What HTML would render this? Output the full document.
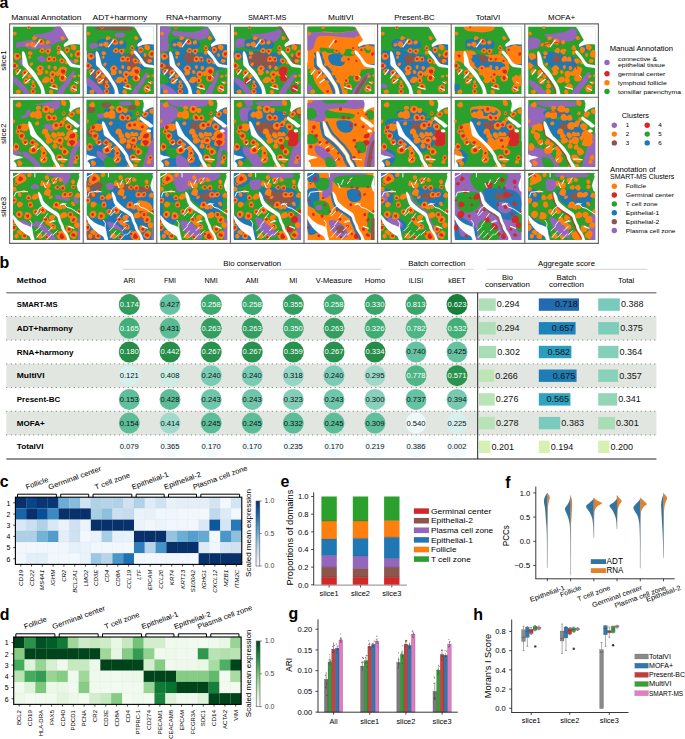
<!DOCTYPE html>
<html><head><meta charset="utf-8"><title>figure</title>
<style>
html,body{margin:0;padding:0;background:#fff;width:685px;height:739px;overflow:hidden;}
svg{display:block;font-family:"Liberation Sans",sans-serif;}
</style></head><body>
<svg width="685" height="739" viewBox="0 0 685 739">
<rect width="685" height="739" fill="#fff"/>
<defs><clipPath id="cl0"><rect x="29" y="25" width="622" height="626"/></clipPath><g id="g0o0"><path id="b0_0o" d="M185,21C188,23 190,30 190,34C190,38 187,42 184,45C181,48 176,51 173,50C169,50 165,46 162,42C160,39 158,32 159,29C160,25 167,23 171,22C175,20 181,19 185,21Z"/><path id="b0_2o" d="M254,128C255,133 247,141 243,144C239,148 236,150 231,151C226,152 216,154 212,151C209,147 207,137 208,131C209,125 215,118 220,116C224,114 231,116 237,118C243,120 253,124 254,128Z"/><path id="b0_4o" d="M161,210C156,211 150,210 147,207C144,205 143,197 144,193C145,189 149,184 152,182C156,179 162,177 166,178C171,179 180,183 182,188C184,193 181,203 178,207C175,211 167,210 161,210Z"/><path id="b0_6o" d="M358,153C364,154 369,162 371,167C372,172 371,180 368,184C365,187 360,189 355,190C350,192 341,194 338,191C334,189 332,180 332,174C332,168 334,160 339,157C343,153 353,151 358,153Z"/><path id="b0_8o" d="M357,287C351,288 343,277 337,271C331,265 322,258 323,253C323,247 334,241 340,237C346,234 352,232 359,233C366,234 380,237 383,243C385,249 376,259 372,267C368,274 363,286 357,287Z"/><path id="b0_10o" d="M470,124C472,120 478,114 483,113C487,112 493,116 497,119C502,122 508,127 509,132C509,137 505,146 501,149C496,152 487,154 482,152C478,150 475,144 473,139C471,134 469,128 470,124Z"/><path id="b0_12o" d="M36,306C34,296 38,281 45,275C51,269 66,270 74,271C82,273 89,279 94,285C99,291 105,302 103,309C101,316 92,324 83,328C75,333 61,338 53,334C45,330 37,316 36,306Z"/><path id="b0_14o" d="M388,343C383,349 373,353 365,353C357,354 344,351 340,345C336,339 339,327 342,320C344,313 349,307 355,304C361,300 371,296 378,298C384,301 391,311 393,319C395,326 392,337 388,343Z"/><path id="b0_16o" d="M440,282C436,279 434,272 434,267C434,263 437,256 441,253C445,250 452,249 457,250C462,251 469,255 471,260C472,264 469,271 467,276C465,280 460,287 456,288C451,289 444,286 440,282Z"/><path id="b0_18o" d="M532,376C529,378 522,376 518,374C515,371 512,367 511,363C510,359 510,353 512,350C515,346 521,343 525,344C530,344 535,347 538,350C541,353 542,360 541,364C540,368 536,374 532,376Z"/><path id="b0_20o" d="M612,205C616,211 618,221 616,228C614,235 606,245 600,247C594,248 585,242 579,238C573,235 566,230 565,224C563,217 565,206 569,200C574,195 585,191 592,192C599,193 608,199 612,205Z"/><path id="b0_22o" d="M583,286C584,290 582,294 580,298C578,302 574,310 571,310C567,311 562,303 559,299C557,295 556,292 557,287C557,283 559,276 562,274C565,273 573,274 576,276C580,278 583,283 583,286Z"/><path id="b0_24o" d="M37,357C45,356 53,365 60,370C68,376 81,383 81,390C81,396 68,404 61,409C54,415 45,422 38,421C32,419 28,408 24,401C20,393 13,383 15,376C18,369 30,358 37,357Z"/><path id="b0_26o" d="M282,384C289,383 298,388 304,394C310,400 317,412 316,419C314,426 302,431 294,435C286,440 274,448 266,446C259,443 247,429 246,421C245,413 256,402 261,396C267,390 274,384 282,384Z"/><path id="b0_28o" d="M433,421C430,425 424,431 419,431C415,431 409,425 406,420C404,416 403,410 404,406C405,401 408,394 412,392C416,390 425,390 429,393C433,395 437,402 437,407C438,411 436,417 433,421Z"/><path id="b0_30o" d="M52,434C54,428 60,424 66,421C72,418 83,412 88,415C93,417 97,429 98,435C98,442 97,450 93,455C89,460 81,465 74,465C68,466 56,462 52,457C49,452 49,440 52,434Z"/><path id="b0_32o" d="M201,495C198,500 194,503 188,505C183,507 173,508 169,505C165,502 164,492 165,486C165,480 168,472 172,469C176,466 184,469 189,471C195,473 202,475 204,479C206,483 203,491 201,495Z"/><path id="b0_34o" d="M365,465C366,456 372,445 379,440C386,436 400,435 409,438C417,442 427,453 428,461C429,469 422,479 417,486C412,493 404,505 396,505C389,506 379,495 374,488C369,482 364,473 365,465Z"/><path id="b0_36o" d="M469,484C459,479 447,463 445,450C443,438 449,420 457,411C465,402 482,397 494,397C506,398 525,406 529,415C534,424 525,439 521,450C518,461 517,475 508,480C500,486 480,489 469,484Z"/><path id="b0_38o" d="M134,510C139,505 152,499 158,500C165,502 169,514 173,521C177,529 183,539 181,545C179,551 167,557 159,559C151,561 139,561 133,556C128,552 127,540 127,533C127,525 129,516 134,510Z"/><path id="b0_40o" d="M295,532C293,525 305,513 311,507C317,500 322,494 331,492C339,491 356,490 362,496C368,502 370,520 367,529C364,537 353,543 345,546C337,550 328,552 320,550C311,548 296,539 295,532Z"/><path id="b0_42o" d="M205,561C209,557 216,553 221,554C226,555 232,560 236,565C239,571 243,580 241,586C239,592 230,598 223,600C216,602 204,602 200,598C195,593 197,582 198,575C198,569 201,564 205,561Z"/><path id="b0_44o" d="M61,643C57,639 53,627 55,621C58,616 69,612 75,611C81,609 89,609 93,612C97,615 100,622 101,628C101,633 100,640 96,644C93,647 86,649 80,649C74,648 66,648 61,643Z"/><path id="b0_46o" d="M397,620C400,624 403,631 403,636C402,642 398,651 393,653C388,655 380,651 375,648C370,646 364,642 362,637C361,632 362,624 365,619C368,614 376,608 381,608C387,608 393,615 397,620Z"/><path id="b0_48o" d="M612,541C613,537 615,530 618,528C622,527 628,530 633,532C637,534 644,538 645,542C645,546 639,551 635,555C632,558 627,564 624,563C620,563 615,557 613,553C612,549 611,545 612,541Z"/><path id="b0_50o" d="M629,482C628,479 629,473 631,472C634,470 639,470 642,471C646,472 649,473 651,476C653,479 655,486 654,488C653,491 646,492 642,492C639,492 635,493 633,491C631,490 629,485 629,482Z"/></g><g id="g0i0"><path id="b0_0i" d="M168,36C167,34 168,31 169,29C170,28 174,28 176,28C177,28 179,30 180,31C181,33 183,36 182,37C182,39 179,41 178,42C176,42 174,41 172,40C170,39 168,38 168,36Z"/><path id="b0_8i" d="M345,246C347,244 352,243 354,244C357,244 361,247 362,250C364,252 362,256 361,259C360,262 358,268 355,268C353,269 348,265 346,262C344,260 342,258 342,255C342,252 343,248 345,246Z"/><path id="b0_12i" d="M67,286C70,285 76,286 79,288C83,289 87,294 87,298C87,301 83,305 81,308C78,311 74,314 71,314C68,313 65,310 62,307C60,304 55,298 56,295C57,292 63,288 67,286Z"/><path id="b0_14i" d="M361,337C358,336 356,332 354,329C353,326 352,320 354,318C355,316 361,315 364,315C367,315 370,316 372,318C375,320 379,324 379,327C379,329 374,332 371,334C368,336 364,338 361,337Z"/><path id="b0_24i" d="M54,403C51,405 45,406 41,405C37,404 32,400 30,396C29,392 31,387 33,383C35,380 38,375 42,374C46,373 54,374 56,377C59,380 57,386 57,391C56,395 57,400 54,403Z"/><path id="b0_26i" d="M278,403C281,402 284,402 287,403C289,404 292,407 293,410C294,413 293,418 291,419C289,421 285,421 282,421C279,421 275,420 273,419C272,417 271,412 272,409C273,407 276,404 278,403Z"/><path id="b0_30i" d="M86,439C87,443 87,448 85,451C82,453 76,455 73,454C70,453 67,448 66,445C65,442 65,439 66,437C67,434 69,432 72,431C75,429 80,427 83,429C85,430 86,436 86,439Z"/><path id="b0_34i" d="M391,480C388,478 384,477 383,474C382,471 384,467 386,464C388,462 391,459 394,459C397,458 402,458 405,461C407,463 410,468 409,472C409,475 405,481 402,482C399,484 395,481 391,480Z"/><path id="b0_36i" d="M492,463C487,462 481,458 478,454C475,449 472,443 473,438C474,433 479,427 483,425C488,423 495,422 500,424C505,426 511,432 513,437C515,442 514,452 510,456C507,460 498,463 492,463Z"/><path id="b0_38i" d="M146,541C144,539 142,536 141,533C141,530 141,525 143,523C145,521 150,520 154,521C157,521 163,522 164,525C166,527 165,534 163,536C162,539 158,541 155,542C152,542 148,542 146,541Z"/><path id="b0_42i" d="M210,579C209,577 208,574 209,571C209,569 212,565 214,565C216,564 220,567 222,568C224,570 226,572 226,575C226,577 226,582 224,584C223,585 217,586 215,586C213,585 211,581 210,579Z"/></g><g id="g0o1"><path id="b0_1o" d="M58,104C54,107 46,109 42,108C38,107 34,101 32,97C30,93 28,87 30,84C31,80 36,76 41,75C45,73 51,73 55,76C59,78 63,84 64,89C64,94 61,101 58,104Z"/><path id="b0_3o" d="M294,196C286,196 277,190 271,184C265,179 260,168 260,160C261,152 269,140 276,137C283,134 294,139 301,142C307,146 311,151 315,158C318,165 324,178 321,185C318,191 303,196 294,196Z"/><path id="b0_5o" d="M188,176C192,171 202,167 210,168C217,168 228,173 231,179C235,185 235,196 232,204C230,211 223,221 217,222C211,223 203,215 197,211C192,207 185,204 183,198C182,192 183,181 188,176Z"/><path id="b0_7o" d="M290,270C283,267 273,262 272,256C271,250 279,242 283,236C288,231 294,223 300,223C306,223 316,229 320,235C323,240 322,248 321,255C319,262 316,272 311,274C306,277 297,273 290,270Z"/><path id="b0_9o" d="M431,230C430,225 434,219 437,213C440,208 447,198 452,198C457,198 462,209 466,214C469,219 475,224 474,230C474,236 469,247 464,249C459,251 450,245 444,242C439,238 432,235 431,230Z"/><path id="b0_11o" d="M170,281C168,276 167,266 170,261C173,257 183,255 189,255C194,255 201,257 205,261C209,265 212,273 211,278C210,283 203,287 199,290C194,293 187,295 183,294C178,293 172,287 170,281Z"/><path id="b0_13o" d="M184,325C181,325 175,322 173,319C170,315 168,309 169,306C171,302 177,300 180,299C184,298 188,298 191,299C194,301 196,305 197,308C197,311 196,315 194,318C192,321 188,325 184,325Z"/><path id="b0_15o" d="M428,326C430,333 434,343 431,347C428,351 417,350 410,350C403,351 390,352 387,348C384,344 390,333 392,326C394,318 393,308 398,304C403,301 416,303 421,307C427,310 427,319 428,326Z"/><path id="b0_17o" d="M455,341C455,335 461,323 467,320C473,317 483,322 490,325C496,327 505,331 508,337C510,343 508,354 504,360C500,365 490,371 484,371C478,371 473,364 468,359C463,354 455,348 455,341Z"/><path id="b0_19o" d="M517,215C522,212 535,214 541,218C548,221 555,229 556,236C557,242 554,251 550,258C546,264 537,275 530,275C524,275 515,263 511,257C508,251 507,244 508,237C509,230 511,218 517,215Z"/><path id="b0_21o" d="M650,311C643,316 628,316 620,313C611,309 603,298 601,290C599,282 604,272 608,264C613,256 620,244 629,243C637,241 653,247 659,254C665,261 666,275 665,285C663,294 658,306 650,311Z"/><path id="b0_23o" d="M634,334C637,338 637,350 634,355C631,359 622,360 616,361C610,362 603,364 599,362C595,359 593,351 592,345C592,340 595,332 599,329C603,326 610,328 615,329C621,329 631,329 634,334Z"/><path id="b0_25o" d="M187,388C184,384 181,377 183,373C184,369 189,366 193,364C197,361 202,357 206,358C210,359 215,366 215,370C216,374 212,378 210,382C208,385 206,392 202,393C198,394 190,391 187,388Z"/><path id="b0_27o" d="M354,388C358,384 366,381 370,383C374,384 377,392 378,396C379,401 378,404 377,408C375,412 372,420 369,421C365,422 358,417 355,414C352,410 350,406 350,401C349,397 351,391 354,388Z"/><path id="b0_29o" d="M258,445C261,437 265,425 271,423C277,421 288,427 294,431C300,435 307,442 308,448C309,454 305,464 300,469C295,474 287,477 280,478C273,478 259,476 255,470C252,465 256,452 258,445Z"/><path id="b0_31o" d="M167,457C166,466 164,476 158,481C151,486 137,492 129,489C122,486 117,473 114,465C112,457 113,448 117,441C120,435 128,429 136,426C144,424 160,423 165,428C170,433 168,448 167,457Z"/><path id="b0_33o" d="M324,440C326,435 332,429 336,429C340,428 345,432 349,435C353,438 357,442 358,447C358,451 356,459 352,462C349,465 340,468 336,466C332,465 329,458 327,453C325,449 323,444 324,440Z"/><path id="b0_35o" d="M420,455C422,450 428,443 434,441C439,439 450,438 454,442C458,445 459,453 460,459C461,466 463,475 460,479C457,483 446,484 440,483C434,482 427,479 423,475C420,470 419,461 420,455Z"/><path id="b0_37o" d="M476,478C484,474 495,468 503,471C511,474 522,485 524,494C527,504 523,520 516,526C510,533 496,536 486,535C477,535 464,530 459,523C454,516 454,502 457,494C460,487 468,482 476,478Z"/><path id="b0_39o" d="M219,555C215,556 210,554 206,551C203,549 200,544 199,540C199,536 201,530 204,527C207,524 214,522 218,523C222,524 226,529 228,533C230,537 231,543 229,546C228,550 223,554 219,555Z"/><path id="b0_41o" d="M370,543C366,538 365,531 365,524C365,516 366,503 371,500C377,496 390,498 397,501C404,504 413,512 415,518C417,525 414,537 410,542C405,548 395,552 389,552C382,552 374,548 370,543Z"/><path id="b0_43o" d="M443,590C441,596 429,601 422,604C415,607 406,610 399,608C392,605 383,596 381,588C379,581 381,567 386,561C392,555 404,553 413,553C421,554 430,558 435,564C440,570 445,583 443,590Z"/><path id="b0_45o" d="M211,656C205,655 198,645 195,639C191,633 188,623 190,617C192,612 202,606 208,605C214,603 222,605 227,608C233,612 240,619 241,625C242,631 237,639 232,644C227,650 217,657 211,656Z"/><path id="b0_47o" d="M571,629C563,623 556,610 556,601C556,592 563,580 570,574C577,568 590,562 599,564C608,565 620,576 623,584C626,592 622,603 619,612C615,620 609,631 601,634C593,637 578,634 571,629Z"/><path id="b0_49o" d="M613,493C611,496 607,498 603,499C599,500 593,503 590,501C587,499 584,491 585,487C585,484 589,480 592,478C595,476 599,475 602,475C606,475 613,476 615,479C617,482 615,490 613,493Z"/></g><g id="g0i1"><path id="b0_3i" d="M291,176C288,177 281,177 279,174C277,172 279,165 280,161C281,158 283,153 286,151C289,150 295,152 298,154C301,156 305,160 306,163C306,166 302,170 300,172C298,174 295,176 291,176Z"/><path id="b0_7i" d="M310,252C309,255 306,257 304,258C301,259 298,259 296,258C294,257 291,255 290,252C289,250 289,244 291,242C292,241 297,241 300,241C303,242 306,243 307,244C309,246 311,250 310,252Z"/><path id="b0_9i" d="M442,221C442,219 447,218 449,217C452,216 455,216 457,217C460,218 463,221 463,224C464,226 461,230 459,232C457,234 453,237 451,237C448,236 446,232 444,230C443,227 441,223 442,221Z"/><path id="b0_15i" d="M419,319C421,320 421,327 420,330C420,333 419,336 417,338C415,341 410,343 407,342C404,342 402,337 401,335C399,332 399,328 401,325C402,323 405,321 408,320C411,319 417,317 419,319Z"/><path id="b0_17i" d="M492,347C491,350 490,354 488,355C485,356 481,355 478,354C476,352 473,350 472,348C471,346 473,342 474,339C476,337 478,333 481,333C484,332 490,334 491,337C493,339 492,344 492,347Z"/><path id="b0_19i" d="M529,252C526,252 523,250 521,248C520,246 519,241 520,239C521,236 524,234 526,233C529,232 533,231 535,233C538,234 540,237 541,240C541,243 541,248 539,250C537,252 532,253 529,252Z"/><path id="b0_21i" d="M618,280C618,276 621,272 624,270C627,267 632,265 636,265C640,266 646,270 648,273C649,277 646,282 644,286C642,290 639,297 636,298C632,299 626,294 623,291C620,288 617,283 618,280Z"/><path id="b0_31i" d="M149,466C145,469 140,470 137,468C133,467 132,463 130,459C129,456 127,452 128,449C130,446 134,443 138,443C141,442 145,443 148,446C151,448 156,452 156,455C156,459 152,464 149,466Z"/><path id="b0_37i" d="M473,499C473,495 474,488 478,485C481,483 490,483 494,485C498,487 501,493 502,498C503,502 503,508 500,512C498,516 492,521 488,521C484,522 477,517 474,513C472,510 472,504 473,499Z"/><path id="b0_41i" d="M386,515C389,514 394,515 396,518C399,520 400,525 399,528C399,532 397,537 394,538C392,540 386,539 383,538C381,536 378,533 378,530C377,528 377,524 379,522C380,519 383,516 386,515Z"/><path id="b0_43i" d="M426,584C425,587 422,591 419,593C416,596 410,598 406,597C403,596 400,591 398,587C397,583 397,577 399,574C401,571 407,568 411,568C414,568 418,571 421,574C423,576 426,580 426,584Z"/><path id="b0_45i" d="M210,640C207,639 206,633 205,630C204,626 202,621 204,619C205,617 211,617 214,616C218,616 223,615 226,617C228,619 230,626 229,629C228,633 224,635 220,637C217,639 212,641 210,640Z"/><path id="b0_47i" d="M605,602C604,606 603,610 599,613C596,615 589,620 585,619C581,617 578,609 576,605C575,600 576,595 578,591C581,587 586,581 591,581C595,580 604,583 606,587C609,590 606,598 605,602Z"/></g><g id="mk0" fill="#fff" stroke="#fff"><path d="M452,15L470,28L492,58L512,92L530,125L545,152L528,168L508,180L498,198L505,216L522,206L552,196L600,189L665,192L700,192L700,0L452,0Z"/><path d="M466,252C468,248 477,248 482,250C487,252 488,252 497,263C506,274 524,299 535,313C546,327 551,339 560,349C569,359 575,368 590,374C605,380 634,384 652,386C670,388 692,383 700,387C708,391 708,405 700,409C692,413 672,410 652,409C632,408 595,406 577,401C559,396 556,389 545,377C534,365 524,341 514,327C504,313 491,301 484,292C477,283 473,281 470,274C467,267 464,256 466,252Z"/><path d="M122,256C126,256 133,262 139,274C145,286 151,310 156,327C161,344 164,365 169,378C174,391 177,390 189,404C201,418 226,442 239,460C252,478 258,495 268,513C278,531 293,548 302,566C311,584 317,600 321,619C325,638 332,670 327,680C322,690 297,690 291,680C285,670 293,638 289,619C285,600 276,584 266,566C256,548 242,530 229,513C216,496 203,479 189,462C175,445 158,423 146,410C134,397 124,396 119,382C114,368 117,345 116,327C115,309 112,286 113,274C114,262 118,256 122,256Z"/><polyline points="66,470 84,447 100,428" fill="none" stroke-width="11" stroke-linecap="round" stroke-linejoin="round"/><polyline points="118,502 140,475 160,452" fill="none" stroke-width="11" stroke-linecap="round" stroke-linejoin="round"/><polyline points="146,546 166,530 186,516" fill="none" stroke-width="11" stroke-linecap="round" stroke-linejoin="round"/><polyline points="232,214 256,182 280,152" fill="none" stroke-width="10" stroke-linecap="round" stroke-linejoin="round"/><polyline points="372,586 405,597 440,606" fill="none" stroke-width="11" stroke-linecap="round" stroke-linejoin="round"/><polyline points="577,596 597,606 617,616" fill="none" stroke-width="11" stroke-linecap="round" stroke-linejoin="round"/><polyline points="506,482 520,494" fill="none" stroke-width="9" stroke-linecap="round" stroke-linejoin="round"/><polyline points="602,540 622,550" fill="none" stroke-width="9" stroke-linecap="round" stroke-linejoin="round"/></g><clipPath id="cl1"><rect x="29" y="25" width="622" height="621"/></clipPath><g id="g1o0"><path id="b1_0o" d="M90,42C96,43 101,53 104,60C107,66 110,74 108,80C106,86 99,93 92,95C86,97 76,96 69,92C63,88 52,78 53,72C53,65 64,58 70,53C77,48 84,41 90,42Z"/><path id="b1_2o" d="M300,105C302,96 311,87 318,83C326,79 337,79 346,81C354,84 366,90 370,99C373,107 373,123 368,131C362,140 349,148 339,149C328,150 312,145 306,138C300,131 298,115 300,105Z"/><path id="b1_4o" d="M226,181C221,172 225,155 229,145C234,135 245,124 254,121C264,119 280,124 287,130C294,136 295,148 296,159C297,169 299,185 293,192C286,199 269,204 257,202C246,200 230,191 226,181Z"/><path id="b1_6o" d="M485,76C480,71 479,64 477,56C476,49 472,34 476,29C481,25 497,26 504,29C511,31 516,38 520,44C523,50 525,58 523,64C522,71 515,81 508,83C502,85 491,80 485,76Z"/><path id="b1_8o" d="M543,156C545,149 555,143 562,139C569,135 578,131 585,133C592,134 604,143 605,150C606,156 597,165 593,171C588,178 584,187 578,188C571,190 559,187 553,181C547,176 541,163 543,156Z"/><path id="b1_10o" d="M347,156C355,153 369,159 376,163C384,168 388,175 391,183C393,190 395,203 391,209C387,215 375,217 366,218C358,218 347,217 341,211C335,205 328,193 329,184C330,174 339,160 347,156Z"/><path id="b1_12o" d="M241,259C237,257 233,251 233,247C232,243 235,237 239,234C242,231 247,227 252,227C257,227 267,228 270,232C273,236 272,247 269,252C267,257 261,260 256,261C251,263 245,262 241,259Z"/><path id="b1_14o" d="M64,277C66,271 72,265 78,261C83,257 91,252 99,253C107,254 120,261 123,268C126,275 121,289 116,296C111,303 101,308 94,308C86,309 74,306 70,301C65,296 63,284 64,277Z"/><path id="b1_16o" d="M25,237C22,234 20,229 20,224C20,220 22,214 25,211C28,209 35,207 40,208C44,209 50,214 51,218C53,222 51,228 48,232C46,236 42,240 38,241C34,242 28,240 25,237Z"/><path id="b1_18o" d="M454,272C449,267 448,256 449,249C451,242 458,235 464,231C470,228 482,227 487,231C492,234 495,243 497,250C498,257 499,268 496,272C492,276 482,276 475,276C468,276 458,276 454,272Z"/><path id="b1_20o" d="M570,296C564,302 552,307 544,306C536,306 528,299 522,292C517,285 508,274 509,265C510,257 523,246 531,243C540,240 552,243 559,248C567,252 576,261 578,269C579,277 575,290 570,296Z"/><path id="b1_22o" d="M346,344C341,348 329,346 321,345C313,343 302,341 298,335C295,329 297,317 300,310C303,303 310,295 317,293C324,290 335,292 342,296C348,300 355,310 356,318C357,326 352,339 346,344Z"/><path id="b1_24o" d="M418,330C425,333 430,339 433,346C437,352 440,364 437,370C433,377 422,386 415,386C408,386 401,376 395,371C390,366 384,360 383,353C383,346 386,332 392,328C397,325 411,327 418,330Z"/><path id="b1_26o" d="M510,348C509,353 504,360 499,362C495,364 488,364 483,362C478,360 471,356 470,351C468,346 471,339 474,334C477,329 484,323 489,323C494,322 500,328 504,333C507,337 511,343 510,348Z"/><path id="b1_28o" d="M401,414C400,409 400,401 403,397C406,393 414,392 420,392C426,392 435,391 439,395C442,399 441,409 440,414C438,420 434,426 429,429C424,431 415,434 410,431C405,429 402,420 401,414Z"/><path id="b1_30o" d="M626,348C630,360 629,380 622,391C614,401 594,413 582,413C570,412 558,398 548,388C538,377 521,362 521,349C522,336 539,313 552,307C565,302 587,308 600,314C612,321 622,335 626,348Z"/><path id="b1_32o" d="M509,394C505,390 501,381 502,376C504,371 511,366 516,363C521,361 528,360 533,362C538,364 546,370 547,374C547,379 541,385 538,390C535,394 531,398 526,399C521,400 513,397 509,394Z"/><path id="b1_34o" d="M159,392C164,395 167,407 168,415C169,423 170,432 166,437C163,443 152,446 145,446C138,445 129,443 123,437C118,431 108,418 110,412C112,405 126,401 134,397C143,394 153,389 159,392Z"/><path id="b1_36o" d="M231,451C227,447 226,437 228,431C230,426 238,419 243,419C248,418 255,423 259,427C263,430 269,434 269,438C269,443 265,449 262,452C258,456 252,459 247,459C242,459 234,456 231,451Z"/><path id="b1_38o" d="M438,470C434,475 426,477 419,477C413,477 403,476 399,471C395,466 393,455 395,448C397,442 404,433 409,431C415,429 425,432 430,435C436,439 439,445 441,451C442,457 441,466 438,470Z"/><path id="b1_40o" d="M499,537C491,534 485,522 483,514C480,506 480,496 484,488C488,480 498,468 506,467C514,466 524,477 531,484C538,491 548,501 547,509C547,518 536,530 528,534C520,539 506,540 499,537Z"/><path id="b1_42o" d="M220,524C210,525 193,525 186,518C179,510 175,491 178,480C181,470 194,462 204,457C214,452 230,445 239,449C249,453 259,470 260,481C262,491 255,505 249,513C242,520 231,523 220,524Z"/><path id="b1_44o" d="M324,546C333,548 346,554 349,562C352,569 348,583 343,591C338,599 329,609 320,611C312,613 297,609 289,602C282,596 276,582 277,572C277,563 287,550 295,545C303,541 315,543 324,546Z"/><path id="b1_46o" d="M468,587C468,580 475,573 480,568C484,563 489,558 495,557C500,557 506,562 511,567C516,572 523,579 523,586C522,592 514,601 508,605C501,608 490,609 483,606C477,603 469,593 468,587Z"/><path id="b1_48o" d="M608,617C602,617 592,617 589,613C586,609 587,598 589,593C592,588 599,584 604,583C609,581 617,581 620,584C624,586 626,593 626,598C627,603 627,611 624,614C621,617 614,617 608,617Z"/><path id="b1_50o" d="M411,659C406,656 402,649 401,644C400,639 402,633 405,628C409,624 415,617 420,617C426,616 436,621 439,625C441,630 438,638 437,644C435,650 434,658 430,661C425,663 416,662 411,659Z"/></g><g id="g1i0"><path id="b1_2i" d="M324,115C323,111 322,107 323,104C325,100 328,94 332,93C335,92 341,96 345,99C348,102 351,107 351,111C351,115 348,121 345,123C341,126 334,128 331,126C327,125 325,119 324,115Z"/><path id="b1_8i" d="M584,150C586,152 586,158 586,161C585,164 584,169 581,170C579,171 575,170 572,169C568,169 562,168 561,165C560,162 563,156 565,154C567,151 570,149 574,149C577,148 582,148 584,150Z"/><path id="b1_10i" d="M370,207C366,208 360,205 356,203C353,200 350,195 350,191C349,187 349,179 352,176C355,173 364,173 368,174C371,176 374,180 376,184C378,187 380,192 379,196C378,200 374,206 370,207Z"/><path id="b1_14i" d="M90,299C86,299 78,295 76,291C73,288 75,282 76,277C77,272 77,264 81,262C85,259 94,260 99,262C103,265 108,271 109,276C109,280 105,286 102,290C99,294 94,299 90,299Z"/><path id="b1_18i" d="M461,253C462,249 466,247 470,245C473,243 478,241 480,242C483,243 484,248 485,252C486,256 488,260 487,263C485,266 480,269 476,270C472,270 467,268 464,265C462,262 460,256 461,253Z"/><path id="b1_20i" d="M543,289C539,288 534,285 532,282C530,279 530,273 531,269C533,266 538,265 542,263C546,262 552,259 555,261C557,263 558,270 558,274C558,278 558,284 556,287C553,289 547,289 543,289Z"/><path id="b1_30i" d="M600,337C605,341 607,354 606,361C605,368 599,375 593,378C588,382 581,383 574,382C567,381 553,378 551,373C549,367 556,355 560,349C564,344 570,342 576,340C583,337 595,334 600,337Z"/><path id="b1_34i" d="M139,431C136,430 132,426 132,423C131,419 131,413 134,410C136,408 141,407 145,407C149,407 155,408 157,411C159,414 158,420 157,423C156,427 153,430 150,431C147,433 142,433 139,431Z"/><path id="b1_40i" d="M504,522C500,521 495,515 494,510C493,506 494,500 497,496C499,493 504,489 508,489C512,488 518,492 520,495C523,498 523,503 523,507C522,510 521,515 517,517C514,520 508,523 504,522Z"/><path id="b1_42i" d="M229,506C224,509 217,510 212,508C208,506 201,500 200,495C199,491 204,485 207,481C210,476 215,470 219,469C223,469 229,475 232,479C236,483 240,489 239,494C239,498 233,504 229,506Z"/><path id="b1_44i" d="M331,574C331,578 328,585 325,587C322,589 317,587 313,587C308,586 301,586 299,583C297,580 300,573 302,569C304,566 309,564 312,563C315,563 320,563 323,565C326,566 330,571 331,574Z"/></g><g id="g1o1"><path id="b1_1o" d="M270,83C275,84 283,85 286,90C289,94 289,106 286,110C282,114 274,113 268,114C261,115 253,119 249,116C245,113 241,102 242,96C243,91 249,84 254,82C259,80 264,81 270,83Z"/><path id="b1_3o" d="M367,125C367,119 369,108 373,105C378,101 389,100 395,102C401,104 409,109 411,114C413,120 410,128 407,133C404,138 401,145 395,147C390,148 380,147 375,144C371,140 368,132 367,125Z"/><path id="b1_5o" d="M184,168C183,161 190,151 196,146C202,140 212,133 219,134C226,135 234,144 238,151C243,158 248,170 246,176C243,182 231,186 223,189C215,191 206,192 200,189C193,186 184,176 184,168Z"/><path id="b1_7o" d="M511,136C514,139 516,145 516,150C516,154 515,161 511,164C508,167 501,168 496,167C492,165 486,161 484,158C483,154 486,149 488,144C490,140 492,133 496,132C500,131 507,133 511,136Z"/><path id="b1_9o" d="M645,157C639,159 632,155 626,152C621,150 614,146 611,140C609,134 609,122 613,117C617,111 628,106 635,107C642,107 650,114 654,120C658,126 663,135 662,141C660,148 651,155 645,157Z"/><path id="b1_11o" d="M395,212C390,208 385,200 385,193C385,187 388,177 394,172C399,167 412,161 419,163C426,165 434,177 436,184C439,192 439,203 436,209C432,215 421,219 414,219C407,220 399,216 395,212Z"/><path id="b1_13o" d="M174,252C180,259 181,277 178,287C175,297 165,309 155,313C145,317 128,317 119,312C110,306 101,291 100,281C99,270 105,255 112,249C119,243 132,246 142,246C153,247 168,245 174,252Z"/><path id="b1_15o" d="M90,331C87,336 81,344 76,344C70,345 63,338 60,333C56,328 52,321 53,315C54,310 60,302 65,300C70,298 78,300 83,302C88,305 93,310 94,315C95,320 93,326 90,331Z"/><path id="b1_17o" d="M391,265C391,255 401,244 408,238C415,232 425,230 433,230C442,231 454,235 458,242C463,249 464,261 461,271C459,280 453,294 444,299C435,303 415,304 406,298C398,292 391,275 391,265Z"/><path id="b1_19o" d="M507,239C506,245 504,253 500,256C496,258 487,255 482,253C476,250 468,246 466,241C464,235 466,224 470,220C474,216 484,217 490,217C496,217 505,217 508,220C511,224 508,233 507,239Z"/><path id="b1_21o" d="M493,202C494,197 498,191 502,189C506,187 513,187 517,189C522,190 527,195 529,200C530,205 529,213 526,217C523,221 515,225 511,224C506,224 500,220 497,216C494,212 492,206 493,202Z"/><path id="b1_23o" d="M324,357C323,349 323,335 328,331C333,326 347,327 354,330C361,332 363,339 368,345C372,351 382,361 380,367C378,373 365,377 357,380C350,382 339,384 333,380C327,376 325,365 324,357Z"/><path id="b1_25o" d="M460,363C453,364 446,366 442,363C437,360 434,352 434,346C433,339 434,329 438,325C442,321 453,321 459,323C466,324 471,329 475,335C478,341 484,352 481,357C479,361 466,362 460,363Z"/><path id="b1_27o" d="M399,404C398,412 388,421 380,425C373,430 361,435 353,432C345,430 335,419 333,411C331,403 336,390 341,384C346,379 355,379 363,378C371,377 381,374 387,379C393,383 400,397 399,404Z"/><path id="b1_29o" d="M436,378C443,371 455,367 464,367C474,366 488,370 493,377C499,383 500,397 498,407C496,417 490,430 482,434C474,439 458,438 449,434C440,430 429,419 427,409C425,400 430,385 436,378Z"/><path id="b1_31o" d="M561,376C573,370 595,367 606,374C617,381 628,403 628,416C627,428 613,444 604,450C594,457 582,456 570,456C558,455 536,455 530,446C524,438 530,417 535,405C540,393 549,381 561,376Z"/><path id="b1_33o" d="M141,352C143,360 141,371 136,380C132,388 120,404 112,404C103,403 93,387 88,379C83,371 80,364 81,354C82,345 84,328 91,324C98,320 115,326 123,331C131,335 139,344 141,352Z"/><path id="b1_35o" d="M212,386C219,386 230,397 233,404C237,411 237,421 235,427C232,434 225,439 219,442C212,444 203,447 196,444C190,441 182,431 181,425C180,418 186,409 191,403C196,396 205,386 212,386Z"/><path id="b1_37o" d="M325,490C322,496 311,503 304,503C298,503 290,495 286,490C281,485 275,479 275,473C275,467 281,459 287,455C292,452 301,451 307,453C313,455 318,461 321,467C324,473 328,483 325,490Z"/><path id="b1_39o" d="M466,442C471,438 481,434 486,436C491,439 492,449 494,455C496,462 501,472 498,477C495,483 483,487 475,487C468,488 456,484 453,478C449,473 453,462 455,456C457,450 461,445 466,442Z"/><path id="b1_41o" d="M30,471C28,463 34,455 38,447C42,439 48,424 55,423C62,422 75,433 80,439C85,446 87,455 86,462C86,470 84,480 77,486C71,492 56,500 48,497C40,495 31,480 30,471Z"/><path id="b1_43o" d="M341,512C343,520 343,530 338,537C334,543 325,551 317,552C309,553 294,549 289,543C285,537 287,524 289,515C290,507 292,494 298,489C305,485 320,486 327,490C335,494 339,505 341,512Z"/><path id="b1_45o" d="M488,545C492,552 496,566 493,574C490,582 478,591 469,593C461,595 448,591 442,586C435,581 429,570 429,562C428,553 431,540 437,535C444,530 456,531 465,532C473,534 483,538 488,545Z"/><path id="b1_47o" d="M640,571C638,576 630,582 624,583C618,584 609,582 604,578C600,574 597,565 597,559C598,553 603,547 608,543C613,538 622,532 627,533C633,535 636,546 638,552C640,559 642,566 640,571Z"/><path id="b1_49o" d="M116,610C117,616 113,628 108,632C103,637 90,639 84,637C78,634 75,625 73,619C70,612 67,606 68,600C70,594 78,583 83,582C89,581 98,589 103,593C109,598 115,603 116,610Z"/><path id="b1_51o" d="M496,640C494,645 492,651 487,654C483,656 474,656 469,654C465,651 463,643 462,638C462,632 462,625 465,622C469,618 476,619 481,619C487,619 496,619 499,622C501,626 498,635 496,640Z"/></g><g id="g1i1"><path id="b1_7i" d="M494,144C496,142 499,142 501,142C503,143 505,145 506,146C508,148 510,152 509,154C508,155 504,156 502,156C500,157 497,157 495,156C494,156 493,153 493,150C493,148 493,145 494,144Z"/><path id="b1_11i" d="M399,198C398,194 397,188 399,186C401,183 406,183 410,183C414,183 419,184 421,187C422,189 421,194 420,197C419,200 417,204 415,205C412,207 407,207 405,206C402,205 400,201 399,198Z"/><path id="b1_15i" d="M70,312C72,310 76,308 79,309C82,310 85,314 86,316C86,319 83,322 82,324C80,327 78,332 76,332C74,333 71,328 69,326C67,324 65,321 65,319C65,316 68,313 70,312Z"/><path id="b1_17i" d="M444,261C444,265 442,270 439,272C436,275 429,278 425,277C421,276 417,270 415,266C414,262 414,256 416,252C418,249 424,245 427,244C431,244 436,247 439,250C442,253 444,257 444,261Z"/><path id="b1_29i" d="M464,414C460,414 454,414 451,410C448,407 446,399 447,395C449,391 456,389 460,387C464,386 468,386 471,388C475,390 480,393 481,397C482,401 479,407 476,410C474,413 469,414 464,414Z"/><path id="b1_31i" d="M586,399C593,401 603,408 605,414C606,421 600,431 595,437C590,443 580,453 574,453C568,452 563,440 558,433C553,426 543,418 544,412C545,406 559,401 566,399C573,397 580,396 586,399Z"/><path id="b1_33i" d="M98,371C94,368 90,361 90,357C91,353 98,350 102,347C107,345 113,340 117,341C121,342 127,350 128,354C129,359 124,364 122,368C119,372 115,377 112,377C108,378 102,375 98,371Z"/><path id="b1_35i" d="M211,434C207,434 203,432 200,429C197,427 194,421 194,418C195,414 200,410 203,408C207,407 211,407 215,408C219,409 226,411 228,415C229,418 225,425 222,428C219,431 215,434 211,434Z"/><path id="b1_39i" d="M480,469C478,471 474,471 471,470C468,469 464,466 463,463C463,461 465,457 467,454C469,451 471,448 474,447C477,446 484,448 486,450C488,453 487,459 486,462C485,465 483,468 480,469Z"/><path id="b1_41i" d="M67,446C71,448 77,452 78,456C79,461 76,468 73,471C70,474 64,475 60,475C56,474 52,471 49,468C47,465 45,460 46,456C46,452 50,447 53,445C57,443 63,444 67,446Z"/><path id="b1_43i" d="M316,509C319,509 325,510 327,512C329,514 327,521 326,523C325,526 322,528 319,530C316,531 311,532 309,531C306,529 304,525 303,522C303,519 305,514 307,512C309,510 313,509 316,509Z"/><path id="b1_45i" d="M443,563C443,559 446,553 449,550C452,547 457,546 461,546C465,546 471,547 474,551C476,554 478,561 477,565C476,569 470,574 466,575C462,577 456,575 452,573C449,571 444,566 443,563Z"/><path id="b1_47i" d="M610,557C611,554 612,549 615,548C617,546 623,547 626,549C629,551 633,555 634,558C634,561 630,564 628,567C625,570 622,574 619,574C617,574 613,569 611,566C610,564 609,560 610,557Z"/></g><g id="mk1" fill="#fff" stroke="#fff"><path d="M545,0L700,0L700,92L655,92L620,98L585,118L560,140L548,125L557,95L560,60L550,30L545,25Z"/><path d="M522,190C523,185 528,179 534,180C540,181 549,191 558,197C567,203 578,209 589,216C600,223 612,233 622,241C632,249 645,257 647,264C649,271 638,279 632,281C626,283 615,282 608,278C601,274 597,266 589,259C581,252 568,242 558,234C548,226 533,216 527,209C521,202 521,195 522,190Z"/><ellipse cx="604" cy="312" rx="20" ry="15"/><path d="M175,225C178,224 186,225 192,233C198,241 206,260 212,273C218,286 224,300 231,313C238,326 247,342 255,353C263,364 270,368 281,379C292,390 305,405 318,418C331,431 346,445 358,458C370,471 379,485 388,498C397,511 408,525 414,538C420,551 418,565 424,578C430,591 444,605 451,617C458,629 468,646 466,652C464,658 444,658 436,652C428,646 424,629 417,617C410,605 400,591 394,578C388,565 388,551 381,538C374,525 362,511 351,498C340,485 330,471 318,458C306,445 292,431 278,418C264,405 245,392 231,381C217,370 203,366 195,355C187,344 188,327 185,313C182,299 177,285 175,273C173,261 172,248 172,240C172,232 172,226 175,225Z"/><path d="M27,533C32,524 48,540 60,543C72,546 90,546 100,549C110,552 125,556 122,560C119,564 94,568 82,571C70,574 59,576 50,581C41,586 31,606 27,598C23,590 22,542 27,533Z"/><path d="M27,598C31,590 44,599 50,606C56,613 66,632 62,640C58,648 33,659 27,652C21,645 23,606 27,598Z"/><polyline points="200,470 228,452" fill="none" stroke-width="10" stroke-linecap="round" stroke-linejoin="round"/><polyline points="258,486 272,472" fill="none" stroke-width="9" stroke-linecap="round" stroke-linejoin="round"/><polyline points="290,585 310,570" fill="none" stroke-width="9" stroke-linecap="round" stroke-linejoin="round"/><polyline points="450,575 490,575 530,580" fill="none" stroke-width="11" stroke-linecap="round" stroke-linejoin="round"/><polyline points="145,440 160,430" fill="none" stroke-width="9" stroke-linecap="round" stroke-linejoin="round"/><polyline points="600,312 620,318" fill="none" stroke-width="12" stroke-linecap="round" stroke-linejoin="round"/></g><clipPath id="cl2"><rect x="29" y="25" width="622" height="621"/></clipPath><g id="g2o0"><path id="b2_0o" d="M48,98C44,85 54,67 62,56C70,44 82,31 95,29C107,27 127,34 137,44C147,54 157,75 154,87C152,99 133,108 121,115C109,122 94,132 82,129C70,126 51,110 48,98Z"/><path id="b2_2o" d="M177,20C182,18 192,20 196,23C200,27 201,36 201,42C200,48 198,56 193,60C189,63 178,65 173,63C167,61 161,53 160,48C159,42 164,37 167,32C169,27 172,21 177,20Z"/><path id="b2_4o" d="M112,192C113,188 119,185 123,183C127,181 132,179 136,181C140,182 146,186 147,190C148,194 147,201 144,205C142,209 136,212 131,212C126,213 119,212 116,208C112,205 110,196 112,192Z"/><path id="b2_6o" d="M285,118C287,111 289,97 295,95C300,93 312,100 318,104C324,109 332,116 332,122C333,128 325,136 320,140C315,145 308,149 302,148C296,148 286,144 283,139C280,134 283,125 285,118Z"/><path id="b2_8o" d="M361,57C364,61 365,69 364,74C362,79 357,82 352,84C348,87 340,92 336,91C331,89 328,80 326,75C325,69 323,60 326,55C329,51 339,47 345,47C350,47 358,52 361,57Z"/><path id="b2_10o" d="M483,105C478,108 472,108 466,107C461,106 454,104 452,99C449,95 450,87 452,82C454,76 459,67 464,66C469,65 476,72 481,76C486,80 493,84 494,89C494,94 487,102 483,105Z"/><path id="b2_12o" d="M511,179C507,184 498,190 492,189C486,189 480,184 475,179C469,174 459,167 460,160C460,154 469,145 476,141C483,136 496,133 502,136C508,139 512,151 513,158C515,165 514,174 511,179Z"/><path id="b2_14o" d="M582,173C577,171 569,167 567,161C565,156 567,145 570,141C574,136 583,135 589,135C595,135 604,137 607,141C609,144 607,153 606,158C604,163 603,170 599,172C595,175 588,175 582,173Z"/><path id="b2_16o" d="M233,217C240,215 254,216 260,222C266,227 271,242 269,250C267,258 256,263 248,267C240,271 231,276 223,274C216,272 203,262 202,255C200,248 210,238 216,232C221,225 225,218 233,217Z"/><path id="b2_18o" d="M168,315C168,308 170,296 176,292C182,289 196,290 202,293C208,297 211,307 213,314C215,322 217,333 213,338C210,343 197,346 190,346C184,345 176,340 172,335C169,330 167,322 168,315Z"/><path id="b2_20o" d="M25,266C30,261 36,253 42,253C49,253 61,258 64,264C67,269 65,280 63,287C60,294 56,305 50,307C45,309 34,305 28,301C22,297 15,290 15,284C14,278 21,271 25,266Z"/><path id="b2_22o" d="M482,219C484,212 492,204 498,201C504,199 512,201 520,204C527,206 539,210 542,217C545,224 544,240 538,246C533,253 519,253 511,253C502,253 491,251 486,245C482,239 480,227 482,219Z"/><path id="b2_24o" d="M604,240C603,234 609,226 613,221C618,215 625,207 631,207C637,207 644,215 649,221C653,227 657,236 656,242C654,247 645,253 639,255C633,257 626,256 620,254C614,251 605,245 604,240Z"/><path id="b2_26o" d="M454,342C448,349 437,353 428,353C418,353 402,348 398,342C394,335 401,320 404,312C408,304 412,297 420,293C427,290 440,287 447,290C455,294 462,306 463,315C465,324 460,336 454,342Z"/><path id="b2_28o" d="M489,354C486,350 484,345 484,340C484,335 484,329 488,325C491,321 500,315 505,316C510,317 518,325 519,330C521,336 518,342 516,347C513,352 509,360 505,361C501,362 493,357 489,354Z"/><path id="b2_30o" d="M234,409C227,408 219,403 216,397C213,391 213,380 216,374C219,367 228,361 234,360C241,358 250,361 256,365C262,369 270,378 271,385C271,392 264,404 258,408C252,412 241,411 234,409Z"/><path id="b2_32o" d="M181,395C190,400 200,409 202,418C203,427 198,442 192,448C185,455 173,458 164,457C154,457 139,454 135,447C130,440 135,427 137,417C140,408 142,392 149,388C156,384 172,390 181,395Z"/><path id="b2_34o" d="M354,468C352,475 343,487 336,488C330,488 320,478 315,473C310,467 306,461 306,454C306,448 309,437 314,434C319,430 330,429 336,431C343,433 348,440 351,446C354,452 357,461 354,468Z"/><path id="b2_36o" d="M375,475C380,481 387,487 387,494C387,500 382,514 376,517C370,519 360,512 353,509C346,506 337,504 334,499C332,493 335,483 339,476C343,469 351,458 357,458C363,458 370,469 375,475Z"/><path id="b2_38o" d="M528,432C523,439 512,440 503,442C494,444 478,448 472,443C466,438 464,419 466,411C469,403 479,397 486,393C494,389 502,386 510,388C517,390 526,398 529,405C532,412 532,426 528,432Z"/><path id="b2_40o" d="M565,483C559,477 555,463 556,455C558,446 566,437 574,431C582,426 596,420 605,423C614,426 624,440 626,449C628,458 623,472 617,479C612,485 601,487 592,488C583,488 571,488 565,483Z"/><path id="b2_42o" d="M556,511C565,514 572,524 576,532C579,539 578,550 575,556C572,563 565,568 557,571C549,574 533,581 526,577C520,573 519,556 518,546C518,536 518,521 525,515C531,510 548,508 556,511Z"/><path id="b2_44o" d="M626,582C629,591 622,603 617,613C613,622 608,637 600,639C592,642 578,632 570,626C562,619 553,609 553,601C553,592 563,584 571,577C578,569 590,556 599,556C608,557 623,572 626,582Z"/><path id="b2_46o" d="M11,519C14,512 24,505 31,504C38,502 48,505 54,509C59,513 63,521 64,528C65,534 62,542 57,548C52,554 43,564 36,564C29,563 20,552 15,545C11,537 8,526 11,519Z"/><path id="b2_48o" d="M129,636C121,634 111,629 108,622C105,616 106,604 109,597C113,590 121,581 129,580C136,578 149,582 154,587C159,592 159,602 160,610C160,618 159,631 154,635C149,639 136,638 129,636Z"/><path id="b2_50o" d="M252,595C256,589 265,582 272,581C279,580 291,585 295,590C300,596 302,606 301,613C300,621 296,631 290,634C284,638 274,634 267,632C260,629 251,625 248,619C246,613 248,601 252,595Z"/><path id="b2_52o" d="M454,585C456,589 455,595 453,598C451,602 446,607 442,607C438,607 433,602 431,599C428,596 427,592 427,588C427,585 428,577 431,576C434,574 441,576 444,577C448,579 453,582 454,585Z"/></g><g id="g2i0"><path id="b2_0i" d="M84,72C87,67 91,58 95,57C100,56 107,62 112,66C116,70 124,76 124,80C124,85 116,90 111,94C106,98 100,103 95,102C89,101 81,95 79,90C77,85 82,78 84,72Z"/><path id="b2_12i" d="M502,175C500,178 494,180 490,180C486,180 480,178 478,175C476,172 477,166 479,162C480,159 482,157 485,155C488,154 493,151 496,153C499,154 502,158 503,162C504,166 504,172 502,175Z"/><path id="b2_14i" d="M598,163C596,165 591,168 589,168C586,167 583,163 581,160C580,158 579,154 580,152C581,149 585,147 587,146C589,146 593,146 595,148C597,149 599,151 599,154C600,157 600,161 598,163Z"/><path id="b2_18i" d="M198,311C201,312 203,317 203,320C203,324 200,328 198,330C195,332 190,334 186,333C183,333 178,329 177,326C176,323 179,318 181,315C183,312 185,310 188,309C191,309 196,309 198,311Z"/><path id="b2_20i" d="M30,283C30,280 30,277 32,274C33,271 37,268 39,267C42,267 47,270 49,272C51,274 52,279 51,282C51,285 47,287 44,288C42,290 37,293 35,292C33,291 31,286 30,283Z"/><path id="b2_22i" d="M516,211C519,212 523,217 524,221C524,224 522,229 520,232C517,235 514,238 511,239C508,239 503,236 500,234C498,231 496,226 497,223C498,220 502,218 505,216C508,214 512,210 516,211Z"/><path id="b2_26i" d="M433,307C436,308 441,310 443,314C444,317 445,323 443,326C442,329 437,333 433,334C430,335 424,333 422,331C419,328 419,324 419,320C419,317 419,312 421,310C424,307 429,306 433,307Z"/><path id="b2_30i" d="M237,395C233,394 227,393 226,391C225,388 229,383 231,380C233,377 235,373 238,372C241,371 246,373 249,376C251,378 255,383 255,386C255,389 250,393 247,395C244,396 240,396 237,395Z"/><path id="b2_32i" d="M174,438C171,441 163,442 160,440C156,439 155,433 154,429C152,425 149,419 151,416C152,413 159,413 163,412C168,411 175,410 178,412C180,414 179,422 178,426C177,431 177,436 174,438Z"/><path id="b2_34i" d="M323,464C320,462 315,458 315,456C315,453 321,450 323,447C326,445 329,442 332,442C336,443 341,445 343,448C345,451 345,457 344,461C342,465 337,469 334,469C330,470 327,466 323,464Z"/><path id="b2_40i" d="M596,470C592,473 587,478 583,477C579,476 574,469 574,465C573,461 577,457 580,453C582,449 585,443 589,442C593,441 601,444 604,447C606,451 605,458 604,462C603,466 599,468 596,470Z"/><path id="b2_42i" d="M545,532C549,531 554,530 558,532C561,534 564,539 565,543C565,547 564,552 561,556C559,559 553,562 549,561C545,561 541,556 538,553C536,549 534,544 535,540C537,537 541,534 545,532Z"/><path id="b2_44i" d="M609,608C608,612 599,615 595,616C590,617 585,615 581,612C577,610 569,605 569,601C568,597 574,589 578,586C582,584 588,584 593,585C597,586 601,589 604,592C607,596 611,604 609,608Z"/><path id="b2_46i" d="M38,516C43,516 50,515 52,517C55,520 53,527 52,531C51,535 51,539 48,542C45,545 38,548 34,547C31,546 28,539 27,535C25,530 23,524 25,521C27,518 34,517 38,516Z"/><path id="b2_48i" d="M150,610C150,614 146,619 143,621C140,622 136,621 133,620C130,619 127,617 126,614C124,612 121,607 122,604C124,600 128,596 132,595C136,594 141,596 145,598C148,601 150,607 150,610Z"/><path id="b2_52i" d="M440,579C443,579 447,580 449,582C451,585 453,590 453,593C452,596 448,599 445,600C442,602 437,602 435,601C433,599 432,595 432,592C432,589 431,586 433,584C434,582 437,580 440,579Z"/></g><g id="g2o1"><path id="b2_1o" d="M47,117C49,114 54,113 58,112C63,111 69,110 72,112C76,115 80,122 80,127C79,131 74,137 69,139C65,142 59,142 55,141C50,140 44,135 43,131C41,127 44,120 47,117Z"/><path id="b2_3o" d="M59,191C55,195 45,198 39,197C34,196 29,190 25,186C22,181 18,175 19,169C20,164 25,156 31,154C36,151 45,152 51,155C56,157 62,164 63,171C64,177 63,187 59,191Z"/><path id="b2_5o" d="M74,230C73,225 73,220 75,215C78,211 84,204 88,203C93,203 98,210 102,214C106,218 110,222 110,228C110,233 106,242 102,245C98,248 88,246 83,243C79,241 76,235 74,230Z"/><path id="b2_7o" d="M359,170C352,173 338,173 331,168C323,164 316,151 316,143C315,134 320,121 327,115C333,110 346,108 355,110C363,111 374,117 378,124C381,131 378,142 375,150C372,158 367,167 359,170Z"/><path id="b2_9o" d="M411,126C403,125 395,117 390,110C386,102 382,90 384,83C387,77 399,73 407,71C415,69 426,67 431,71C437,74 439,85 440,93C440,101 441,112 436,117C431,123 418,127 411,126Z"/><path id="b2_11o" d="M412,157C412,151 423,145 429,142C435,139 442,137 447,139C453,141 459,148 461,153C462,158 459,165 456,170C453,175 448,182 442,182C437,183 430,180 425,175C419,171 411,162 412,157Z"/><path id="b2_13o" d="M571,117C568,113 566,107 567,102C569,97 574,88 579,87C584,85 595,88 599,92C603,96 604,104 604,110C604,115 602,122 598,126C594,129 586,130 581,129C577,128 573,122 571,117Z"/><path id="b2_15o" d="M345,175C354,173 372,174 377,181C383,187 379,202 377,212C376,222 376,235 370,239C364,243 351,238 342,235C333,233 320,230 317,223C314,216 318,202 323,194C327,186 336,178 345,175Z"/><path id="b2_17o" d="M182,276C176,278 168,277 163,274C158,270 152,264 151,257C150,251 152,241 156,236C161,231 172,226 179,227C185,228 191,237 195,243C199,249 203,259 201,265C199,270 188,275 182,276Z"/><path id="b2_19o" d="M108,296C115,300 123,309 124,315C124,322 115,329 110,334C105,339 100,345 93,346C87,346 77,341 72,336C68,330 65,319 67,311C69,304 77,296 84,293C91,291 102,293 108,296Z"/><path id="b2_21o" d="M390,234C393,235 397,243 397,248C397,252 394,257 390,260C387,263 383,267 378,267C374,268 366,265 363,261C361,257 363,249 365,245C367,241 371,240 375,238C380,236 386,232 390,234Z"/><path id="b2_23o" d="M536,247C531,242 528,227 530,220C532,213 541,207 548,204C555,200 564,197 570,200C576,202 582,212 584,218C585,224 581,233 578,237C574,242 568,245 561,247C554,249 541,251 536,247Z"/><path id="b2_25o" d="M565,302C566,298 574,292 579,291C584,290 591,293 595,296C598,299 599,303 601,309C602,314 605,324 602,328C599,332 587,332 582,331C577,329 574,323 571,318C568,314 563,307 565,302Z"/><path id="b2_27o" d="M483,360C480,364 471,364 465,364C459,363 451,363 448,359C444,355 442,346 443,340C443,333 448,321 453,319C458,317 469,323 474,327C479,330 483,335 485,341C487,346 487,356 483,360Z"/><path id="b2_29o" d="M300,342C308,339 321,339 328,344C334,348 338,362 337,371C337,380 333,394 326,399C319,404 304,406 296,403C288,400 281,390 278,382C275,374 275,363 279,356C282,350 291,344 300,342Z"/><path id="b2_31o" d="M69,384C76,379 89,373 98,375C107,378 118,390 120,398C123,407 117,420 112,428C106,435 96,444 88,444C80,444 70,436 64,430C59,424 55,414 56,406C56,398 62,389 69,384Z"/><path id="b2_33o" d="M13,487C9,481 13,469 16,462C19,455 25,446 31,444C37,442 46,447 52,451C58,455 64,461 65,467C66,473 62,482 58,488C53,493 44,500 37,500C29,500 16,494 13,487Z"/><path id="b2_35o" d="M402,412C409,414 420,425 421,431C422,438 412,446 407,452C402,459 398,468 391,469C385,470 373,465 368,459C363,454 361,442 362,435C364,428 371,422 378,418C385,414 395,410 402,412Z"/><path id="b2_37o" d="M399,550C390,550 377,547 373,540C369,534 372,522 374,513C376,505 380,490 386,488C392,486 404,495 411,500C417,504 424,507 427,515C430,522 431,536 426,542C422,548 408,550 399,550Z"/><path id="b2_39o" d="M588,402C590,408 586,419 582,425C578,432 569,441 562,442C555,443 544,436 539,430C533,423 530,413 531,405C532,398 540,389 547,386C553,383 562,385 569,388C576,391 585,395 588,402Z"/><path id="b2_41o" d="M663,386C662,391 654,397 648,399C643,402 634,403 629,400C624,398 621,389 620,384C620,378 624,373 628,369C631,365 636,359 641,359C645,359 651,365 654,369C658,374 664,381 663,386Z"/><path id="b2_43o" d="M595,513C594,506 597,497 602,492C606,486 616,481 623,481C631,481 642,488 645,494C649,501 648,512 645,519C642,526 635,535 629,536C623,538 613,534 608,530C602,526 596,519 595,513Z"/><path id="b2_45o" d="M515,584C524,595 534,612 532,624C529,636 511,652 499,655C488,658 473,649 462,643C452,637 441,629 437,618C434,607 435,587 443,577C450,568 470,560 482,561C494,562 507,574 515,584Z"/><path id="b2_47o" d="M74,557C79,553 88,551 94,552C100,553 107,558 110,564C114,569 118,579 116,586C113,592 104,600 98,601C91,602 85,595 79,591C73,587 62,582 62,577C61,571 69,561 74,557Z"/><path id="b2_49o" d="M174,578C174,572 175,564 179,562C183,559 192,560 197,562C202,564 207,569 209,574C211,579 210,588 208,592C205,596 197,596 191,597C186,597 179,596 176,593C173,590 173,583 174,578Z"/><path id="b2_51o" d="M346,640C340,641 333,638 329,635C325,632 324,626 323,621C323,616 323,607 326,604C329,602 337,603 343,603C349,604 357,605 360,609C364,613 365,624 362,629C360,635 351,639 346,640Z"/><path id="b2_53o" d="M54,632C49,630 45,622 44,617C42,612 43,607 45,602C47,597 51,590 56,588C61,586 71,588 75,592C80,596 84,605 83,611C83,617 79,625 74,629C69,633 59,634 54,632Z"/></g><g id="g2i1"><path id="b2_1i" d="M54,119C55,117 59,117 61,118C63,118 65,120 66,121C67,123 69,126 68,128C68,130 64,130 62,131C60,132 56,134 55,133C53,132 52,128 52,126C52,123 53,120 54,119Z"/><path id="b2_9i" d="M407,88C410,85 413,84 416,84C419,84 422,86 424,89C426,91 429,96 428,99C427,102 422,103 419,105C415,106 412,108 409,106C405,105 401,100 400,97C400,94 404,90 407,88Z"/><path id="b2_11i" d="M442,170C439,170 436,169 434,167C432,165 431,162 431,160C431,157 431,154 433,152C436,149 440,146 443,146C447,147 451,151 453,154C454,157 453,163 451,165C449,168 445,170 442,170Z"/><path id="b2_17i" d="M185,264C184,266 178,266 174,266C171,266 165,266 163,263C161,261 161,254 163,252C164,249 169,247 171,247C174,246 177,246 180,247C182,248 184,250 185,253C186,256 187,262 185,264Z"/><path id="b2_23i" d="M555,238C552,238 548,233 547,230C546,226 548,221 550,219C552,216 555,215 559,214C562,213 569,212 571,214C573,216 572,223 571,226C570,229 568,231 565,233C563,235 558,239 555,238Z"/><path id="b2_29i" d="M301,385C298,384 295,379 293,375C291,372 290,366 291,363C293,360 298,356 302,356C306,355 310,358 313,361C315,363 318,367 318,370C318,373 315,376 312,379C309,381 304,386 301,385Z"/><path id="b2_31i" d="M97,415C95,419 92,425 89,426C86,427 80,422 78,420C75,417 72,414 72,410C72,407 73,401 76,399C79,397 84,395 88,396C91,396 95,401 97,404C98,407 98,412 97,415Z"/><path id="b2_33i" d="M43,459C46,460 51,462 52,464C53,467 51,472 50,475C48,477 45,479 42,480C39,482 33,484 30,482C27,480 25,474 25,470C25,466 28,460 31,458C34,456 39,458 43,459Z"/><path id="b2_37i" d="M403,508C407,509 412,511 413,514C414,517 412,523 410,525C408,528 405,530 402,531C399,531 395,531 392,529C390,527 388,523 388,520C388,516 389,511 392,509C395,507 400,507 403,508Z"/><path id="b2_39i" d="M549,402C551,399 556,397 559,397C563,396 568,398 571,400C573,403 576,409 575,413C575,416 571,422 568,424C564,425 557,426 554,424C551,422 550,417 549,413C548,410 547,405 549,402Z"/><path id="b2_41i" d="M636,388C634,386 632,384 631,382C630,380 630,376 632,373C633,371 638,368 640,368C643,368 646,372 647,374C649,377 652,380 652,383C651,386 648,390 645,391C643,392 639,389 636,388Z"/><path id="b2_45i" d="M461,611C461,605 462,599 466,595C470,590 479,583 484,585C489,586 492,595 496,601C499,607 507,615 505,620C504,626 494,635 488,636C481,638 470,634 466,630C461,626 461,617 461,611Z"/><path id="b2_51i" d="M348,628C345,630 342,633 339,632C336,632 332,629 330,626C328,623 327,619 328,616C329,613 333,609 336,608C339,607 344,608 347,609C349,611 351,616 351,619C352,622 350,625 348,628Z"/></g><g id="mk2" fill="#fff" stroke="#fff"><path d="M265,200C268,200 276,205 281,213C286,221 293,234 298,246C303,258 302,273 311,286C320,299 336,313 351,326C366,339 387,354 404,366C421,378 441,388 451,399C461,410 460,420 464,432C468,444 472,459 477,472C482,485 492,499 497,512C502,525 503,539 510,552C517,565 530,580 537,592C544,604 546,615 550,625C554,635 562,648 558,652C554,656 533,656 528,652C523,648 530,635 527,625C524,615 517,604 510,592C503,580 490,565 483,552C476,539 475,525 470,512C465,499 456,485 451,472C446,459 446,444 437,432C428,420 412,412 397,401C382,390 360,380 344,368C328,356 309,342 298,328C287,314 283,300 278,286C273,272 271,258 268,246C265,234 262,221 262,213C262,205 262,200 265,200Z"/><path d="M33,418C39,419 57,446 70,458C83,470 97,480 110,488C123,496 139,503 150,508C161,513 169,514 178,518C187,522 196,523 202,530C208,537 209,550 212,562C215,574 215,586 218,600C221,614 231,637 228,645C225,653 208,654 200,648C192,642 188,621 180,612C172,603 162,600 150,592C138,584 122,572 110,562C98,552 90,544 80,532C70,520 58,505 50,492C42,479 36,464 33,452C30,440 27,417 33,418Z"/><path d="M655,25L639,36L645,63L627,113L620,144L633,188L655,206L700,206L700,25Z"/><polyline points="30,66 60,48 86,32" fill="none" stroke-width="10" stroke-linecap="round" stroke-linejoin="round"/><polyline points="232,22 232,62" fill="none" stroke-width="9" stroke-linecap="round" stroke-linejoin="round"/><polyline points="312,122 330,162" fill="none" stroke-width="9" stroke-linecap="round" stroke-linejoin="round"/><polyline points="342,132 362,90" fill="none" stroke-width="9" stroke-linecap="round" stroke-linejoin="round"/><polyline points="420,92 440,70" fill="none" stroke-width="9" stroke-linecap="round" stroke-linejoin="round"/><polyline points="400,125 420,100" fill="none" stroke-width="9" stroke-linecap="round" stroke-linejoin="round"/><polyline points="42,241 56,204 93,200 130,195 165,200" fill="none" stroke-width="9" stroke-linecap="round" stroke-linejoin="round"/><polyline points="305,330 270,355 241,408" fill="none" stroke-width="9" stroke-linecap="round" stroke-linejoin="round"/><polyline points="252,422 292,380" fill="none" stroke-width="8" stroke-linecap="round" stroke-linejoin="round"/><polyline points="320,442 350,402" fill="none" stroke-width="8" stroke-linecap="round" stroke-linejoin="round"/><polyline points="186,464 204,492 200,530" fill="none" stroke-width="8" stroke-linecap="round" stroke-linejoin="round"/><polyline points="240,562 282,520" fill="none" stroke-width="8" stroke-linecap="round" stroke-linejoin="round"/><polyline points="250,622 300,562" fill="none" stroke-width="8" stroke-linecap="round" stroke-linejoin="round"/><polyline points="300,622 340,582" fill="none" stroke-width="8" stroke-linecap="round" stroke-linejoin="round"/><polyline points="345,640 390,590" fill="none" stroke-width="8" stroke-linecap="round" stroke-linejoin="round"/><polyline points="280,510 310,470" fill="none" stroke-width="8" stroke-linecap="round" stroke-linejoin="round"/><polyline points="370,483 408,464" fill="none" stroke-width="8" stroke-linecap="round" stroke-linejoin="round"/><polyline points="360,560 400,520" fill="none" stroke-width="8" stroke-linecap="round" stroke-linejoin="round"/><polyline points="400,600 440,560" fill="none" stroke-width="8" stroke-linecap="round" stroke-linejoin="round"/><polyline points="472,315 500,306 528,343 565,353 593,371 621,390 649,408" fill="none" stroke-width="9" stroke-linecap="round" stroke-linejoin="round"/><polyline points="470,322 520,310" fill="none" stroke-width="8" stroke-linecap="round" stroke-linejoin="round"/><polyline points="547,520 593,538" fill="none" stroke-width="10" stroke-linecap="round" stroke-linejoin="round"/><polyline points="380,482 420,470" fill="none" stroke-width="8" stroke-linecap="round" stroke-linejoin="round"/></g></defs>
<text x="-0.40" y="8.30" font-size="15.96" font-weight="bold">a</text>
<text x="46.40" y="19.72" font-size="7.81" text-anchor="middle" textLength="70.20" lengthAdjust="spacingAndGlyphs">Manual Annotation</text>
<text x="120.00" y="19.72" font-size="7.81" text-anchor="middle" textLength="54.72" lengthAdjust="spacingAndGlyphs">ADT+harmony</text>
<text x="193.60" y="19.72" font-size="7.81" text-anchor="middle" textLength="55.18" lengthAdjust="spacingAndGlyphs">RNA+harmony</text>
<text x="267.20" y="19.72" font-size="7.81" text-anchor="middle" textLength="38.55" lengthAdjust="spacingAndGlyphs">SMART-MS</text>
<text x="340.80" y="19.72" font-size="7.81" text-anchor="middle" textLength="25.47" lengthAdjust="spacingAndGlyphs">MultiVI</text>
<text x="414.40" y="19.72" font-size="7.81" text-anchor="middle" textLength="40.50" lengthAdjust="spacingAndGlyphs">Present-BC</text>
<text x="488.00" y="19.72" font-size="7.81" text-anchor="middle" textLength="24.66" lengthAdjust="spacingAndGlyphs">TotalVI</text>
<text x="561.60" y="19.72" font-size="7.81" text-anchor="middle" textLength="27.20" lengthAdjust="spacingAndGlyphs">MOFA+</text>
<text x="6.10" y="60.60" font-size="7.41" text-anchor="middle" textLength="20.32" lengthAdjust="spacingAndGlyphs" transform="rotate(-90.00 6.10 60.60)">slice1</text>
<text x="6.10" y="133.85" font-size="7.41" text-anchor="middle" textLength="20.32" lengthAdjust="spacingAndGlyphs" transform="rotate(-90.00 6.10 133.85)">slice2</text>
<text x="6.10" y="206.90" font-size="7.41" text-anchor="middle" textLength="20.32" lengthAdjust="spacingAndGlyphs" transform="rotate(-90.00 6.10 206.90)">slice3</text>
<g transform="translate(9.8,23.7) scale(0.10803)" clip-path="url(#cl0)"><rect x="29" y="25" width="622" height="626" fill="#2ca02c"/><path d="M425,25C437,20 458,19 470,25C482,31 487,48 495,60C503,72 512,88 518,100C524,112 532,126 530,135C528,144 516,150 505,155C494,160 478,164 465,168C452,172 437,173 425,178C413,183 404,196 395,198C386,200 379,197 372,190C365,183 361,166 352,158C343,150 331,145 318,140C305,135 285,131 272,128C259,125 248,123 238,120C228,117 212,116 212,112C212,108 225,101 240,98C255,95 281,95 300,92C319,89 335,86 352,80C369,74 388,64 400,55C412,46 413,30 425,25Z" fill="#9467bd"/><path d="M62,178C69,169 90,171 105,168C120,165 133,161 150,158C167,155 186,150 205,152C224,154 241,164 262,170C283,176 310,182 330,188C350,194 374,197 382,206C390,215 384,236 375,240C366,244 346,234 330,232C314,230 297,225 280,226C263,227 247,237 230,238C213,239 193,235 180,232C167,229 163,221 150,218C137,215 115,215 100,216C85,217 68,230 62,224C56,218 55,187 62,178Z" fill="#9467bd"/><path d="M260,305C267,300 288,296 300,300C312,304 329,321 332,330C335,339 329,353 320,356C311,359 290,354 280,350C270,346 261,338 258,330C255,322 253,310 260,305Z" fill="#9467bd"/><path d="M28,495C34,490 50,494 62,502C74,510 89,529 102,542C115,555 130,569 142,582C154,595 164,610 172,622C180,634 193,650 188,655C183,660 153,661 140,655C127,649 122,632 110,618C98,604 84,586 70,572C56,558 35,545 28,532C21,519 22,500 28,495Z" fill="#9467bd"/><path d="M438,655C431,647 445,622 452,608C459,594 472,581 482,568C492,555 502,544 512,532C522,520 532,509 540,498C548,487 553,478 560,468C567,458 573,444 580,440C587,436 600,435 602,442C604,449 597,469 592,482C587,495 578,507 570,522C562,537 552,557 542,572C532,587 520,598 512,612C504,626 504,648 492,655C480,662 445,663 438,655Z" fill="#9467bd"/><path d="M88,340C92,334 104,325 110,330C116,335 124,361 122,370C120,379 106,387 100,386C94,385 86,372 84,364C82,356 84,346 88,340Z" fill="#9467bd"/><path d="M558,330C564,329 583,340 590,348C597,356 605,371 602,376C599,381 578,382 570,378C562,374 554,360 552,352C550,344 552,331 558,330Z" fill="#9467bd"/><use href="#g0o0" fill="#ff7f0e"/><use href="#g0o1" fill="#ff7f0e"/><use href="#g0i0" fill="#d62728"/><use href="#g0i1" fill="#d62728"/><use href="#mk0"/></g>
<g transform="translate(83.4,23.7) scale(0.10803)" clip-path="url(#cl0)"><rect x="29" y="25" width="622" height="626" fill="#1f77b4"/><path d="M27,25C98,-12 376,17 455,25C534,33 487,58 498,75C509,92 519,109 520,125C521,141 511,155 505,170C499,185 492,200 485,215C478,230 471,250 460,262C449,274 434,284 420,285C406,286 390,275 375,270C360,265 348,260 330,255C312,250 292,243 270,240C248,237 222,237 200,238C178,239 158,242 140,245C122,248 109,254 90,255C71,256 38,288 27,250C16,212 -44,62 27,25Z" fill="#2ca02c"/><path d="M120,30C148,25 247,28 300,28C353,28 415,26 440,30C465,34 460,49 450,55C440,61 405,63 380,64C355,65 330,63 300,62C270,61 228,59 200,58C172,57 143,61 130,56C117,51 92,35 120,30Z" fill="#8c564b"/><path d="M140,152C157,137 210,139 250,140C290,141 356,147 380,160C404,173 405,207 392,220C379,233 340,234 300,236C260,238 177,246 150,232C123,218 123,167 140,152Z" fill="#1f77b4"/><path d="M300,90C313,85 356,80 370,85C384,90 392,110 385,118C378,126 346,130 330,130C314,130 297,122 292,115C287,108 287,95 300,90Z" fill="#9467bd"/><path d="M62,188C72,181 107,177 120,180C133,183 147,200 142,208C137,216 105,228 92,230C79,232 67,229 62,222C57,215 52,195 62,188Z" fill="#9467bd"/><path d="M400,280C412,265 453,277 470,290C487,303 498,338 500,360C502,382 492,408 480,420C468,432 443,437 430,430C417,423 405,405 400,380C395,355 388,295 400,280Z" fill="#8c564b"/><path d="M505,205C531,194 630,166 655,195C680,224 670,351 655,382C640,413 587,390 565,382C543,374 536,355 525,335C514,315 503,284 500,262C497,240 479,216 505,205Z" fill="#1f77b4"/><path d="M550,225C561,220 603,219 615,228C627,237 627,270 620,280C613,290 587,293 575,290C563,287 552,271 548,260C544,249 539,230 550,225Z" fill="#2ca02c"/><path d="M560,300C568,292 599,288 610,295C621,302 628,328 625,340C622,352 601,365 590,365C579,365 565,351 560,340C555,329 552,308 560,300Z" fill="#8c564b"/><path d="M390,570C400,546 420,530 440,510C460,490 490,464 510,450C530,436 536,430 560,425C584,420 641,380 657,418C673,456 703,616 657,655C611,694 424,669 380,655C336,641 380,594 390,570Z" fill="#2ca02c"/><path d="M445,655C441,646 460,617 470,600C480,583 493,570 505,555C517,540 530,524 540,510C550,496 558,479 565,470C572,461 579,455 585,455C591,455 602,459 600,470C598,481 584,503 575,520C566,537 556,553 545,570C534,587 518,606 510,620C502,634 506,649 495,655C484,661 449,664 445,655Z" fill="#9467bd"/><path d="M27,420C32,407 53,417 60,430C67,443 76,487 70,500C64,513 34,523 27,510C20,497 22,433 27,420Z" fill="#2ca02c"/><path d="M28,505C35,498 55,506 70,515C85,524 105,546 120,560C135,574 148,587 160,600C172,613 185,631 190,640C195,649 198,652 190,655C182,658 155,661 140,655C125,649 113,632 100,620C87,608 72,595 60,585C48,575 33,573 28,560C23,547 21,512 28,505Z" fill="#9467bd"/><path d="M90,470C97,458 122,440 140,440C158,440 184,455 200,470C216,485 233,512 235,530C237,548 224,575 210,580C196,585 168,571 150,560C132,549 110,530 100,515C90,500 83,482 90,470Z" fill="#8c564b"/><use href="#g0o0" fill="#ff7f0e"/><use href="#g0o1" fill="#ff7f0e"/><use href="#g0i0" fill="#d62728"/><use href="#g0i1" fill="#d62728"/><use href="#mk0"/></g>
<g transform="translate(157.0,23.7) scale(0.10803)" clip-path="url(#cl0)"><rect x="29" y="25" width="622" height="626" fill="#1f77b4"/><path d="M27,25C98,-14 376,16 455,25C534,34 490,62 500,80C510,98 515,113 515,130C515,147 506,163 500,180C494,197 487,216 480,230C473,244 473,258 460,265C447,272 422,272 400,270C378,268 355,255 330,250C305,245 277,240 250,240C223,240 195,247 170,250C145,253 124,258 100,260C76,262 39,299 27,260C15,221 -44,64 27,25Z" fill="#2ca02c"/><path d="M27,28C41,-10 93,23 110,28C127,33 130,48 130,60C130,72 115,85 110,100C105,115 100,133 100,150C100,167 110,183 110,200C110,217 108,241 100,250C92,259 72,254 60,255C48,256 32,293 27,255C22,217 13,66 27,28Z" fill="#9467bd"/><path d="M150,65C175,61 258,81 300,80C342,79 374,68 400,60C426,52 441,35 455,35C469,35 481,48 485,60C489,72 488,97 480,110C472,123 457,134 440,140C423,146 403,150 380,148C357,146 330,133 300,128C270,123 225,122 200,118C175,114 158,114 150,105C142,96 125,69 150,65Z" fill="#9467bd"/><path d="M140,152C157,137 210,141 250,142C290,143 356,147 380,160C404,173 405,207 392,220C379,233 340,234 300,236C260,238 177,246 150,232C123,218 123,167 140,152Z" fill="#1f77b4"/><path d="M250,280C257,269 283,272 300,275C317,278 342,288 350,300C358,312 353,338 345,350C337,362 314,372 300,370C286,368 268,355 260,340C252,325 243,291 250,280Z" fill="#8c564b"/><path d="M60,380C67,370 97,363 110,370C123,377 140,405 140,420C140,435 122,458 110,460C98,462 78,443 70,430C62,417 53,390 60,380Z" fill="#8c564b"/><path d="M27,470C36,457 66,468 80,480C94,492 113,527 110,540C107,553 74,557 60,560C46,563 32,575 27,560C22,545 18,483 27,470Z" fill="#2ca02c"/><path d="M40,560C48,557 73,563 90,570C107,577 125,588 140,600C155,612 173,631 180,640C187,649 192,652 180,655C168,658 130,661 110,655C90,649 72,631 60,620C48,609 43,600 40,590C37,580 32,563 40,560Z" fill="#9467bd"/><path d="M380,480C390,449 437,477 460,470C483,463 497,448 520,440C543,432 577,423 600,420C623,417 648,381 657,420C666,459 700,616 657,655C614,694 446,684 400,655C354,626 370,511 380,480Z" fill="#2ca02c"/><path d="M445,655C439,646 460,618 470,600C480,582 495,567 505,550C515,533 523,517 530,500C537,483 539,460 545,450C551,440 561,435 565,440C569,445 572,463 570,480C568,497 558,520 550,540C542,560 532,581 525,600C518,619 518,646 505,655C492,664 451,664 445,655Z" fill="#9467bd"/><path d="M505,215C512,208 548,201 560,205C572,209 583,231 580,240C577,249 551,258 540,260C529,262 521,258 515,250C509,242 498,222 505,215Z" fill="#8c564b"/><use href="#g0o0" fill="#ff7f0e"/><use href="#g0o1" fill="#ff7f0e"/><use href="#g0i0" fill="#d62728"/><use href="#g0i1" fill="#d62728"/><use href="#mk0"/></g>
<g transform="translate(230.6,23.7) scale(0.10803)" clip-path="url(#cl0)"><rect x="29" y="25" width="622" height="626" fill="#2ca02c"/><path d="M200,100C215,94 267,95 300,90C333,85 375,77 400,70C425,63 438,48 450,50C462,52 472,67 472,80C472,93 461,117 452,130C443,143 432,153 420,160C408,167 395,172 380,170C365,168 350,157 330,150C310,143 280,134 260,130C240,126 220,130 210,125C200,120 185,106 200,100Z" fill="#9467bd"/><path d="M50,150C58,136 85,135 100,135C115,135 133,139 140,150C147,161 147,189 140,200C133,211 115,212 100,215C85,218 58,231 50,220C42,209 42,164 50,150Z" fill="#9467bd"/><path d="M140,152C157,137 210,141 250,142C290,143 356,147 380,160C404,173 405,207 392,220C379,233 340,234 300,236C260,238 177,246 150,232C123,218 123,167 140,152Z" fill="#1f77b4"/><path d="M27,255C39,243 76,248 100,248C124,248 145,257 170,258C195,259 223,251 250,252C277,253 302,262 330,265C358,268 396,266 420,272C444,278 462,287 472,302C482,317 489,345 482,362C475,379 449,392 432,402C415,412 397,414 380,422C363,430 348,450 330,452C312,454 288,437 270,432C252,427 238,430 220,422C202,414 177,395 160,382C143,369 133,350 120,342C107,334 96,335 80,332C64,329 36,335 27,322C18,309 15,267 27,255Z" fill="#1f77b4"/><path d="M170,300C178,283 208,272 230,268C252,264 278,273 300,278C322,283 342,288 362,300C382,312 415,333 422,350C429,367 417,393 402,402C387,411 350,405 330,402C310,399 298,382 280,382C262,382 238,404 222,402C206,400 191,389 182,372C173,355 162,317 170,300Z" fill="#8c564b"/><path d="M180,480C188,467 233,487 250,500C267,513 273,534 282,560C291,586 311,639 302,655C293,671 247,668 230,655C213,642 208,609 200,580C192,551 172,493 180,480Z" fill="#1f77b4"/><path d="M27,520C32,500 48,513 60,520C72,527 93,543 100,560C107,577 107,607 100,620C93,633 72,637 60,640C48,643 32,660 27,640C22,620 22,540 27,520Z" fill="#1f77b4"/><path d="M40,500C47,495 65,502 80,510C95,518 115,535 130,550C145,565 158,582 170,600C182,618 203,646 200,655C197,664 165,662 150,655C135,648 123,626 110,612C97,598 82,584 70,572C58,560 45,552 40,540C35,528 33,505 40,500Z" fill="#9467bd"/><path d="M445,655C440,646 460,618 470,600C480,582 492,567 505,550C518,533 534,513 545,500C556,487 561,477 570,470C579,463 597,453 600,460C603,467 597,493 590,510C583,527 571,543 560,560C549,577 535,594 525,610C515,626 513,648 500,655C487,662 450,664 445,655Z" fill="#9467bd"/><path d="M565,298C571,286 601,283 612,288C623,293 632,316 632,330C632,344 622,367 612,372C602,377 583,374 575,362C567,350 559,310 565,298Z" fill="#8c564b"/><polyline points="452,28 490,60 520,110 545,150" fill="none" stroke="#8c564b" stroke-width="20" stroke-linecap="round" stroke-linejoin="round"/><polyline points="510,210 560,196 650,196" fill="none" stroke="#8c564b" stroke-width="18" stroke-linecap="round" stroke-linejoin="round"/><use href="#g0o0" fill="#ff7f0e"/><use href="#g0o1" fill="#ff7f0e"/><use href="#g0i0" fill="#d62728"/><use href="#g0i1" fill="#d62728"/><use href="#b0_36o" fill="#d62728"/><use href="#b0_36i" fill="#d62728"/><use href="#b0_37o" fill="#d62728"/><use href="#b0_37i" fill="#d62728"/><use href="#b0_38o" fill="#d62728"/><use href="#b0_38i" fill="#d62728"/><use href="#b0_47o" fill="#d62728"/><use href="#b0_47i" fill="#d62728"/><use href="#mk0"/></g>
<g transform="translate(304.2,23.7) scale(0.10803)" clip-path="url(#cl0)"><rect x="29" y="25" width="622" height="626" fill="#ff7f0e"/><path d="M27,25C98,14 376,19 450,25C524,31 480,52 472,60C464,68 429,68 400,72C371,76 333,82 300,82C267,82 233,72 200,72C167,72 129,79 100,82C71,85 39,102 27,92C15,82 -44,36 27,25Z" fill="#2ca02c"/><path d="M27,90C39,63 71,81 100,80C129,79 167,81 200,82C233,83 263,90 300,88C337,86 390,76 420,72C450,68 466,57 480,62C494,67 503,89 505,100C507,111 501,125 490,130C479,135 458,129 440,128C422,127 403,127 380,125C357,123 330,120 300,118C270,116 228,112 200,112C172,112 147,108 130,118C113,128 108,151 100,170C92,189 92,218 80,230C68,242 36,263 27,240C18,217 15,117 27,90Z" fill="#9467bd"/><path d="M150,222C165,217 217,229 250,232C283,235 322,242 350,242C378,242 400,230 420,232C440,234 465,242 472,252C479,262 474,284 462,292C450,300 422,304 400,302C378,300 355,287 330,282C305,277 278,275 250,272C222,269 177,270 160,262C143,254 135,227 150,222Z" fill="#2ca02c"/><path d="M230,290C241,281 270,275 290,275C310,275 335,281 350,290C365,299 380,315 382,330C384,345 376,372 362,382C348,392 319,394 300,392C281,390 262,382 250,372C238,362 228,344 225,330C222,316 219,299 230,290Z" fill="#1f77b4"/><polyline points="100,280 102,330 105,390 135,425 178,475 217,525 253,578 275,630 278,660" fill="none" stroke="#1f77b4" stroke-width="26" stroke-linecap="round" stroke-linejoin="round"/><polyline points="152,274 170,327 183,372 203,395 253,450 283,505 317,560 336,615 342,660" fill="none" stroke="#1f77b4" stroke-width="22" stroke-linecap="round" stroke-linejoin="round"/><path d="M27,400C32,359 51,397 60,410C69,423 73,458 80,480C87,502 90,520 100,540C110,560 127,581 140,600C153,619 199,646 180,655C161,664 52,698 27,655C2,612 22,441 27,400Z" fill="#2ca02c"/><path d="M27,560C32,548 51,560 60,570C69,580 86,608 80,620C74,632 36,650 27,640C18,630 22,572 27,560Z" fill="#9467bd"/><path d="M380,500C388,469 427,482 450,470C473,458 495,438 520,430C545,422 577,420 600,420C623,420 648,391 657,430C666,469 700,618 657,655C614,692 446,681 400,655C354,629 372,531 380,500Z" fill="#2ca02c"/><path d="M440,655C434,644 458,609 470,590C482,571 497,557 510,540C523,523 538,503 550,490C562,477 570,465 580,460C590,455 612,450 612,460C612,470 594,500 582,520C570,540 555,558 542,580C529,602 522,642 505,655C488,668 446,666 440,655Z" fill="#9467bd"/><path d="M462,655C461,644 480,611 492,590C504,569 519,548 532,530C545,512 560,488 570,480C580,472 591,472 590,482C589,492 573,520 562,540C551,560 533,581 522,600C511,619 507,646 497,655C487,664 463,666 462,655Z" fill="#8c564b"/><polyline points="505,215 560,200 655,198 655,380 570,380 530,340 505,280" fill="none" stroke="#1f77b4" stroke-width="16" stroke-linecap="round" stroke-linejoin="round"/><path d="M550,230C553,222 588,220 600,225C612,230 623,252 620,260C617,268 592,277 580,272C568,267 547,238 550,230Z" fill="#2ca02c"/><use href="#g0o0" fill="#ff7f0e"/><use href="#g0o1" fill="#ff7f0e"/><use href="#g0i1" fill="#d62728"/><use href="#mk0"/></g>
<g transform="translate(377.8,23.7) scale(0.10803)" clip-path="url(#cl0)"><rect x="29" y="25" width="622" height="626" fill="#2ca02c"/><path d="M40,260C52,235 82,252 100,250C118,248 128,251 150,250C172,249 205,242 230,245C255,248 275,259 300,265C325,271 357,274 380,280C403,286 425,288 440,300C455,312 465,330 472,350C479,370 487,400 482,420C477,440 454,457 440,470C426,483 418,485 400,500C382,515 350,550 330,560C310,570 298,570 280,560C262,550 240,517 220,500C200,483 180,465 160,460C140,455 117,473 100,470C83,467 72,452 60,440C48,428 33,430 30,400C27,370 28,285 40,260Z" fill="#1f77b4"/><path d="M140,152C157,137 210,141 250,142C290,143 356,147 380,160C404,173 405,207 392,220C379,233 340,234 300,236C260,238 177,246 150,232C123,218 123,167 140,152Z" fill="#1f77b4"/><polyline points="160,170 250,160 360,175" fill="none" stroke="#9467bd" stroke-width="10" stroke-linecap="round" stroke-linejoin="round"/><path d="M250,300C258,292 285,288 300,290C315,292 337,298 342,310C347,322 342,350 332,360C322,370 294,375 280,372C266,369 255,352 250,340C245,328 242,308 250,300Z" fill="#8c564b"/><path d="M27,480C39,451 76,472 100,480C124,488 153,510 170,530C187,550 191,579 200,600C209,621 251,646 222,655C193,664 60,684 27,655C-6,626 15,509 27,480Z" fill="#2ca02c"/><path d="M35,555C42,551 72,558 80,565C88,572 92,591 85,595C78,599 48,597 40,590C32,583 28,559 35,555Z" fill="#9467bd"/><path d="M505,210C527,187 630,167 655,196C680,225 669,351 655,382C641,413 592,390 570,382C548,374 533,361 522,332C511,303 483,233 505,210Z" fill="#1f77b4"/><path d="M540,220C552,209 603,207 620,215C637,223 643,256 640,270C637,284 615,298 600,300C585,302 560,293 550,280C540,267 528,231 540,220Z" fill="#2ca02c"/><path d="M575,310C583,303 611,297 620,305C629,313 635,349 630,360C625,371 600,374 590,372C580,370 572,355 570,345C568,335 567,317 575,310Z" fill="#8c564b"/><use href="#g0o0" fill="#ff7f0e"/><use href="#g0o1" fill="#ff7f0e"/><use href="#g0i0" fill="#d62728"/><use href="#g0i1" fill="#d62728"/><use href="#mk0"/></g>
<g transform="translate(451.4,23.7) scale(0.10803)" clip-path="url(#cl0)"><rect x="29" y="25" width="622" height="626" fill="#2ca02c"/><path d="M130,28C170,22 338,23 380,28C422,33 395,51 382,60C369,69 330,78 300,80C270,82 227,75 200,72C173,69 152,69 140,62C128,55 90,34 130,28Z" fill="#ff7f0e"/><path d="M140,152C157,137 210,141 250,142C290,143 356,147 380,160C404,173 405,207 392,220C379,233 340,234 300,236C260,238 177,246 150,232C123,218 123,167 140,152Z" fill="#1f77b4"/><path d="M30,262C42,247 72,254 100,252C128,250 175,246 200,252C225,258 225,284 250,290C275,296 322,291 350,290C378,289 398,280 420,282C442,284 461,285 480,302C499,319 525,359 532,382C539,405 531,427 522,442C513,457 495,469 480,472C465,475 447,462 430,462C413,462 397,462 380,472C363,482 347,522 330,522C313,522 297,489 280,472C263,455 247,434 230,422C213,410 197,409 180,402C163,395 147,390 130,382C113,374 97,359 80,352C63,345 38,357 30,342C22,327 18,277 30,262Z" fill="#ff7f0e"/><path d="M180,300C188,287 227,282 250,282C273,282 298,294 320,300C342,306 363,312 380,320C397,328 403,343 420,350C437,357 467,354 480,362C493,370 503,390 500,400C497,410 477,417 460,422C443,427 422,435 400,432C378,429 350,400 330,402C310,404 297,442 280,442C263,442 243,415 230,402C217,389 208,379 200,362C192,345 172,313 180,300Z" fill="#1f77b4"/><path d="M250,300C255,290 286,287 300,290C314,293 330,308 332,320C334,332 322,357 312,362C302,367 282,362 272,352C262,342 245,310 250,300Z" fill="#8c564b"/><path d="M515,205C536,184 632,166 655,196C678,226 669,351 655,382C641,413 591,392 570,382C549,372 539,352 530,322C521,292 494,226 515,205Z" fill="#ff7f0e"/><polyline points="505,215 560,200 655,198 655,380 570,380 530,340 505,280" fill="none" stroke="#1f77b4" stroke-width="14" stroke-linecap="round" stroke-linejoin="round"/><path d="M30,560C38,551 75,560 80,570C85,580 70,613 62,622C54,631 35,632 30,622C25,612 22,569 30,560Z" fill="#1f77b4"/><path d="M560,500C567,485 625,480 640,490C655,500 657,545 650,560C643,575 615,590 600,580C585,570 553,515 560,500Z" fill="#ff7f0e"/><use href="#g0o0" fill="#ff7f0e"/><use href="#g0o1" fill="#ff7f0e"/><use href="#g0i0" fill="#d62728"/><use href="#g0i1" fill="#d62728"/><use href="#mk0"/></g>
<g transform="translate(525.0,23.7) scale(0.10803)" clip-path="url(#cl0)"><rect x="29" y="25" width="622" height="626" fill="#2ca02c"/><path d="M180,100C192,93 247,95 280,90C313,85 353,78 380,70C407,62 425,42 440,40C455,38 465,47 472,60C479,73 485,105 482,120C479,135 466,142 452,150C438,158 420,163 400,165C380,167 352,164 330,160C308,156 290,145 270,140C250,135 225,137 210,130C195,123 168,107 180,100Z" fill="#9467bd"/><path d="M30,140C40,123 72,128 90,130C108,132 133,137 140,150C147,163 140,196 130,210C120,224 97,228 80,232C63,236 38,247 30,232C22,217 20,157 30,140Z" fill="#9467bd"/><path d="M160,280C167,263 207,262 230,260C253,258 278,265 300,270C322,275 340,285 360,290C380,295 400,293 420,300C440,307 473,313 482,330C491,347 482,385 472,402C462,419 441,429 422,432C403,435 380,425 360,422C340,419 320,415 300,412C280,409 258,410 240,402C222,394 203,382 190,362C177,342 153,297 160,280Z" fill="#1f77b4"/><path d="M260,300C268,293 298,293 310,300C322,307 335,330 332,340C329,350 302,362 290,362C278,362 265,350 260,340C255,330 252,307 260,300Z" fill="#8c564b"/><path d="M30,300C35,285 48,295 60,300C72,305 92,317 100,330C108,343 117,368 110,380C103,392 73,398 60,400C47,402 35,407 30,390C25,373 25,315 30,300Z" fill="#1f77b4"/><path d="M40,520C47,515 73,530 90,540C107,550 125,567 140,580C155,593 170,608 180,620C190,632 207,649 200,655C193,661 158,662 140,655C122,648 105,626 90,612C75,598 58,587 50,572C42,557 33,525 40,520Z" fill="#9467bd"/><path d="M430,655C425,646 448,618 460,600C472,582 487,567 500,550C513,533 528,515 540,500C552,485 560,468 570,460C580,452 597,441 600,450C603,459 598,492 590,512C582,532 563,554 550,572C537,590 520,608 510,622C500,636 503,650 490,655C477,660 435,664 430,655Z" fill="#9467bd"/><path d="M505,210C512,202 546,200 560,205C574,210 593,230 590,240C587,250 552,260 540,262C528,264 521,259 515,250C509,241 498,218 505,210Z" fill="#1f77b4"/><use href="#g0o0" fill="#ff7f0e"/><use href="#g0o1" fill="#ff7f0e"/><use href="#g0i0" fill="#ff7f0e"/><use href="#g0i1" fill="#ff7f0e"/><polyline points="108,280 110,330 113,385 140,415 183,467 223,518 260,570 282,622 285,660" fill="none" stroke="#d62728" stroke-width="9" stroke-linecap="round" stroke-linejoin="round"/><polyline points="170,200 220,180 300,175 340,190" fill="none" stroke="#d62728" stroke-width="8" stroke-linecap="round" stroke-linejoin="round"/><polyline points="440,360 470,390 480,420" fill="none" stroke="#d62728" stroke-width="8" stroke-linecap="round" stroke-linejoin="round"/><use href="#mk0"/></g>
<g transform="translate(9.8,97.1) scale(0.10803)" clip-path="url(#cl1)"><rect x="29" y="25" width="622" height="621" fill="#2ca02c"/><path d="M230,70C233,67 275,60 300,55C325,50 357,44 380,40C403,36 426,30 440,30C454,30 461,32 465,40C469,48 469,68 465,80C461,92 448,103 440,110C432,117 428,122 420,120C412,118 408,107 395,100C382,93 359,84 340,80C321,76 298,77 280,75C262,73 227,73 230,70Z" fill="#9467bd"/><path d="M108,178C113,172 132,168 140,160C148,152 149,138 155,130C161,122 169,113 175,115C181,117 192,131 192,140C192,149 181,161 172,170C163,179 151,188 140,192C129,196 113,199 108,197C103,195 103,184 108,178Z" fill="#9467bd"/><path d="M318,260C323,254 342,249 355,250C368,251 386,258 397,265C408,272 422,284 422,292C422,300 411,310 400,312C389,314 371,306 358,302C345,298 331,293 324,286C317,279 313,266 318,260Z" fill="#9467bd"/><path d="M27,480C32,474 48,491 60,495C72,499 92,499 100,505C108,511 117,525 110,530C103,535 74,535 60,535C46,535 32,539 27,530C22,521 22,486 27,480Z" fill="#9467bd"/><path d="M125,505C132,501 154,511 170,520C186,529 205,547 220,560C235,573 250,585 262,600C274,615 294,640 292,648C290,656 264,654 250,648C236,642 223,624 210,612C197,600 184,589 170,578C156,567 132,557 125,545C118,533 118,509 125,505Z" fill="#9467bd"/><path d="M540,648C535,633 548,585 553,560C558,535 564,517 570,500C576,483 582,473 590,460C598,447 609,432 620,420C631,408 648,385 655,388C662,391 664,426 660,440C656,454 640,458 632,472C624,486 619,504 612,522C605,540 597,561 592,582C587,603 591,637 582,648C573,659 545,663 540,648Z" fill="#9467bd"/><path d="M638,212C641,202 656,195 660,205C664,215 663,262 660,272C657,282 644,272 640,262C636,252 635,222 638,212Z" fill="#9467bd"/><use href="#g1o0" fill="#ff7f0e"/><use href="#g1o1" fill="#ff7f0e"/><use href="#g1i0" fill="#d62728"/><use href="#g1i1" fill="#d62728"/><use href="#mk1"/></g>
<g transform="translate(83.4,97.1) scale(0.10803)" clip-path="url(#cl1)"><rect x="29" y="25" width="622" height="621" fill="#1f77b4"/><path d="M27,25C113,-46 456,16 545,25C634,34 560,62 560,80C560,98 553,113 548,130C543,147 541,168 530,180C519,192 502,195 480,200C458,205 430,209 400,210C370,211 333,207 300,205C267,203 228,198 200,200C172,202 147,203 130,220C113,237 102,270 100,300C98,330 120,375 120,400C120,425 116,442 100,450C84,458 39,521 27,450C15,379 -59,96 27,25Z" fill="#2ca02c"/><path d="M40,100C48,92 78,91 90,95C102,99 113,116 110,125C107,134 82,148 70,150C58,152 45,148 40,140C35,132 32,108 40,100Z" fill="#8c564b"/><path d="M170,60C178,52 215,48 230,50C245,52 262,67 260,75C258,83 233,97 220,100C207,103 188,102 180,95C172,88 162,68 170,60Z" fill="#8c564b"/><path d="M420,80C428,74 458,72 470,75C482,78 493,92 490,100C487,108 462,118 450,120C438,122 425,117 420,110C415,103 412,86 420,80Z" fill="#8c564b"/><path d="M340,42C355,38 413,35 430,40C447,45 448,64 440,70C432,76 397,79 380,78C363,77 347,72 340,66C333,60 325,46 340,42Z" fill="#9467bd"/><path d="M130,158C140,153 179,146 190,150C201,154 202,178 195,185C188,192 161,196 150,195C139,194 131,186 128,180C125,174 120,163 130,158Z" fill="#9467bd"/><path d="M200,110C217,100 280,125 320,130C360,135 418,132 440,140C462,148 465,171 450,180C435,189 388,193 350,195C312,197 245,204 220,190C195,176 183,120 200,110Z" fill="#1f77b4"/><path d="M30,210C43,172 93,202 110,220C127,238 130,283 130,320C130,357 127,418 110,440C93,462 43,488 30,450C17,412 17,248 30,210Z" fill="#2ca02c"/><path d="M40,300C48,290 71,283 80,290C89,297 98,327 95,340C92,353 70,368 60,370C50,372 38,362 35,350C32,338 32,310 40,300Z" fill="#8c564b"/><path d="M27,460C42,443 94,450 120,460C146,470 170,497 180,520C190,543 193,583 180,600C167,617 126,627 100,620C74,613 39,587 27,560C15,533 12,477 27,460Z" fill="#1f77b4"/><path d="M130,500C142,497 178,517 200,530C222,543 245,560 260,580C275,600 297,637 292,648C287,659 249,658 230,648C211,638 197,606 180,590C163,574 138,565 130,550C122,535 118,503 130,500Z" fill="#9467bd"/><path d="M200,560C210,545 243,550 260,560C277,570 293,605 300,620C307,635 317,643 300,648C283,653 217,663 200,648C183,633 190,575 200,560Z" fill="#2ca02c"/><path d="M420,230C443,222 530,228 560,235C590,242 598,258 600,270C602,282 590,305 570,310C550,315 505,305 480,300C455,295 430,292 420,280C410,268 397,238 420,230Z" fill="#ff7f0e"/><path d="M548,648C532,633 554,588 560,560C566,532 575,503 585,480C595,457 608,434 620,420C632,406 651,357 657,395C663,433 675,606 657,648C639,690 564,663 548,648Z" fill="#9467bd"/><path d="M470,450C487,415 538,435 560,440C582,445 598,460 600,480C602,500 580,532 570,560C560,588 558,633 540,648C522,663 472,681 460,648C448,615 453,485 470,450Z" fill="#2ca02c"/><path d="M400,400C413,393 457,407 470,420C483,433 488,467 480,480C472,493 435,503 420,500C405,497 393,477 390,460C387,443 387,407 400,400Z" fill="#8c564b"/><use href="#g1o0" fill="#ff7f0e"/><use href="#g1o1" fill="#ff7f0e"/><use href="#g1i0" fill="#d62728"/><use href="#g1i1" fill="#d62728"/><use href="#mk1"/></g>
<g transform="translate(157.0,97.1) scale(0.10803)" clip-path="url(#cl1)"><rect x="29" y="25" width="622" height="621" fill="#1f77b4"/><path d="M27,25C113,-16 456,16 545,25C634,34 560,62 560,80C560,98 553,113 548,130C543,147 541,164 530,180C519,196 502,218 480,225C458,232 430,222 400,220C370,218 333,211 300,210C267,209 228,212 200,215C172,218 159,221 130,230C101,239 44,304 27,270C10,236 -59,66 27,25Z" fill="#2ca02c"/><path d="M110,28C167,21 408,23 470,28C532,33 488,50 480,60C472,70 450,84 420,90C390,96 337,95 300,95C263,95 228,94 200,90C172,86 145,80 130,70C115,60 53,35 110,28Z" fill="#9467bd"/><path d="M27,60C39,25 73,62 100,70C127,78 173,93 190,110C207,127 207,152 200,170C193,188 167,205 150,220C133,235 115,250 100,260C85,270 72,277 60,280C48,283 32,317 27,280C22,243 15,95 27,60Z" fill="#9467bd"/><path d="M310,245C318,238 343,233 360,235C377,237 403,244 410,255C417,266 410,292 400,300C390,308 364,303 350,300C336,297 322,289 315,280C308,271 302,252 310,245Z" fill="#8c564b"/><path d="M27,300C38,267 73,290 90,300C107,310 125,335 130,360C135,385 132,427 120,450C108,473 76,492 60,500C44,508 32,533 27,500C22,467 16,333 27,300Z" fill="#2ca02c"/><path d="M100,470C115,463 158,472 180,480C202,488 227,507 230,520C233,533 217,553 200,560C183,567 148,567 130,560C112,553 95,535 90,520C85,505 85,477 100,470Z" fill="#2ca02c"/><path d="M180,540C188,524 222,540 240,550C258,560 280,584 290,600C300,616 317,640 300,648C283,656 210,666 190,648C170,630 172,556 180,540Z" fill="#9467bd"/><path d="M600,300C611,278 648,253 657,290C666,327 665,485 657,520C649,555 621,517 610,500C599,483 592,453 590,420C588,387 589,322 600,300Z" fill="#9467bd"/><path d="M540,648C533,633 543,590 550,560C557,530 570,485 580,470C590,455 607,455 610,470C613,485 603,530 600,560C597,590 600,633 590,648C580,663 547,663 540,648Z" fill="#9467bd"/><path d="M440,470C455,439 510,452 530,460C550,468 558,489 560,520C562,551 560,627 540,648C520,669 457,678 440,648C423,618 425,501 440,470Z" fill="#2ca02c"/><path d="M600,500C610,479 648,495 657,520C666,545 666,627 657,648C648,669 610,673 600,648C590,623 590,521 600,500Z" fill="#2ca02c"/><use href="#g1o0" fill="#ff7f0e"/><use href="#g1o1" fill="#ff7f0e"/><use href="#g1i0" fill="#d62728"/><use href="#g1i1" fill="#d62728"/><use href="#mk1"/></g>
<g transform="translate(230.6,97.1) scale(0.10803)" clip-path="url(#cl1)"><rect x="29" y="25" width="622" height="621" fill="#2ca02c"/><path d="M130,30C138,21 188,22 200,30C212,38 208,71 200,80C192,89 162,93 150,85C138,77 122,39 130,30Z" fill="#9467bd"/><path d="M250,45C285,38 440,33 480,38C520,43 503,68 490,75C477,82 437,81 400,82C363,83 295,86 270,80C245,74 215,52 250,45Z" fill="#9467bd"/><path d="M90,110C106,96 161,88 180,95C199,102 205,131 205,150C205,169 196,198 180,210C164,222 126,230 110,225C94,220 88,199 85,180C82,161 74,124 90,110Z" fill="#9467bd"/><path d="M180,120C203,107 257,118 300,120C343,122 403,123 440,130C477,137 507,143 520,160C533,177 537,217 520,230C503,243 457,239 420,240C383,241 337,235 300,235C263,235 223,246 200,240C177,234 163,220 160,200C157,180 157,133 180,120Z" fill="#1f77b4"/><path d="M150,240C163,222 205,233 260,235C315,237 437,239 480,250C523,261 517,278 520,300C523,322 513,363 500,380C487,397 460,393 440,400C420,407 403,423 380,420C357,417 323,387 300,380C277,373 260,387 240,380C220,373 195,363 180,340C165,317 137,258 150,240Z" fill="#1f77b4"/><path d="M240,240C252,225 293,228 320,230C347,232 377,240 400,250C423,260 452,273 460,290C468,307 463,338 450,350C437,362 405,362 380,360C355,358 322,347 300,340C278,333 260,337 250,320C240,303 228,255 240,240Z" fill="#8c564b"/><path d="M27,460C42,438 100,457 120,470C140,483 153,515 150,540C147,565 120,610 100,620C80,630 39,627 27,600C15,573 12,482 27,460Z" fill="#1f77b4"/><path d="M120,460C132,452 170,460 190,470C210,480 225,502 240,520C255,538 271,559 280,580C289,601 302,637 292,648C282,659 240,659 220,648C200,637 187,601 170,580C153,559 128,540 120,520C112,500 108,468 120,460Z" fill="#9467bd"/><path d="M540,648C522,633 544,588 550,560C556,532 565,502 575,480C585,458 596,442 610,430C624,418 649,374 657,410C665,446 676,608 657,648C638,688 558,663 540,648Z" fill="#9467bd"/><path d="M560,100C563,92 605,97 620,105C635,113 647,134 650,150C653,166 648,200 640,200C632,200 613,167 600,150C587,133 557,108 560,100Z" fill="#8c564b"/><use href="#g1o0" fill="#ff7f0e"/><use href="#g1o1" fill="#ff7f0e"/><use href="#g1i0" fill="#d62728"/><use href="#g1i1" fill="#d62728"/><use href="#b1_30o" fill="#d62728"/><use href="#b1_30i" fill="#d62728"/><use href="#b1_31o" fill="#d62728"/><use href="#b1_31i" fill="#d62728"/><use href="#b1_39o" fill="#d62728"/><use href="#b1_39i" fill="#d62728"/><use href="#mk1"/></g>
<g transform="translate(304.2,97.1) scale(0.10803)" clip-path="url(#cl1)"><rect x="29" y="25" width="622" height="621" fill="#ff7f0e"/><path d="M100,30C172,17 483,20 560,30C637,40 573,77 560,90C547,103 515,108 480,110C445,112 388,100 350,100C312,100 275,107 250,110C225,113 220,120 200,120C180,120 147,125 130,110C113,95 28,43 100,30Z" fill="#9467bd"/><path d="M180,30C212,26 347,24 380,28C413,32 402,50 380,55C358,60 282,60 250,60C218,60 202,60 190,55C178,50 148,34 180,30Z" fill="#2ca02c"/><path d="M27,60C41,38 81,60 110,70C139,80 185,98 200,120C215,142 210,182 200,200C190,218 160,227 140,230C120,233 99,225 80,220C61,215 36,227 27,200C18,173 13,82 27,60Z" fill="#9467bd"/><path d="M27,110C38,95 74,100 90,110C106,120 122,155 120,170C118,185 96,195 80,200C64,205 36,215 27,200C18,185 16,125 27,110Z" fill="#2ca02c"/><path d="M200,120C215,112 263,135 300,140C337,145 392,145 420,150C448,155 468,162 470,170C472,178 458,196 430,200C402,204 337,197 300,195C263,193 227,202 210,190C193,178 185,128 200,120Z" fill="#2ca02c"/><path d="M300,225C310,211 355,212 380,215C405,218 440,224 450,240C460,256 452,295 440,310C428,325 400,332 380,330C360,328 333,318 320,300C307,282 290,239 300,225Z" fill="#1f77b4"/><polyline points="158,240 160,280 170,320 180,360 220,395 265,432 305,472 338,512 367,552 380,592 402,630 420,660" fill="none" stroke="#1f77b4" stroke-width="24" stroke-linecap="round" stroke-linejoin="round"/><polyline points="207,233 227,273 246,313 270,345 296,371 333,410 373,450 403,490 429,530 439,570 466,610 480,650" fill="none" stroke="#1f77b4" stroke-width="18" stroke-linecap="round" stroke-linejoin="round"/><path d="M27,350C39,337 83,342 100,350C117,358 130,387 130,400C130,413 117,425 100,430C83,435 39,443 27,430C15,417 15,363 27,350Z" fill="#2ca02c"/><path d="M100,450C108,440 140,450 160,460C180,470 202,493 220,510C238,527 257,538 270,560C283,582 307,625 300,640C293,655 250,658 230,648C210,638 200,601 180,580C160,559 123,542 110,520C97,498 92,460 100,450Z" fill="#9467bd"/><path d="M200,560C208,547 245,557 260,570C275,583 298,627 290,640C282,653 225,661 210,648C195,635 192,573 200,560Z" fill="#2ca02c"/><path d="M560,648C546,630 565,575 570,540C575,505 582,470 590,440C598,410 609,378 620,360C631,342 651,282 657,330C663,378 673,595 657,648C641,701 574,666 560,648Z" fill="#9467bd"/><path d="M580,648C576,633 585,591 590,560C595,529 602,487 610,460C618,433 633,407 640,400C647,393 652,400 650,420C648,440 636,482 630,520C624,558 623,627 615,648C607,669 584,663 580,648Z" fill="#8c564b"/><path d="M480,420C493,410 545,407 560,420C575,433 577,483 570,500C563,517 535,523 520,520C505,517 487,497 480,480C473,463 467,430 480,420Z" fill="#2ca02c"/><path d="M580,130C588,118 630,118 640,130C650,142 648,188 640,200C632,212 600,212 590,200C580,188 572,142 580,130Z" fill="#2ca02c"/><use href="#g1i0" fill="#d62728"/><use href="#g1i1" fill="#d62728"/><use href="#mk1"/></g>
<g transform="translate(377.8,97.1) scale(0.10803)" clip-path="url(#cl1)"><rect x="29" y="25" width="622" height="621" fill="#2ca02c"/><path d="M90,210C120,192 198,198 250,195C302,192 355,192 400,195C445,198 492,192 520,210C548,228 561,268 565,300C569,332 558,372 545,400C532,428 512,452 490,470C468,488 437,507 410,510C383,513 357,497 330,490C303,483 277,478 250,470C223,462 193,455 170,440C147,425 127,403 110,380C93,357 73,328 70,300C67,272 60,228 90,210Z" fill="#1f77b4"/><polyline points="140,230 250,215 400,210 500,225" fill="none" stroke="#9467bd" stroke-width="10" stroke-linecap="round" stroke-linejoin="round"/><polyline points="190,140 300,145 400,140" fill="none" stroke="#9467bd" stroke-width="10" stroke-linecap="round" stroke-linejoin="round"/><path d="M180,130C197,121 260,124 300,125C340,126 395,128 420,135C445,142 470,161 450,170C430,179 342,188 300,190C258,192 220,190 200,180C180,170 163,139 180,130Z" fill="#1f77b4"/><path d="M310,250C318,242 342,238 360,240C378,242 412,250 420,260C428,270 422,293 410,300C398,307 366,302 350,300C334,298 322,293 315,285C308,277 302,258 310,250Z" fill="#8c564b"/><path d="M27,470C39,443 78,470 100,480C122,490 152,510 160,530C168,550 160,582 150,600C140,618 120,633 100,640C80,647 39,668 27,640C15,612 15,497 27,470Z" fill="#1f77b4"/><path d="M27,490C36,483 60,492 80,500C100,508 140,530 150,540C160,550 152,558 140,560C128,562 99,553 80,550C61,547 36,550 27,540C18,530 18,497 27,490Z" fill="#9467bd"/><use href="#g1o0" fill="#ff7f0e"/><use href="#g1o1" fill="#ff7f0e"/><use href="#g1i0" fill="#d62728"/><use href="#g1i1" fill="#d62728"/><use href="#b1_30o" fill="#d62728"/><use href="#b1_30i" fill="#d62728"/><use href="#b1_31o" fill="#d62728"/><use href="#b1_31i" fill="#d62728"/><use href="#mk1"/></g>
<g transform="translate(451.4,97.1) scale(0.10803)" clip-path="url(#cl1)"><rect x="29" y="25" width="622" height="621" fill="#2ca02c"/><path d="M180,100C197,83 260,80 300,80C340,80 393,88 420,100C447,112 460,133 460,150C460,167 447,192 420,200C393,208 337,203 300,200C263,197 220,197 200,180C180,163 163,117 180,100Z" fill="#ff7f0e"/><path d="M190,120C207,112 263,110 300,110C337,110 390,112 410,120C430,128 438,151 420,160C402,169 337,175 300,175C263,175 218,169 200,160C182,151 173,128 190,120Z" fill="#1f77b4"/><path d="M120,250C142,235 203,243 250,240C297,237 355,230 400,230C445,230 487,228 520,240C553,252 588,272 600,300C612,328 602,385 590,410C578,435 550,440 530,450C510,460 490,463 470,470C450,477 430,485 410,490C390,495 370,503 350,500C330,497 312,480 290,470C268,460 242,452 220,440C198,428 177,418 160,400C143,382 127,355 120,330C113,305 98,265 120,250Z" fill="#ff7f0e"/><path d="M190,200C208,189 262,202 300,205C338,208 380,210 420,215C460,220 513,221 540,235C567,249 580,279 580,300C580,321 558,348 540,360C522,372 493,363 470,370C447,377 423,392 400,400C377,408 352,423 330,420C308,417 288,395 270,380C252,365 233,348 220,330C207,312 195,292 190,270C185,248 172,211 190,200Z" fill="#1f77b4"/><path d="M300,235C308,227 333,226 350,228C367,230 393,238 400,250C407,262 400,292 390,300C380,308 354,304 340,300C326,296 312,286 305,275C298,264 292,243 300,235Z" fill="#8c564b"/><path d="M27,480C39,458 80,480 100,490C120,500 147,518 150,540C153,562 140,607 120,620C100,633 42,643 27,620C12,597 15,502 27,480Z" fill="#1f77b4"/><path d="M30,500C38,485 78,497 90,510C102,523 108,565 100,580C92,595 52,613 40,600C28,587 22,515 30,500Z" fill="#ff7f0e"/><path d="M520,440C533,404 577,433 600,430C623,427 648,384 657,420C666,456 680,610 657,648C634,686 543,683 520,648C497,613 507,476 520,440Z" fill="#2ca02c"/><path d="M500,290C507,277 548,272 560,280C572,288 577,327 570,340C563,353 532,368 520,360C508,352 493,303 500,290Z" fill="#1f77b4"/><use href="#g1o0" fill="#ff7f0e"/><use href="#g1o1" fill="#ff7f0e"/><use href="#g1i0" fill="#d62728"/><use href="#g1i1" fill="#d62728"/><use href="#b1_30o" fill="#d62728"/><use href="#b1_30i" fill="#d62728"/><use href="#b1_31o" fill="#d62728"/><use href="#b1_31i" fill="#d62728"/><use href="#mk1"/></g>
<g transform="translate(525.0,97.1) scale(0.10803)" clip-path="url(#cl1)"><rect x="29" y="25" width="622" height="621" fill="#2ca02c"/><path d="M110,40C163,33 408,34 470,40C532,46 495,67 480,75C465,83 418,87 380,90C342,93 288,97 250,95C212,93 173,89 150,80C127,71 57,47 110,40Z" fill="#9467bd"/><path d="M27,80C39,50 73,85 100,90C127,95 173,95 190,110C207,125 205,160 200,180C195,200 177,217 160,230C143,243 122,253 100,260C78,267 39,300 27,270C15,240 15,110 27,80Z" fill="#9467bd"/><path d="M200,200C217,182 263,208 300,210C337,212 383,207 420,210C457,213 500,212 520,230C540,248 543,292 540,320C537,348 520,383 500,400C480,417 447,422 420,420C393,418 367,397 340,390C313,383 283,392 260,380C237,368 210,350 200,320C190,290 183,218 200,200Z" fill="#1f77b4"/><path d="M320,250C328,244 355,242 370,245C385,248 407,256 412,265C417,274 410,294 400,300C390,306 363,303 350,300C337,297 327,290 322,282C317,274 312,256 320,250Z" fill="#8c564b"/><path d="M180,130C198,121 263,120 300,120C337,120 380,122 400,130C420,138 437,161 420,170C403,179 338,184 300,185C262,186 210,184 190,175C170,166 162,139 180,130Z" fill="#1f77b4"/><path d="M27,460C42,430 91,463 120,470C149,477 177,485 200,500C223,515 243,535 260,560C277,585 339,633 300,648C261,663 72,679 27,648C-18,617 12,490 27,460Z" fill="#9467bd"/><path d="M160,560C168,547 212,557 230,570C248,583 278,627 270,640C262,653 198,661 180,648C162,635 152,573 160,560Z" fill="#2ca02c"/><path d="M540,648C522,633 544,590 550,560C556,530 565,497 575,470C585,443 596,422 610,400C624,378 649,299 657,340C665,381 676,597 657,648C638,699 558,663 540,648Z" fill="#9467bd"/><use href="#g1o0" fill="#ff7f0e"/><use href="#g1o1" fill="#ff7f0e"/><use href="#g1i0" fill="#ff7f0e"/><use href="#g1i1" fill="#ff7f0e"/><polyline points="166,245 169,280 179,318 190,360 226,388 272,424 312,464 344,504 374,544 387,584 410,622 428,652" fill="none" stroke="#d62728" stroke-width="9" stroke-linecap="round" stroke-linejoin="round"/><polyline points="230,140 300,135 360,150" fill="none" stroke="#d62728" stroke-width="8" stroke-linecap="round" stroke-linejoin="round"/><use href="#mk1"/></g>
<g transform="translate(9.8,170.2) scale(0.10803)" clip-path="url(#cl2)"><rect x="29" y="25" width="622" height="621" fill="#2ca02c"/><path d="M80,28C89,25 140,25 150,28C160,31 149,43 140,46C131,49 105,49 95,46C85,43 71,31 80,28Z" fill="#9467bd"/><path d="M340,28C367,24 483,28 520,28C557,28 555,24 562,30C569,36 565,50 562,62C559,74 549,89 542,100C535,111 529,123 522,130C515,137 507,143 502,140C497,137 495,118 490,110C485,102 482,98 470,90C458,82 438,67 420,60C402,53 373,55 360,50C347,45 313,32 340,28Z" fill="#9467bd"/><path d="M195,150C198,142 219,132 230,130C241,128 252,134 260,140C268,146 278,160 275,165C272,170 251,168 240,170C229,172 218,179 210,176C202,173 192,158 195,150Z" fill="#9467bd"/><path d="M420,230C427,226 453,232 470,235C487,238 505,245 520,250C535,255 559,260 562,265C565,270 554,281 540,282C526,283 498,275 480,272C462,269 440,269 430,262C420,255 413,234 420,230Z" fill="#9467bd"/><path d="M590,240C594,235 611,242 620,250C629,258 642,280 642,290C642,300 628,313 620,312C612,311 600,294 595,282C590,270 586,245 590,240Z" fill="#9467bd"/><path d="M100,460C107,458 127,465 140,470C153,475 168,485 180,490C192,495 198,503 210,500C222,497 235,472 250,470C265,468 285,480 300,490C315,500 327,517 340,530C353,543 368,557 380,570C392,583 402,597 410,610C418,623 430,643 425,650C420,657 392,656 380,650C368,644 362,625 350,612C338,599 323,585 310,572C297,559 285,540 270,532C255,524 237,524 220,522C203,520 185,525 170,522C155,519 142,509 130,502C118,495 105,489 100,482C95,475 93,462 100,460Z" fill="#9467bd"/><path d="M640,450C645,415 657,407 660,440C663,473 665,615 660,650C655,685 633,683 630,650C627,617 635,485 640,450Z" fill="#9467bd"/><use href="#g2o0" fill="#ff7f0e"/><use href="#g2o1" fill="#ff7f0e"/><use href="#g2i0" fill="#d62728"/><use href="#g2i1" fill="#d62728"/><use href="#mk2"/></g>
<g transform="translate(83.4,170.2) scale(0.10803)" clip-path="url(#cl2)"><rect x="29" y="25" width="622" height="621" fill="#1f77b4"/><path d="M150,30C175,10 275,15 300,30C325,45 307,95 300,120C293,145 272,162 260,180C248,198 243,223 230,230C217,237 193,233 180,220C167,207 155,182 150,150C145,118 125,50 150,30Z" fill="#2ca02c"/><path d="M300,30C350,12 567,10 620,30C673,50 630,127 620,150C610,173 583,170 560,170C537,170 507,150 480,150C453,150 427,172 400,170C373,168 337,163 320,140C303,117 250,48 300,30Z" fill="#2ca02c"/><path d="M27,100C42,92 94,105 120,110C146,115 175,118 180,130C185,142 167,173 150,180C133,187 100,173 80,170C60,167 36,172 27,160C18,148 12,108 27,100Z" fill="#8c564b"/><path d="M300,120C320,115 380,135 420,140C460,145 507,145 540,150C573,155 610,162 620,170C630,178 623,197 600,200C577,203 517,193 480,190C443,187 410,183 380,180C350,177 313,180 300,170C287,160 280,125 300,120Z" fill="#8c564b"/><path d="M210,130C217,120 258,113 270,120C282,127 287,160 280,170C273,180 242,187 230,180C218,173 203,140 210,130Z" fill="#9467bd"/><path d="M40,300C53,280 93,293 120,300C147,307 182,320 200,340C218,360 230,400 230,420C230,440 218,457 200,460C182,463 147,447 120,440C93,433 53,443 40,420C27,397 27,320 40,300Z" fill="#2ca02c"/><path d="M500,290C510,276 540,282 560,285C580,288 607,296 620,310C633,324 643,352 640,370C637,388 617,413 600,420C583,427 557,418 540,410C523,402 507,390 500,370C493,350 490,304 500,290Z" fill="#ff7f0e"/><path d="M520,380C532,372 563,380 580,390C597,400 623,427 620,440C617,453 578,470 560,470C542,470 517,455 510,440C503,425 508,388 520,380Z" fill="#8c564b"/><path d="M40,180C50,172 87,180 100,190C113,200 123,228 120,240C117,252 93,260 80,260C67,260 47,253 40,240C33,227 30,188 40,180Z" fill="#8c564b"/><path d="M600,400C608,365 648,357 657,390C666,423 665,565 657,600C649,635 620,633 610,600C600,567 592,435 600,400Z" fill="#2ca02c"/><path d="M640,470C644,439 654,430 657,460C660,490 662,617 657,648C652,679 633,678 630,648C627,618 636,501 640,470Z" fill="#9467bd"/><path d="M220,480C227,472 267,478 290,490C313,502 347,530 360,550C373,570 377,602 370,610C363,618 340,612 320,600C300,588 267,560 250,540C233,520 213,488 220,480Z" fill="#9467bd"/><path d="M250,540C262,528 322,547 340,560C358,573 372,608 360,620C348,632 288,643 270,630C252,617 238,552 250,540Z" fill="#2ca02c"/><path d="M30,560C40,550 83,567 100,580C117,593 140,630 130,640C120,650 57,653 40,640C23,627 20,570 30,560Z" fill="#8c564b"/><use href="#g2o0" fill="#ff7f0e"/><use href="#g2o1" fill="#ff7f0e"/><use href="#g2i0" fill="#d62728"/><use href="#g2i1" fill="#d62728"/><use href="#mk2"/></g>
<g transform="translate(157.0,170.2) scale(0.10803)" clip-path="url(#cl2)"><rect x="29" y="25" width="622" height="621" fill="#2ca02c"/><path d="M170,30C235,10 495,22 560,30C625,38 573,67 560,80C547,93 510,103 480,110C450,117 407,112 380,120C353,128 340,148 320,160C300,172 280,183 260,190C240,197 215,207 200,200C185,193 175,178 170,150C165,122 105,50 170,30Z" fill="#9467bd"/><path d="M300,190C315,173 377,180 420,180C463,180 528,178 560,190C592,202 603,223 610,250C617,277 612,322 600,350C588,378 563,412 540,420C517,428 483,415 460,400C437,385 422,350 400,330C378,310 347,303 330,280C313,257 285,207 300,190Z" fill="#1f77b4"/><path d="M400,220C408,210 452,207 470,210C488,213 508,228 510,240C512,252 495,275 480,280C465,285 433,280 420,270C407,260 392,230 400,220Z" fill="#8c564b"/><path d="M30,220C45,188 92,217 120,230C148,243 187,268 200,300C213,332 208,387 200,420C192,453 173,487 150,500C127,513 80,513 60,500C40,487 35,467 30,420C25,373 15,252 30,220Z" fill="#1f77b4"/><path d="M70,290C90,278 158,292 180,310C202,328 210,382 200,400C190,418 143,423 120,420C97,417 68,402 60,380C52,358 50,302 70,290Z" fill="#2ca02c"/><path d="M220,470C230,458 273,468 300,480C327,492 360,520 380,540C400,560 417,583 420,600C423,617 417,637 400,640C383,643 347,635 320,620C293,605 257,575 240,550C223,525 210,482 220,470Z" fill="#9467bd"/><path d="M620,480C626,450 651,442 657,470C663,498 663,618 657,648C651,678 626,676 620,648C614,620 614,510 620,480Z" fill="#9467bd"/><polyline points="40,440 80,490 130,540 180,590 215,630" fill="none" stroke="#8c564b" stroke-width="18" stroke-linecap="round" stroke-linejoin="round"/><path d="M30,520C42,513 80,543 100,560C120,577 157,607 150,620C143,633 80,643 60,640C40,637 35,620 30,600C25,580 18,527 30,520Z" fill="#1f77b4"/><use href="#g2o0" fill="#ff7f0e"/><use href="#g2o1" fill="#ff7f0e"/><use href="#g2i0" fill="#d62728"/><use href="#g2i1" fill="#d62728"/><use href="#mk2"/></g>
<g transform="translate(230.6,170.2) scale(0.10803)" clip-path="url(#cl2)"><rect x="29" y="25" width="622" height="621" fill="#2ca02c"/><path d="M30,30C55,10 155,18 180,30C205,42 190,80 180,100C170,120 145,142 120,150C95,158 45,170 30,150C15,130 5,50 30,30Z" fill="#1f77b4"/><path d="M350,30C377,23 525,23 560,30C595,37 587,63 560,70C533,77 435,79 400,72C365,65 323,37 350,30Z" fill="#9467bd"/><path d="M180,100C193,86 252,83 270,90C288,97 293,125 290,140C287,155 267,174 250,180C233,186 202,188 190,175C178,162 167,114 180,100Z" fill="#9467bd"/><path d="M280,170C297,153 353,160 400,160C447,160 523,160 560,170C597,180 607,198 620,220C633,242 643,277 640,300C637,323 623,347 600,360C577,373 530,380 500,380C470,380 443,373 420,360C397,347 380,317 360,300C340,283 313,282 300,260C287,238 263,187 280,170Z" fill="#1f77b4"/><path d="M320,210C335,196 387,195 420,195C453,195 493,201 520,210C547,219 573,232 580,250C587,268 578,307 560,320C542,333 500,330 470,330C440,330 403,328 380,320C357,312 340,298 330,280C320,262 305,224 320,210Z" fill="#8c564b"/><path d="M30,180C43,163 98,187 120,200C142,213 160,243 160,260C160,277 140,293 120,300C100,307 55,320 40,300C25,280 17,197 30,180Z" fill="#1f77b4"/><path d="M30,420C45,385 92,420 120,430C148,440 182,458 200,480C218,502 225,533 230,560C235,587 263,627 230,640C197,653 63,677 30,640C-3,603 15,455 30,420Z" fill="#1f77b4"/><path d="M230,440C237,427 275,447 300,460C325,473 360,500 380,520C400,540 415,563 420,580C425,597 425,617 410,620C395,623 355,613 330,600C305,587 277,567 260,540C243,513 223,453 230,440Z" fill="#9467bd"/><path d="M610,440C618,404 649,395 657,430C665,465 665,612 657,648C649,684 618,683 610,648C602,613 602,476 610,440Z" fill="#9467bd"/><use href="#g2o0" fill="#ff7f0e"/><use href="#g2o1" fill="#ff7f0e"/><use href="#g2i0" fill="#d62728"/><use href="#g2i1" fill="#d62728"/><use href="#b2_40o" fill="#d62728"/><use href="#b2_40i" fill="#d62728"/><use href="#b2_41o" fill="#d62728"/><use href="#b2_41i" fill="#d62728"/><use href="#b2_42o" fill="#d62728"/><use href="#b2_42i" fill="#d62728"/><use href="#mk2"/></g>
<g transform="translate(304.2,170.2) scale(0.10803)" clip-path="url(#cl2)"><rect x="29" y="25" width="622" height="621" fill="#ff7f0e"/><path d="M240,30C290,17 507,22 560,30C613,38 578,70 560,80C542,90 488,88 450,90C412,92 362,92 330,95C298,98 275,121 260,110C245,99 190,43 240,30Z" fill="#9467bd"/><path d="M170,90C183,65 235,75 250,90C265,105 265,153 260,180C255,207 235,240 220,250C205,260 178,267 170,240C162,213 157,115 170,90Z" fill="#9467bd"/><path d="M100,80C120,70 200,65 220,80C240,95 233,153 220,170C207,187 160,185 140,180C120,175 107,157 100,140C93,123 80,90 100,80Z" fill="#2ca02c"/><path d="M300,60C357,45 583,35 640,50C697,65 663,132 640,150C617,168 543,158 500,160C457,162 413,163 380,160C347,157 313,157 300,140C287,123 243,75 300,60Z" fill="#2ca02c"/><path d="M30,30C47,20 113,17 130,30C147,43 142,97 130,110C118,123 77,113 60,110C43,107 35,103 30,90C25,77 13,40 30,30Z" fill="#1f77b4"/><path d="M30,180C47,160 113,152 130,180C147,208 142,323 130,350C118,377 77,348 60,340C43,332 35,327 30,300C25,273 13,200 30,180Z" fill="#1f77b4"/><path d="M400,190C413,173 478,172 500,180C522,188 530,222 530,240C530,258 518,283 500,290C482,297 437,297 420,280C403,263 387,207 400,190Z" fill="#1f77b4"/><polyline points="252,220 262,260 270,295 290,338 336,378 388,410 428,440 441,478 460,518 473,558 500,598 516,635" fill="none" stroke="#1f77b4" stroke-width="22" stroke-linecap="round" stroke-linejoin="round"/><path d="M90,290C107,277 175,280 200,290C225,300 235,330 240,350C245,370 243,400 230,410C217,420 182,417 160,410C138,403 112,390 100,370C88,350 73,303 90,290Z" fill="#2ca02c"/><path d="M110,330C118,324 152,324 160,330C168,336 168,359 160,365C152,371 118,371 110,365C102,359 102,336 110,330Z" fill="#9467bd"/><path d="M230,470C237,455 275,460 300,470C325,480 363,507 380,530C397,553 408,595 400,610C392,625 353,628 330,620C307,612 277,585 260,560C243,535 223,485 230,470Z" fill="#9467bd"/><path d="M300,520C308,510 348,510 360,520C372,530 378,570 370,580C362,590 322,590 310,580C298,570 292,530 300,520Z" fill="#8c564b"/><path d="M590,400C598,373 632,373 640,400C648,427 648,533 640,560C632,587 598,587 590,560C582,533 582,427 590,400Z" fill="#2ca02c"/><path d="M625,470C631,439 652,430 657,460C662,490 663,617 657,648C651,679 625,678 620,648C615,618 619,501 625,470Z" fill="#8c564b"/><path d="M30,480C42,470 82,487 100,500C118,513 147,543 140,560C133,577 78,600 60,600C42,600 35,580 30,560C25,540 18,490 30,480Z" fill="#1f77b4"/><use href="#g2i0" fill="#d62728"/><use href="#g2i1" fill="#d62728"/><use href="#mk2"/></g>
<g transform="translate(377.8,170.2) scale(0.10803)" clip-path="url(#cl2)"><rect x="29" y="25" width="622" height="621" fill="#2ca02c"/><path d="M30,30C55,23 155,23 180,30C205,37 205,63 180,70C155,77 55,77 30,70C5,63 5,37 30,30Z" fill="#1f77b4"/><path d="M30,40C43,37 97,37 110,40C123,43 123,57 110,60C97,63 43,63 30,60C17,57 17,43 30,40Z" fill="#9467bd"/><path d="M320,170C333,150 397,158 440,160C483,162 550,165 580,180C610,195 617,227 620,250C623,273 617,307 600,320C583,333 550,330 520,330C490,330 447,328 420,320C393,312 377,305 360,280C343,255 307,190 320,170Z" fill="#1f77b4"/><path d="M410,220C418,211 452,207 470,210C488,213 517,230 520,240C523,250 507,266 490,270C473,274 433,273 420,265C407,257 402,229 410,220Z" fill="#8c564b"/><path d="M30,180C47,165 113,167 130,190C147,213 142,298 130,320C118,342 77,327 60,320C43,313 35,303 30,280C25,257 13,195 30,180Z" fill="#1f77b4"/><path d="M30,200C38,188 70,197 80,210C90,223 98,268 90,280C82,292 40,293 30,280C20,267 22,212 30,200Z" fill="#9467bd"/><path d="M60,420C72,408 118,420 150,430C182,440 233,458 250,480C267,502 267,547 250,560C233,573 178,570 150,560C122,550 95,523 80,500C65,477 48,432 60,420Z" fill="#1f77b4"/><path d="M90,440C98,430 147,440 170,450C193,460 225,485 230,500C235,515 218,538 200,540C182,542 138,527 120,510C102,493 82,450 90,440Z" fill="#9467bd"/><polyline points="292,213 309,246 322,286 360,320 412,358 462,392 476,430 489,470 509,510 522,550 549,590 562,625" fill="none" stroke="#9467bd" stroke-width="14" stroke-linecap="round" stroke-linejoin="round"/><use href="#g2o0" fill="#ff7f0e"/><use href="#g2o1" fill="#ff7f0e"/><use href="#g2i0" fill="#d62728"/><use href="#g2i1" fill="#d62728"/><use href="#mk2"/></g>
<g transform="translate(451.4,170.2) scale(0.10803)" clip-path="url(#cl2)"><rect x="29" y="25" width="622" height="621" fill="#9467bd"/><path d="M200,30C250,10 450,15 500,30C550,45 510,92 500,120C490,148 473,185 440,200C407,215 340,218 300,210C260,202 217,180 200,150C183,120 150,50 200,30Z" fill="#2ca02c"/><path d="M60,210C85,193 165,197 200,200C235,203 260,208 270,230C280,252 275,303 260,330C245,357 210,383 180,390C150,397 102,385 80,370C58,355 53,327 50,300C47,273 35,227 60,210Z" fill="#2ca02c"/><path d="M300,180C318,153 400,167 450,170C500,173 567,178 600,200C633,222 647,263 650,300C653,337 642,393 620,420C598,447 553,460 520,460C487,460 450,442 420,420C390,398 360,370 340,330C320,290 282,207 300,180Z" fill="#1f77b4"/><path d="M440,300C453,288 500,290 520,300C540,310 563,343 560,360C557,377 520,398 500,400C480,402 450,387 440,370C430,353 427,312 440,300Z" fill="#9467bd"/><path d="M400,220C410,211 462,211 480,215C498,219 505,235 505,245C505,255 494,271 480,275C466,279 433,279 420,270C407,261 390,229 400,220Z" fill="#8c564b"/><path d="M260,480C278,465 332,460 360,470C388,480 418,512 430,540C442,568 455,623 430,640C405,657 310,653 280,640C250,627 253,587 250,560C247,533 242,495 260,480Z" fill="#2ca02c"/><path d="M40,430C53,398 93,437 120,450C147,463 180,488 200,510C220,532 240,558 240,580C240,602 233,630 200,640C167,650 67,675 40,640C13,605 27,462 40,430Z" fill="#1f77b4"/><path d="M70,520C78,508 123,527 140,540C157,553 178,588 170,600C162,612 107,623 90,610C73,597 62,532 70,520Z" fill="#9467bd"/><path d="M600,420C608,395 648,387 657,410C666,433 665,535 657,560C649,585 620,583 610,560C600,537 592,445 600,420Z" fill="#2ca02c"/><polyline points="255,240 268,290 290,335 338,375 392,408 430,440 444,478 462,518 476,558 503,598" fill="none" stroke="#8c564b" stroke-width="14" stroke-linecap="round" stroke-linejoin="round"/><polyline points="40,440 90,490 140,530 190,570" fill="none" stroke="#8c564b" stroke-width="12" stroke-linecap="round" stroke-linejoin="round"/><use href="#g2i0" fill="#d62728"/><use href="#g2i1" fill="#d62728"/><use href="#b2_1o" fill="#d62728"/><use href="#b2_1i" fill="#d62728"/><use href="#b2_4o" fill="#d62728"/><use href="#b2_7o" fill="#d62728"/><use href="#b2_10o" fill="#d62728"/><use href="#b2_13o" fill="#d62728"/><use href="#b2_16o" fill="#d62728"/><use href="#b2_19o" fill="#d62728"/><use href="#b2_22o" fill="#d62728"/><use href="#b2_22i" fill="#d62728"/><use href="#b2_25o" fill="#d62728"/><use href="#b2_28o" fill="#d62728"/><use href="#b2_31o" fill="#d62728"/><use href="#b2_31i" fill="#d62728"/><use href="#b2_34o" fill="#d62728"/><use href="#b2_34i" fill="#d62728"/><use href="#b2_37o" fill="#d62728"/><use href="#b2_37i" fill="#d62728"/><use href="#b2_40o" fill="#d62728"/><use href="#b2_40i" fill="#d62728"/><use href="#b2_43o" fill="#d62728"/><use href="#b2_46o" fill="#d62728"/><use href="#b2_46i" fill="#d62728"/><use href="#b2_49o" fill="#d62728"/><use href="#b2_52o" fill="#d62728"/><use href="#b2_52i" fill="#d62728"/><use href="#mk2"/></g>
<g transform="translate(525.0,170.2) scale(0.10803)" clip-path="url(#cl2)"><rect x="29" y="25" width="622" height="621" fill="#2ca02c"/><path d="M300,30C343,25 517,25 560,30C603,35 603,57 560,62C517,67 343,67 300,62C257,57 257,35 300,30Z" fill="#9467bd"/><path d="M200,90C213,75 265,80 280,90C295,100 295,133 290,150C285,167 265,185 250,190C235,195 208,197 200,180C192,163 187,105 200,90Z" fill="#9467bd"/><path d="M300,190C320,175 393,180 440,180C487,180 550,177 580,190C610,203 620,237 620,260C620,283 603,318 580,330C557,342 513,332 480,330C447,328 407,330 380,320C353,310 333,292 320,270C307,248 280,205 300,190Z" fill="#1f77b4"/><path d="M420,220C428,211 466,209 480,212C494,215 505,230 505,240C505,250 492,267 480,272C468,277 440,277 430,268C420,259 412,229 420,220Z" fill="#8c564b"/><path d="M30,180C45,165 100,177 120,190C140,203 157,242 150,260C143,278 100,297 80,300C60,303 38,300 30,280C22,260 15,195 30,180Z" fill="#1f77b4"/><path d="M230,440C237,428 275,447 300,460C325,473 360,498 380,520C400,542 417,572 420,590C423,608 415,628 400,630C385,632 353,617 330,600C307,583 277,557 260,530C243,503 223,452 230,440Z" fill="#9467bd"/><path d="M600,440C610,404 648,395 657,430C666,465 666,612 657,648C648,684 610,683 600,648C590,613 590,476 600,440Z" fill="#9467bd"/><path d="M30,440C42,410 72,447 100,460C128,473 178,497 200,520C222,543 238,580 230,600C222,620 183,633 150,640C117,647 50,673 30,640C10,607 18,470 30,440Z" fill="#1f77b4"/><use href="#g2o0" fill="#ff7f0e"/><use href="#g2o1" fill="#ff7f0e"/><use href="#g2i0" fill="#ff7f0e"/><use href="#g2i1" fill="#ff7f0e"/><polyline points="256,220 262,255 272,292 293,335 340,376 392,410 430,440 444,478 463,518 476,558 503,598 520,632" fill="none" stroke="#d62728" stroke-width="10" stroke-linecap="round" stroke-linejoin="round"/><polyline points="40,440 75,475 105,505 145,545 185,585 212,615" fill="none" stroke="#d62728" stroke-width="10" stroke-linecap="round" stroke-linejoin="round"/><polyline points="30,40 80,40 100,60" fill="none" stroke="#d62728" stroke-width="10" stroke-linecap="round" stroke-linejoin="round"/><use href="#mk2"/></g>
<line x1="9.60" y1="23.90" x2="9.60" y2="243.40" stroke="#666" stroke-width="1.1"/>
<line x1="83.20" y1="23.90" x2="83.20" y2="243.40" stroke="#666" stroke-width="1.1"/>
<line x1="156.80" y1="23.90" x2="156.80" y2="243.40" stroke="#666" stroke-width="1.1"/>
<line x1="230.40" y1="23.90" x2="230.40" y2="243.40" stroke="#666" stroke-width="1.1"/>
<line x1="304.00" y1="23.90" x2="304.00" y2="243.40" stroke="#666" stroke-width="1.1"/>
<line x1="377.60" y1="23.90" x2="377.60" y2="243.40" stroke="#666" stroke-width="1.1"/>
<line x1="451.20" y1="23.90" x2="451.20" y2="243.40" stroke="#666" stroke-width="1.1"/>
<line x1="524.80" y1="23.90" x2="524.80" y2="243.40" stroke="#666" stroke-width="1.1"/>
<line x1="598.40" y1="23.90" x2="598.40" y2="243.40" stroke="#666" stroke-width="1.1"/>
<line x1="9.10" y1="23.90" x2="598.90" y2="23.90" stroke="#666" stroke-width="1.1"/>
<line x1="9.10" y1="97.30" x2="598.90" y2="97.30" stroke="#666" stroke-width="1.1"/>
<line x1="9.10" y1="170.40" x2="598.90" y2="170.40" stroke="#666" stroke-width="1.1"/>
<line x1="9.10" y1="243.40" x2="598.90" y2="243.40" stroke="#666" stroke-width="1.1"/>
<text x="641.40" y="51.45" font-size="7.06" text-anchor="middle" textLength="63.41" lengthAdjust="spacingAndGlyphs">Manual Annotation</text>
<circle cx="607.00" cy="62.50" r="2.70" fill="#9467bd"/>
<text x="618.00" y="60.77" font-size="6.25" textLength="39.09" lengthAdjust="spacingAndGlyphs">connective &amp;</text>
<text x="618.00" y="67.37" font-size="6.25" textLength="46.97" lengthAdjust="spacingAndGlyphs">epithelial tissue</text>
<circle cx="607.00" cy="73.70" r="2.70" fill="#d62728"/>
<text x="618.00" y="75.87" font-size="6.25" textLength="47.33" lengthAdjust="spacingAndGlyphs">germinal center</text>
<circle cx="607.00" cy="82.70" r="2.70" fill="#ff7f0e"/>
<text x="618.00" y="84.87" font-size="6.25" textLength="48.76" lengthAdjust="spacingAndGlyphs">lymphoid follicle</text>
<circle cx="607.00" cy="91.50" r="2.70" fill="#2ca02c"/>
<text x="618.00" y="93.67" font-size="6.25" textLength="62.96" lengthAdjust="spacingAndGlyphs">tonsillar parenchyma</text>
<text x="635.40" y="118.25" font-size="7.06" text-anchor="middle" textLength="27.35" lengthAdjust="spacingAndGlyphs">Clusters</text>
<circle cx="614.30" cy="125.30" r="2.70" fill="#9467bd"/>
<text x="625.80" y="127.47" font-size="6.25">1</text>
<circle cx="614.30" cy="134.10" r="2.70" fill="#ff7f0e"/>
<text x="625.80" y="136.27" font-size="6.25">2</text>
<circle cx="614.30" cy="142.90" r="2.70" fill="#8c564b"/>
<text x="625.80" y="145.07" font-size="6.25">3</text>
<circle cx="647.20" cy="125.30" r="2.70" fill="#d62728"/>
<text x="658.30" y="127.47" font-size="6.25">4</text>
<circle cx="647.20" cy="134.10" r="2.70" fill="#2ca02c"/>
<text x="658.30" y="136.27" font-size="6.25">5</text>
<circle cx="647.20" cy="142.90" r="2.70" fill="#1f77b4"/>
<text x="658.30" y="145.07" font-size="6.25">6</text>
<text x="610.00" y="171.95" font-size="7.06" textLength="45.47" lengthAdjust="spacingAndGlyphs">Annotation of</text>
<text x="610.00" y="179.35" font-size="7.06" textLength="64.31" lengthAdjust="spacingAndGlyphs">SMART-MS Clusters</text>
<circle cx="614.30" cy="186.20" r="2.70" fill="#ff7f0e"/>
<text x="625.80" y="188.37" font-size="6.25" textLength="20.40" lengthAdjust="spacingAndGlyphs">Follicle</text>
<circle cx="614.30" cy="195.06" r="2.70" fill="#d62728"/>
<text x="625.80" y="197.23" font-size="6.25" textLength="48.17" lengthAdjust="spacingAndGlyphs">Germinal center</text>
<circle cx="614.30" cy="203.92" r="2.70" fill="#2ca02c"/>
<text x="625.80" y="206.09" font-size="6.25" textLength="31.85" lengthAdjust="spacingAndGlyphs">T cell zone</text>
<circle cx="614.30" cy="212.78" r="2.70" fill="#1f77b4"/>
<text x="625.80" y="214.95" font-size="6.25" textLength="33.49" lengthAdjust="spacingAndGlyphs">Epithelial-1</text>
<circle cx="614.30" cy="221.64" r="2.70" fill="#8c564b"/>
<text x="625.80" y="223.81" font-size="6.25" textLength="33.49" lengthAdjust="spacingAndGlyphs">Epithelial-2</text>
<circle cx="614.30" cy="230.50" r="2.70" fill="#9467bd"/>
<text x="625.80" y="232.67" font-size="6.25" textLength="49.65" lengthAdjust="spacingAndGlyphs">Plasma cell zone</text>
<text x="-0.60" y="268.40" font-size="15.96" font-weight="bold">b</text>
<rect x="6.30" y="316.45" width="650.10" height="23.70" fill="#e1e7e0"/>
<rect x="6.30" y="363.85" width="650.10" height="23.70" fill="#e1e7e0"/>
<rect x="6.30" y="411.25" width="650.10" height="23.70" fill="#e1e7e0"/>
<line x1="6.30" y1="316.45" x2="656.40" y2="316.45" stroke="#555" stroke-width="0.9" stroke-dasharray="0.9 3.6"/>
<line x1="6.30" y1="340.15" x2="656.40" y2="340.15" stroke="#555" stroke-width="0.9" stroke-dasharray="0.9 3.6"/>
<line x1="6.30" y1="363.85" x2="656.40" y2="363.85" stroke="#555" stroke-width="0.9" stroke-dasharray="0.9 3.6"/>
<line x1="6.30" y1="387.55" x2="656.40" y2="387.55" stroke="#555" stroke-width="0.9" stroke-dasharray="0.9 3.6"/>
<line x1="6.30" y1="411.25" x2="656.40" y2="411.25" stroke="#555" stroke-width="0.9" stroke-dasharray="0.9 3.6"/>
<line x1="6.30" y1="434.95" x2="656.40" y2="434.95" stroke="#555" stroke-width="0.9" stroke-dasharray="0.9 3.6"/>
<line x1="6.30" y1="292.80" x2="656.40" y2="292.80" stroke="#8a8a8a" stroke-width="1.4"/>
<line x1="6.30" y1="459.00" x2="656.40" y2="459.00" stroke="#222" stroke-width="1.0"/>
<line x1="477.70" y1="292.80" x2="477.70" y2="459.00" stroke="#222" stroke-width="1.0"/>
<text x="252.20" y="265.54" font-size="7.30" text-anchor="middle" textLength="58.08" lengthAdjust="spacingAndGlyphs">Bio conservation</text>
<text x="436.80" y="265.54" font-size="7.30" text-anchor="middle" textLength="57.11" lengthAdjust="spacingAndGlyphs">Batch correction</text>
<text x="566.50" y="265.54" font-size="7.30" text-anchor="middle" textLength="57.11" lengthAdjust="spacingAndGlyphs">Aggregate score</text>
<line x1="122.60" y1="269.30" x2="381.30" y2="269.30" stroke="#c8c8c8" stroke-width="0.8"/>
<line x1="400.00" y1="269.30" x2="473.70" y2="269.30" stroke="#c8c8c8" stroke-width="0.8"/>
<line x1="486.70" y1="269.30" x2="647.50" y2="269.30" stroke="#c8c8c8" stroke-width="0.8"/>
<text x="16.80" y="283.14" font-size="7.30" font-weight="bold" textLength="29.65" lengthAdjust="spacingAndGlyphs">Method</text>
<text x="129.30" y="283.03" font-size="7.28" text-anchor="middle" textLength="11.60" lengthAdjust="spacingAndGlyphs">ARI</text>
<text x="170.00" y="283.03" font-size="7.28" text-anchor="middle" textLength="12.01" lengthAdjust="spacingAndGlyphs">FMI</text>
<text x="211.20" y="283.03" font-size="7.28" text-anchor="middle" textLength="13.21" lengthAdjust="spacingAndGlyphs">NMI</text>
<text x="252.20" y="283.03" font-size="7.28" text-anchor="middle" textLength="12.76" lengthAdjust="spacingAndGlyphs">AMI</text>
<text x="293.30" y="283.03" font-size="7.28" text-anchor="middle" textLength="8.02" lengthAdjust="spacingAndGlyphs">MI</text>
<text x="334.00" y="283.03" font-size="7.28" text-anchor="middle" textLength="36.29" lengthAdjust="spacingAndGlyphs">V-Measure</text>
<text x="375.00" y="283.03" font-size="7.28" text-anchor="middle" textLength="20.44" lengthAdjust="spacingAndGlyphs">Homo</text>
<text x="416.00" y="283.03" font-size="7.28" text-anchor="middle" textLength="14.27" lengthAdjust="spacingAndGlyphs">iLISI</text>
<text x="457.00" y="283.03" font-size="7.28" text-anchor="middle" textLength="17.38" lengthAdjust="spacingAndGlyphs">kBET</text>
<text x="507.40" y="279.53" font-size="7.28" text-anchor="middle" textLength="10.92" lengthAdjust="spacingAndGlyphs">Bio</text>
<text x="507.40" y="287.33" font-size="7.28" text-anchor="middle" textLength="44.79" lengthAdjust="spacingAndGlyphs">conservation</text>
<text x="566.50" y="279.53" font-size="7.28" text-anchor="middle" textLength="19.92" lengthAdjust="spacingAndGlyphs">Batch</text>
<text x="566.50" y="287.33" font-size="7.28" text-anchor="middle" textLength="34.82" lengthAdjust="spacingAndGlyphs">correction</text>
<text x="626.20" y="283.03" font-size="7.28" text-anchor="middle" textLength="16.18" lengthAdjust="spacingAndGlyphs">Total</text>
<text x="16.80" y="307.13" font-size="7.28" font-weight="bold" textLength="40.75" lengthAdjust="spacingAndGlyphs">SMART-MS</text>
<circle cx="129.30" cy="304.60" r="10.50" fill="#319c5c"/>
<text x="129.30" y="307.04" font-size="7.01" text-anchor="middle" fill="#fff" textLength="19.12" lengthAdjust="spacingAndGlyphs">0.174</text>
<circle cx="170.00" cy="304.60" r="10.50" fill="#65c2a3"/>
<text x="170.00" y="307.04" font-size="7.01" text-anchor="middle" fill="#111" textLength="19.12" lengthAdjust="spacingAndGlyphs">0.427</text>
<circle cx="211.20" cy="304.60" r="10.50" fill="#3eaa70"/>
<text x="211.20" y="307.04" font-size="7.01" text-anchor="middle" fill="#fff" textLength="19.12" lengthAdjust="spacingAndGlyphs">0.258</text>
<circle cx="252.20" cy="304.60" r="10.50" fill="#3eaa70"/>
<text x="252.20" y="307.04" font-size="7.01" text-anchor="middle" fill="#fff" textLength="19.12" lengthAdjust="spacingAndGlyphs">0.258</text>
<circle cx="293.30" cy="304.60" r="10.50" fill="#339e60"/>
<text x="293.30" y="307.04" font-size="7.01" text-anchor="middle" fill="#fff" textLength="19.12" lengthAdjust="spacingAndGlyphs">0.355</text>
<circle cx="334.00" cy="304.60" r="10.50" fill="#3eaa70"/>
<text x="334.00" y="307.04" font-size="7.01" text-anchor="middle" fill="#fff" textLength="19.12" lengthAdjust="spacingAndGlyphs">0.258</text>
<circle cx="375.00" cy="304.60" r="10.50" fill="#39a569"/>
<text x="375.00" y="307.04" font-size="7.01" text-anchor="middle" fill="#fff" textLength="19.12" lengthAdjust="spacingAndGlyphs">0.330</text>
<circle cx="416.00" cy="304.60" r="10.50" fill="#39a569"/>
<text x="416.00" y="307.04" font-size="7.01" text-anchor="middle" fill="#fff" textLength="19.12" lengthAdjust="spacingAndGlyphs">0.813</text>
<circle cx="457.00" cy="304.60" r="10.50" fill="#157f3b"/>
<text x="457.00" y="307.04" font-size="7.01" text-anchor="middle" fill="#fff" textLength="19.12" lengthAdjust="spacingAndGlyphs">0.623</text>
<rect x="478.90" y="298.40" width="16.85" height="12.40" fill="#aedfb6"/>
<text x="496.85" y="307.48" font-size="8.29" fill="#111" textLength="22.62" lengthAdjust="spacingAndGlyphs">0.294</text>
<rect x="538.80" y="298.40" width="40.21" height="12.40" fill="#216bae"/>
<text x="577.71" y="307.48" font-size="8.29" text-anchor="end" fill="#111" textLength="22.62" lengthAdjust="spacingAndGlyphs">0.718</text>
<rect x="598.20" y="298.40" width="21.61" height="12.40" fill="#78cbbc"/>
<text x="620.91" y="307.48" font-size="8.29" fill="#111" textLength="22.62" lengthAdjust="spacingAndGlyphs">0.388</text>
<text x="16.80" y="330.83" font-size="7.28" font-weight="bold" textLength="56.11" lengthAdjust="spacingAndGlyphs">ADT+harmony</text>
<circle cx="129.30" cy="328.30" r="10.50" fill="#43af78"/>
<text x="129.30" y="330.74" font-size="7.01" text-anchor="middle" fill="#fff" textLength="19.12" lengthAdjust="spacingAndGlyphs">0.165</text>
<circle cx="170.00" cy="328.30" r="10.50" fill="#5abb95"/>
<text x="170.00" y="330.74" font-size="7.01" text-anchor="middle" fill="#111" textLength="19.12" lengthAdjust="spacingAndGlyphs">0.431</text>
<circle cx="211.20" cy="328.30" r="10.50" fill="#339e60"/>
<text x="211.20" y="330.74" font-size="7.01" text-anchor="middle" fill="#fff" textLength="19.12" lengthAdjust="spacingAndGlyphs">0.263</text>
<circle cx="252.20" cy="328.30" r="10.50" fill="#339e60"/>
<text x="252.20" y="330.74" font-size="7.01" text-anchor="middle" fill="#fff" textLength="19.12" lengthAdjust="spacingAndGlyphs">0.263</text>
<circle cx="293.30" cy="328.30" r="10.50" fill="#3eaa70"/>
<text x="293.30" y="330.74" font-size="7.01" text-anchor="middle" fill="#fff" textLength="19.12" lengthAdjust="spacingAndGlyphs">0.350</text>
<circle cx="334.00" cy="328.30" r="10.50" fill="#339e60"/>
<text x="334.00" y="330.74" font-size="7.01" text-anchor="middle" fill="#fff" textLength="19.12" lengthAdjust="spacingAndGlyphs">0.263</text>
<circle cx="375.00" cy="328.30" r="10.50" fill="#3fac74"/>
<text x="375.00" y="330.74" font-size="7.01" text-anchor="middle" fill="#fff" textLength="19.12" lengthAdjust="spacingAndGlyphs">0.326</text>
<circle cx="416.00" cy="328.30" r="10.50" fill="#4eb586"/>
<text x="416.00" y="330.74" font-size="7.01" text-anchor="middle" fill="#fff" textLength="19.12" lengthAdjust="spacingAndGlyphs">0.782</text>
<circle cx="457.00" cy="328.30" r="10.50" fill="#43af78"/>
<text x="457.00" y="330.74" font-size="7.01" text-anchor="middle" fill="#fff" textLength="19.12" lengthAdjust="spacingAndGlyphs">0.532</text>
<rect x="478.90" y="322.10" width="16.85" height="12.40" fill="#aedfb6"/>
<text x="496.85" y="331.18" font-size="8.29" fill="#111" textLength="22.62" lengthAdjust="spacingAndGlyphs">0.294</text>
<rect x="538.80" y="322.10" width="36.79" height="12.40" fill="#1e83ba"/>
<text x="574.29" y="331.18" font-size="8.29" text-anchor="end" fill="#111" textLength="22.62" lengthAdjust="spacingAndGlyphs">0.657</text>
<rect x="598.20" y="322.10" width="20.89" height="12.40" fill="#7ecdbb"/>
<text x="620.19" y="331.18" font-size="8.29" fill="#111" textLength="22.62" lengthAdjust="spacingAndGlyphs">0.375</text>
<text x="16.80" y="354.53" font-size="7.28" font-weight="bold" textLength="56.77" lengthAdjust="spacingAndGlyphs">RNA+harmony</text>
<circle cx="129.30" cy="352.00" r="10.50" fill="#258d48"/>
<text x="129.30" y="354.44" font-size="7.01" text-anchor="middle" fill="#fff" textLength="19.12" lengthAdjust="spacingAndGlyphs">0.180</text>
<circle cx="170.00" cy="352.00" r="10.50" fill="#258d48"/>
<text x="170.00" y="354.44" font-size="7.01" text-anchor="middle" fill="#fff" textLength="19.12" lengthAdjust="spacingAndGlyphs">0.442</text>
<circle cx="211.20" cy="352.00" r="10.50" fill="#28914d"/>
<text x="211.20" y="354.44" font-size="7.01" text-anchor="middle" fill="#fff" textLength="19.12" lengthAdjust="spacingAndGlyphs">0.267</text>
<circle cx="252.20" cy="352.00" r="10.50" fill="#28914d"/>
<text x="252.20" y="354.44" font-size="7.01" text-anchor="middle" fill="#fff" textLength="19.12" lengthAdjust="spacingAndGlyphs">0.267</text>
<circle cx="293.30" cy="352.00" r="10.50" fill="#28914d"/>
<text x="293.30" y="354.44" font-size="7.01" text-anchor="middle" fill="#fff" textLength="19.12" lengthAdjust="spacingAndGlyphs">0.359</text>
<circle cx="334.00" cy="352.00" r="10.50" fill="#28914d"/>
<text x="334.00" y="354.44" font-size="7.01" text-anchor="middle" fill="#fff" textLength="19.12" lengthAdjust="spacingAndGlyphs">0.267</text>
<circle cx="375.00" cy="352.00" r="10.50" fill="#258d48"/>
<text x="375.00" y="354.44" font-size="7.01" text-anchor="middle" fill="#fff" textLength="19.12" lengthAdjust="spacingAndGlyphs">0.334</text>
<circle cx="416.00" cy="352.00" r="10.50" fill="#65c2a3"/>
<text x="416.00" y="354.44" font-size="7.01" text-anchor="middle" fill="#111" textLength="19.12" lengthAdjust="spacingAndGlyphs">0.740</text>
<circle cx="457.00" cy="352.00" r="10.50" fill="#65c2a3"/>
<text x="457.00" y="354.44" font-size="7.01" text-anchor="middle" fill="#111" textLength="19.12" lengthAdjust="spacingAndGlyphs">0.425</text>
<rect x="478.90" y="345.80" width="17.30" height="12.40" fill="#a9ddb7"/>
<text x="497.30" y="354.88" font-size="8.29" fill="#111" textLength="22.62" lengthAdjust="spacingAndGlyphs">0.302</text>
<rect x="538.80" y="345.80" width="32.59" height="12.40" fill="#2a9ec1"/>
<text x="570.09" y="354.88" font-size="8.29" text-anchor="end" fill="#111" textLength="22.62" lengthAdjust="spacingAndGlyphs">0.582</text>
<rect x="598.20" y="345.80" width="20.27" height="12.40" fill="#85cfba"/>
<text x="619.57" y="354.88" font-size="8.29" fill="#111" textLength="22.62" lengthAdjust="spacingAndGlyphs">0.364</text>
<text x="16.80" y="378.23" font-size="7.28" font-weight="bold" textLength="27.84" lengthAdjust="spacingAndGlyphs">MultiVI</text>
<circle cx="129.30" cy="375.70" r="10.50" fill="#d6f0ee"/>
<text x="129.30" y="378.14" font-size="7.01" text-anchor="middle" fill="#111" textLength="19.12" lengthAdjust="spacingAndGlyphs">0.121</text>
<circle cx="170.00" cy="375.70" r="10.50" fill="#ccece6"/>
<text x="170.00" y="378.14" font-size="7.01" text-anchor="middle" fill="#111" textLength="19.12" lengthAdjust="spacingAndGlyphs">0.408</text>
<circle cx="211.20" cy="375.70" r="10.50" fill="#7acbb3"/>
<text x="211.20" y="378.14" font-size="7.01" text-anchor="middle" fill="#111" textLength="19.12" lengthAdjust="spacingAndGlyphs">0.240</text>
<circle cx="252.20" cy="375.70" r="10.50" fill="#7acbb3"/>
<text x="252.20" y="378.14" font-size="7.01" text-anchor="middle" fill="#111" textLength="19.12" lengthAdjust="spacingAndGlyphs">0.240</text>
<circle cx="293.30" cy="375.70" r="10.50" fill="#94d6c5"/>
<text x="293.30" y="378.14" font-size="7.01" text-anchor="middle" fill="#111" textLength="19.12" lengthAdjust="spacingAndGlyphs">0.318</text>
<circle cx="334.00" cy="375.70" r="10.50" fill="#7acbb3"/>
<text x="334.00" y="378.14" font-size="7.01" text-anchor="middle" fill="#111" textLength="19.12" lengthAdjust="spacingAndGlyphs">0.240</text>
<circle cx="375.00" cy="375.70" r="10.50" fill="#9cd9ca"/>
<text x="375.00" y="378.14" font-size="7.01" text-anchor="middle" fill="#111" textLength="19.12" lengthAdjust="spacingAndGlyphs">0.295</text>
<circle cx="416.00" cy="375.70" r="10.50" fill="#4eb586"/>
<text x="416.00" y="378.14" font-size="7.01" text-anchor="middle" fill="#fff" textLength="19.12" lengthAdjust="spacingAndGlyphs">0.778</text>
<circle cx="457.00" cy="375.70" r="10.50" fill="#2a9350"/>
<text x="457.00" y="378.14" font-size="7.01" text-anchor="middle" fill="#fff" textLength="19.12" lengthAdjust="spacingAndGlyphs">0.571</text>
<rect x="478.90" y="369.50" width="15.24" height="12.40" fill="#bde5b5"/>
<text x="495.24" y="378.58" font-size="8.29" fill="#111" textLength="22.62" lengthAdjust="spacingAndGlyphs">0.266</text>
<rect x="538.80" y="369.50" width="37.80" height="12.40" fill="#1f7db6"/>
<text x="575.30" y="378.58" font-size="8.29" text-anchor="end" fill="#111" textLength="22.62" lengthAdjust="spacingAndGlyphs">0.675</text>
<rect x="598.20" y="369.50" width="19.88" height="12.40" fill="#89d1ba"/>
<text x="619.18" y="378.58" font-size="8.29" fill="#111" textLength="22.62" lengthAdjust="spacingAndGlyphs">0.357</text>
<text x="16.80" y="401.93" font-size="7.28" font-weight="bold" textLength="43.51" lengthAdjust="spacingAndGlyphs">Present-BC</text>
<circle cx="129.30" cy="399.40" r="10.50" fill="#60bf9c"/>
<text x="129.30" y="401.84" font-size="7.01" text-anchor="middle" fill="#111" textLength="19.12" lengthAdjust="spacingAndGlyphs">0.153</text>
<circle cx="170.00" cy="399.40" r="10.50" fill="#5dbd99"/>
<text x="170.00" y="401.84" font-size="7.01" text-anchor="middle" fill="#111" textLength="19.12" lengthAdjust="spacingAndGlyphs">0.428</text>
<circle cx="211.20" cy="399.40" r="10.50" fill="#6fc6aa"/>
<text x="211.20" y="401.84" font-size="7.01" text-anchor="middle" fill="#111" textLength="19.12" lengthAdjust="spacingAndGlyphs">0.243</text>
<circle cx="252.20" cy="399.40" r="10.50" fill="#6fc6aa"/>
<text x="252.20" y="401.84" font-size="7.01" text-anchor="middle" fill="#111" textLength="19.12" lengthAdjust="spacingAndGlyphs">0.243</text>
<circle cx="293.30" cy="399.40" r="10.50" fill="#82ceb8"/>
<text x="293.30" y="401.84" font-size="7.01" text-anchor="middle" fill="#111" textLength="19.12" lengthAdjust="spacingAndGlyphs">0.323</text>
<circle cx="334.00" cy="399.40" r="10.50" fill="#6fc6aa"/>
<text x="334.00" y="401.84" font-size="7.01" text-anchor="middle" fill="#111" textLength="19.12" lengthAdjust="spacingAndGlyphs">0.243</text>
<circle cx="375.00" cy="399.40" r="10.50" fill="#87d0bc"/>
<text x="375.00" y="401.84" font-size="7.01" text-anchor="middle" fill="#111" textLength="19.12" lengthAdjust="spacingAndGlyphs">0.300</text>
<circle cx="416.00" cy="399.40" r="10.50" fill="#65c2a3"/>
<text x="416.00" y="401.84" font-size="7.01" text-anchor="middle" fill="#111" textLength="19.12" lengthAdjust="spacingAndGlyphs">0.737</text>
<circle cx="457.00" cy="399.40" r="10.50" fill="#77c9b0"/>
<text x="457.00" y="401.84" font-size="7.01" text-anchor="middle" fill="#111" textLength="19.12" lengthAdjust="spacingAndGlyphs">0.394</text>
<rect x="478.90" y="393.20" width="15.81" height="12.40" fill="#b9e4b5"/>
<text x="495.81" y="402.28" font-size="8.29" fill="#111" textLength="22.62" lengthAdjust="spacingAndGlyphs">0.276</text>
<rect x="538.80" y="393.20" width="31.64" height="12.40" fill="#2ea3c2"/>
<text x="569.14" y="402.28" font-size="8.29" text-anchor="end" fill="#111" textLength="22.62" lengthAdjust="spacingAndGlyphs">0.565</text>
<rect x="598.20" y="393.20" width="18.99" height="12.40" fill="#92d5b9"/>
<text x="618.29" y="402.28" font-size="8.29" fill="#111" textLength="22.62" lengthAdjust="spacingAndGlyphs">0.341</text>
<text x="16.80" y="425.63" font-size="7.28" font-weight="bold" textLength="27.90" lengthAdjust="spacingAndGlyphs">MOFA+</text>
<circle cx="129.30" cy="423.10" r="10.50" fill="#5dbd99"/>
<text x="129.30" y="425.54" font-size="7.01" text-anchor="middle" fill="#111" textLength="19.12" lengthAdjust="spacingAndGlyphs">0.154</text>
<circle cx="170.00" cy="423.10" r="10.50" fill="#9fdacc"/>
<text x="170.00" y="425.54" font-size="7.01" text-anchor="middle" fill="#111" textLength="19.12" lengthAdjust="spacingAndGlyphs">0.414</text>
<circle cx="211.20" cy="423.10" r="10.50" fill="#5dbd99"/>
<text x="211.20" y="425.54" font-size="7.01" text-anchor="middle" fill="#111" textLength="19.12" lengthAdjust="spacingAndGlyphs">0.245</text>
<circle cx="252.20" cy="423.10" r="10.50" fill="#5dbd99"/>
<text x="252.20" y="425.54" font-size="7.01" text-anchor="middle" fill="#111" textLength="19.12" lengthAdjust="spacingAndGlyphs">0.245</text>
<circle cx="293.30" cy="423.10" r="10.50" fill="#5dbd99"/>
<text x="293.30" y="425.54" font-size="7.01" text-anchor="middle" fill="#111" textLength="19.12" lengthAdjust="spacingAndGlyphs">0.332</text>
<circle cx="334.00" cy="423.10" r="10.50" fill="#5dbd99"/>
<text x="334.00" y="425.54" font-size="7.01" text-anchor="middle" fill="#111" textLength="19.12" lengthAdjust="spacingAndGlyphs">0.245</text>
<circle cx="375.00" cy="423.10" r="10.50" fill="#60bf9c"/>
<text x="375.00" y="425.54" font-size="7.01" text-anchor="middle" fill="#111" textLength="19.12" lengthAdjust="spacingAndGlyphs">0.309</text>
<circle cx="416.00" cy="423.10" r="10.50" fill="#ecf8fa"/>
<text x="416.00" y="425.54" font-size="7.01" text-anchor="middle" fill="#111" textLength="19.12" lengthAdjust="spacingAndGlyphs">0.540</text>
<circle cx="457.00" cy="423.10" r="10.50" fill="#d6f0ee"/>
<text x="457.00" y="425.54" font-size="7.01" text-anchor="middle" fill="#111" textLength="19.12" lengthAdjust="spacingAndGlyphs">0.225</text>
<rect x="478.90" y="416.90" width="15.93" height="12.40" fill="#b7e3b6"/>
<text x="495.93" y="425.98" font-size="8.29" fill="#111" textLength="22.62" lengthAdjust="spacingAndGlyphs">0.278</text>
<rect x="538.80" y="416.90" width="21.45" height="12.40" fill="#7acbbc"/>
<text x="561.35" y="425.98" font-size="8.29" fill="#111" textLength="22.62" lengthAdjust="spacingAndGlyphs">0.383</text>
<rect x="598.20" y="416.90" width="16.77" height="12.40" fill="#a9ddb7"/>
<text x="616.07" y="425.98" font-size="8.29" fill="#111" textLength="22.62" lengthAdjust="spacingAndGlyphs">0.301</text>
<text x="16.80" y="449.33" font-size="7.28" font-weight="bold" textLength="26.87" lengthAdjust="spacingAndGlyphs">TotalVI</text>
<circle cx="129.30" cy="446.80" r="10.50" fill="#f4fbfc"/>
<text x="129.30" y="449.24" font-size="7.01" text-anchor="middle" fill="#111" textLength="19.12" lengthAdjust="spacingAndGlyphs">0.079</text>
<circle cx="170.00" cy="446.80" r="10.50" fill="#f4fbfc"/>
<text x="170.00" y="449.24" font-size="7.01" text-anchor="middle" fill="#111" textLength="19.12" lengthAdjust="spacingAndGlyphs">0.365</text>
<circle cx="211.20" cy="446.80" r="10.50" fill="#f4fbfc"/>
<text x="211.20" y="449.24" font-size="7.01" text-anchor="middle" fill="#111" textLength="19.12" lengthAdjust="spacingAndGlyphs">0.170</text>
<circle cx="252.20" cy="446.80" r="10.50" fill="#f4fbfc"/>
<text x="252.20" y="449.24" font-size="7.01" text-anchor="middle" fill="#111" textLength="19.12" lengthAdjust="spacingAndGlyphs">0.170</text>
<circle cx="293.30" cy="446.80" r="10.50" fill="#f4fbfc"/>
<text x="293.30" y="449.24" font-size="7.01" text-anchor="middle" fill="#111" textLength="19.12" lengthAdjust="spacingAndGlyphs">0.235</text>
<circle cx="334.00" cy="446.80" r="10.50" fill="#f4fbfc"/>
<text x="334.00" y="449.24" font-size="7.01" text-anchor="middle" fill="#111" textLength="19.12" lengthAdjust="spacingAndGlyphs">0.170</text>
<circle cx="375.00" cy="446.80" r="10.50" fill="#f4fbfc"/>
<text x="375.00" y="449.24" font-size="7.01" text-anchor="middle" fill="#111" textLength="19.12" lengthAdjust="spacingAndGlyphs">0.219</text>
<circle cx="416.00" cy="446.80" r="10.50" fill="#f4fbfc"/>
<text x="416.00" y="449.24" font-size="7.01" text-anchor="middle" fill="#111" textLength="19.12" lengthAdjust="spacingAndGlyphs">0.386</text>
<circle cx="457.00" cy="446.80" r="10.50" fill="#f4fbfc"/>
<text x="457.00" y="449.24" font-size="7.01" text-anchor="middle" fill="#111" textLength="19.12" lengthAdjust="spacingAndGlyphs">0.002</text>
<rect x="478.90" y="440.60" width="11.52" height="12.40" fill="#d6efb3"/>
<text x="491.52" y="449.68" font-size="8.29" fill="#111" textLength="22.62" lengthAdjust="spacingAndGlyphs">0.201</text>
<rect x="538.80" y="440.60" width="10.86" height="12.40" fill="#d9f0b3"/>
<text x="550.76" y="449.68" font-size="8.29" fill="#111" textLength="22.62" lengthAdjust="spacingAndGlyphs">0.194</text>
<rect x="598.20" y="440.60" width="11.14" height="12.40" fill="#d6efb3"/>
<text x="610.44" y="449.68" font-size="8.29" fill="#111" textLength="22.62" lengthAdjust="spacingAndGlyphs">0.200</text>
<text x="-0.30" y="486.90" font-size="15.96" font-weight="bold">c</text>
<rect x="15.40" y="497.20" width="10.83" height="11.25" fill="#08306b"/>
<rect x="26.18" y="497.20" width="10.83" height="11.25" fill="#08458a"/>
<rect x="36.96" y="497.20" width="10.83" height="11.25" fill="#083573"/>
<rect x="47.74" y="497.20" width="10.83" height="11.25" fill="#083776"/>
<rect x="58.52" y="497.20" width="10.83" height="11.25" fill="#6aaed6"/>
<rect x="69.30" y="497.20" width="10.83" height="11.25" fill="#87bddc"/>
<rect x="80.08" y="497.20" width="10.83" height="11.25" fill="#d0e1f2"/>
<rect x="90.86" y="497.20" width="10.83" height="11.25" fill="#b0d2e7"/>
<rect x="101.64" y="497.20" width="10.83" height="11.25" fill="#b7d4ea"/>
<rect x="112.42" y="497.20" width="10.83" height="11.25" fill="#b0d2e7"/>
<rect x="123.20" y="497.20" width="10.83" height="11.25" fill="#d0e1f2"/>
<rect x="133.98" y="497.20" width="10.83" height="11.25" fill="#b0d2e7"/>
<rect x="144.76" y="497.20" width="10.83" height="11.25" fill="#dfecf7"/>
<rect x="155.54" y="497.20" width="10.83" height="11.25" fill="#d0e1f2"/>
<rect x="166.32" y="497.20" width="10.83" height="11.25" fill="#e7f1fa"/>
<rect x="177.10" y="497.20" width="10.83" height="11.25" fill="#e3eef9"/>
<rect x="187.88" y="497.20" width="10.83" height="11.25" fill="#e3eef9"/>
<rect x="198.66" y="497.20" width="10.83" height="11.25" fill="#e3eef9"/>
<rect x="209.44" y="497.20" width="10.83" height="11.25" fill="#d3e4f3"/>
<rect x="220.22" y="497.20" width="10.83" height="11.25" fill="#f3f8fe"/>
<rect x="231.00" y="497.20" width="10.83" height="11.25" fill="#d3e4f3"/>
<rect x="15.40" y="508.40" width="10.83" height="11.25" fill="#1764ab"/>
<rect x="26.18" y="508.40" width="10.83" height="11.25" fill="#08306b"/>
<rect x="36.96" y="508.40" width="10.83" height="11.25" fill="#084f99"/>
<rect x="47.74" y="508.40" width="10.83" height="11.25" fill="#3b8bc2"/>
<rect x="58.52" y="508.40" width="10.83" height="11.25" fill="#08306b"/>
<rect x="69.30" y="508.40" width="10.83" height="11.25" fill="#08306b"/>
<rect x="80.08" y="508.40" width="10.83" height="11.25" fill="#08306b"/>
<rect x="90.86" y="508.40" width="10.83" height="11.25" fill="#a6cee4"/>
<rect x="101.64" y="508.40" width="10.83" height="11.25" fill="#8cc0dd"/>
<rect x="112.42" y="508.40" width="10.83" height="11.25" fill="#ccdff1"/>
<rect x="123.20" y="508.40" width="10.83" height="11.25" fill="#c6dbef"/>
<rect x="133.98" y="508.40" width="10.83" height="11.25" fill="#eaf2fb"/>
<rect x="144.76" y="508.40" width="10.83" height="11.25" fill="#e7f1fa"/>
<rect x="155.54" y="508.40" width="10.83" height="11.25" fill="#eff6fc"/>
<rect x="166.32" y="508.40" width="10.83" height="11.25" fill="#eff6fc"/>
<rect x="177.10" y="508.40" width="10.83" height="11.25" fill="#f2f7fd"/>
<rect x="187.88" y="508.40" width="10.83" height="11.25" fill="#f2f7fd"/>
<rect x="198.66" y="508.40" width="10.83" height="11.25" fill="#f3f8fe"/>
<rect x="209.44" y="508.40" width="10.83" height="11.25" fill="#bfd8ed"/>
<rect x="220.22" y="508.40" width="10.83" height="11.25" fill="#ddeaf7"/>
<rect x="231.00" y="508.40" width="10.83" height="11.25" fill="#f3f8fe"/>
<rect x="15.40" y="519.60" width="10.83" height="11.25" fill="#d9e8f5"/>
<rect x="26.18" y="519.60" width="10.83" height="11.25" fill="#ccdff1"/>
<rect x="36.96" y="519.60" width="10.83" height="11.25" fill="#b0d2e7"/>
<rect x="47.74" y="519.60" width="10.83" height="11.25" fill="#d9e8f5"/>
<rect x="58.52" y="519.60" width="10.83" height="11.25" fill="#eaf2fb"/>
<rect x="69.30" y="519.60" width="10.83" height="11.25" fill="#d0e1f2"/>
<rect x="80.08" y="519.60" width="10.83" height="11.25" fill="#ebf3fb"/>
<rect x="90.86" y="519.60" width="10.83" height="11.25" fill="#08306b"/>
<rect x="101.64" y="519.60" width="10.83" height="11.25" fill="#08306b"/>
<rect x="112.42" y="519.60" width="10.83" height="11.25" fill="#08306b"/>
<rect x="123.20" y="519.60" width="10.83" height="11.25" fill="#08306b"/>
<rect x="133.98" y="519.60" width="10.83" height="11.25" fill="#ebf3fb"/>
<rect x="144.76" y="519.60" width="10.83" height="11.25" fill="#eff6fc"/>
<rect x="155.54" y="519.60" width="10.83" height="11.25" fill="#ebf3fb"/>
<rect x="166.32" y="519.60" width="10.83" height="11.25" fill="#f2f7fd"/>
<rect x="177.10" y="519.60" width="10.83" height="11.25" fill="#eff6fc"/>
<rect x="187.88" y="519.60" width="10.83" height="11.25" fill="#f2f7fd"/>
<rect x="198.66" y="519.60" width="10.83" height="11.25" fill="#d9e8f5"/>
<rect x="209.44" y="519.60" width="10.83" height="11.25" fill="#0d57a1"/>
<rect x="220.22" y="519.60" width="10.83" height="11.25" fill="#d6e5f4"/>
<rect x="231.00" y="519.60" width="10.83" height="11.25" fill="#2979b9"/>
<rect x="15.40" y="530.80" width="10.83" height="11.25" fill="#add0e6"/>
<rect x="26.18" y="530.80" width="10.83" height="11.25" fill="#add0e6"/>
<rect x="36.96" y="530.80" width="10.83" height="11.25" fill="#74b3d8"/>
<rect x="47.74" y="530.80" width="10.83" height="11.25" fill="#519ccc"/>
<rect x="58.52" y="530.80" width="10.83" height="11.25" fill="#e3eef9"/>
<rect x="69.30" y="530.80" width="10.83" height="11.25" fill="#d0e1f2"/>
<rect x="80.08" y="530.80" width="10.83" height="11.25" fill="#f3f8fe"/>
<rect x="90.86" y="530.80" width="10.83" height="11.25" fill="#eaf2fb"/>
<rect x="101.64" y="530.80" width="10.83" height="11.25" fill="#a6cee4"/>
<rect x="112.42" y="530.80" width="10.83" height="11.25" fill="#e7f1fa"/>
<rect x="123.20" y="530.80" width="10.83" height="11.25" fill="#e7f1fa"/>
<rect x="133.98" y="530.80" width="10.83" height="11.25" fill="#08306b"/>
<rect x="144.76" y="530.80" width="10.83" height="11.25" fill="#08306b"/>
<rect x="155.54" y="530.80" width="10.83" height="11.25" fill="#08306b"/>
<rect x="166.32" y="530.80" width="10.83" height="11.25" fill="#94c4df"/>
<rect x="177.10" y="530.80" width="10.83" height="11.25" fill="#6aaed6"/>
<rect x="187.88" y="530.80" width="10.83" height="11.25" fill="#549fcd"/>
<rect x="198.66" y="530.80" width="10.83" height="11.25" fill="#64a9d3"/>
<rect x="209.44" y="530.80" width="10.83" height="11.25" fill="#f3f8fe"/>
<rect x="220.22" y="530.80" width="10.83" height="11.25" fill="#4a98c9"/>
<rect x="231.00" y="530.80" width="10.83" height="11.25" fill="#8cc0dd"/>
<rect x="15.40" y="542.00" width="10.83" height="11.25" fill="#f2f7fd"/>
<rect x="26.18" y="542.00" width="10.83" height="11.25" fill="#f2f7fd"/>
<rect x="36.96" y="542.00" width="10.83" height="11.25" fill="#f2f7fd"/>
<rect x="47.74" y="542.00" width="10.83" height="11.25" fill="#f2f7fd"/>
<rect x="58.52" y="542.00" width="10.83" height="11.25" fill="#eff6fc"/>
<rect x="69.30" y="542.00" width="10.83" height="11.25" fill="#e7f1fa"/>
<rect x="80.08" y="542.00" width="10.83" height="11.25" fill="#eaf2fb"/>
<rect x="90.86" y="542.00" width="10.83" height="11.25" fill="#f2f7fd"/>
<rect x="101.64" y="542.00" width="10.83" height="11.25" fill="#f2f7fd"/>
<rect x="112.42" y="542.00" width="10.83" height="11.25" fill="#f2f7fd"/>
<rect x="123.20" y="542.00" width="10.83" height="11.25" fill="#f3f8fe"/>
<rect x="133.98" y="542.00" width="10.83" height="11.25" fill="#2e7ebc"/>
<rect x="144.76" y="542.00" width="10.83" height="11.25" fill="#b7d4ea"/>
<rect x="155.54" y="542.00" width="10.83" height="11.25" fill="#4493c7"/>
<rect x="166.32" y="542.00" width="10.83" height="11.25" fill="#08306b"/>
<rect x="177.10" y="542.00" width="10.83" height="11.25" fill="#08306b"/>
<rect x="187.88" y="542.00" width="10.83" height="11.25" fill="#08306b"/>
<rect x="198.66" y="542.00" width="10.83" height="11.25" fill="#ddeaf7"/>
<rect x="209.44" y="542.00" width="10.83" height="11.25" fill="#eff6fc"/>
<rect x="220.22" y="542.00" width="10.83" height="11.25" fill="#d6e5f4"/>
<rect x="231.00" y="542.00" width="10.83" height="11.25" fill="#d0e1f2"/>
<rect x="15.40" y="553.20" width="10.83" height="11.25" fill="#f2f7fd"/>
<rect x="26.18" y="553.20" width="10.83" height="11.25" fill="#e3eef9"/>
<rect x="36.96" y="553.20" width="10.83" height="11.25" fill="#e3eef9"/>
<rect x="47.74" y="553.20" width="10.83" height="11.25" fill="#f2f7fd"/>
<rect x="58.52" y="553.20" width="10.83" height="11.25" fill="#f2f7fd"/>
<rect x="69.30" y="553.20" width="10.83" height="11.25" fill="#f3f8fe"/>
<rect x="80.08" y="553.20" width="10.83" height="11.25" fill="#eaf2fb"/>
<rect x="90.86" y="553.20" width="10.83" height="11.25" fill="#9cc9e1"/>
<rect x="101.64" y="553.20" width="10.83" height="11.25" fill="#b7d4ea"/>
<rect x="112.42" y="553.20" width="10.83" height="11.25" fill="#4a98c9"/>
<rect x="123.20" y="553.20" width="10.83" height="11.25" fill="#2070b4"/>
<rect x="133.98" y="553.20" width="10.83" height="11.25" fill="#f3f8fe"/>
<rect x="144.76" y="553.20" width="10.83" height="11.25" fill="#f3f8fe"/>
<rect x="155.54" y="553.20" width="10.83" height="11.25" fill="#f2f7fd"/>
<rect x="166.32" y="553.20" width="10.83" height="11.25" fill="#f2f7fd"/>
<rect x="177.10" y="553.20" width="10.83" height="11.25" fill="#f2f7fd"/>
<rect x="187.88" y="553.20" width="10.83" height="11.25" fill="#f3f8fe"/>
<rect x="198.66" y="553.20" width="10.83" height="11.25" fill="#08306b"/>
<rect x="209.44" y="553.20" width="10.83" height="11.25" fill="#08306b"/>
<rect x="220.22" y="553.20" width="10.83" height="11.25" fill="#08306b"/>
<rect x="231.00" y="553.20" width="10.83" height="11.25" fill="#08306b"/>
<line x1="26.18" y1="497.20" x2="26.18" y2="564.40" stroke="#000" stroke-width="0.25" stroke-opacity="0.12"/>
<line x1="36.96" y1="497.20" x2="36.96" y2="564.40" stroke="#000" stroke-width="0.25" stroke-opacity="0.12"/>
<line x1="47.74" y1="497.20" x2="47.74" y2="564.40" stroke="#000" stroke-width="0.25" stroke-opacity="0.12"/>
<line x1="58.52" y1="497.20" x2="58.52" y2="564.40" stroke="#000" stroke-width="0.25" stroke-opacity="0.12"/>
<line x1="69.30" y1="497.20" x2="69.30" y2="564.40" stroke="#000" stroke-width="0.25" stroke-opacity="0.12"/>
<line x1="80.08" y1="497.20" x2="80.08" y2="564.40" stroke="#000" stroke-width="0.25" stroke-opacity="0.12"/>
<line x1="90.86" y1="497.20" x2="90.86" y2="564.40" stroke="#000" stroke-width="0.25" stroke-opacity="0.12"/>
<line x1="101.64" y1="497.20" x2="101.64" y2="564.40" stroke="#000" stroke-width="0.25" stroke-opacity="0.12"/>
<line x1="112.42" y1="497.20" x2="112.42" y2="564.40" stroke="#000" stroke-width="0.25" stroke-opacity="0.12"/>
<line x1="123.20" y1="497.20" x2="123.20" y2="564.40" stroke="#000" stroke-width="0.25" stroke-opacity="0.12"/>
<line x1="133.98" y1="497.20" x2="133.98" y2="564.40" stroke="#000" stroke-width="0.25" stroke-opacity="0.12"/>
<line x1="144.76" y1="497.20" x2="144.76" y2="564.40" stroke="#000" stroke-width="0.25" stroke-opacity="0.12"/>
<line x1="155.54" y1="497.20" x2="155.54" y2="564.40" stroke="#000" stroke-width="0.25" stroke-opacity="0.12"/>
<line x1="166.32" y1="497.20" x2="166.32" y2="564.40" stroke="#000" stroke-width="0.25" stroke-opacity="0.12"/>
<line x1="177.10" y1="497.20" x2="177.10" y2="564.40" stroke="#000" stroke-width="0.25" stroke-opacity="0.12"/>
<line x1="187.88" y1="497.20" x2="187.88" y2="564.40" stroke="#000" stroke-width="0.25" stroke-opacity="0.12"/>
<line x1="198.66" y1="497.20" x2="198.66" y2="564.40" stroke="#000" stroke-width="0.25" stroke-opacity="0.12"/>
<line x1="209.44" y1="497.20" x2="209.44" y2="564.40" stroke="#000" stroke-width="0.25" stroke-opacity="0.12"/>
<line x1="220.22" y1="497.20" x2="220.22" y2="564.40" stroke="#000" stroke-width="0.25" stroke-opacity="0.12"/>
<line x1="231.00" y1="497.20" x2="231.00" y2="564.40" stroke="#000" stroke-width="0.25" stroke-opacity="0.12"/>
<line x1="15.40" y1="508.40" x2="241.78" y2="508.40" stroke="#000" stroke-width="0.25" stroke-opacity="0.12"/>
<line x1="15.40" y1="519.60" x2="241.78" y2="519.60" stroke="#000" stroke-width="0.25" stroke-opacity="0.12"/>
<line x1="15.40" y1="530.80" x2="241.78" y2="530.80" stroke="#000" stroke-width="0.25" stroke-opacity="0.12"/>
<line x1="15.40" y1="542.00" x2="241.78" y2="542.00" stroke="#000" stroke-width="0.25" stroke-opacity="0.12"/>
<line x1="15.40" y1="553.20" x2="241.78" y2="553.20" stroke="#000" stroke-width="0.25" stroke-opacity="0.12"/>
<rect x="15.40" y="497.20" width="226.38" height="67.20" fill="none" stroke="#000" stroke-width="1.1"/>
<line x1="13.20" y1="502.80" x2="15.40" y2="502.80" stroke="#000" stroke-width="0.7"/>
<text x="8.40" y="505.61" font-size="6.93" text-anchor="middle">1</text>
<line x1="13.20" y1="514.00" x2="15.40" y2="514.00" stroke="#000" stroke-width="0.7"/>
<text x="8.40" y="516.81" font-size="6.93" text-anchor="middle">2</text>
<line x1="13.20" y1="525.20" x2="15.40" y2="525.20" stroke="#000" stroke-width="0.7"/>
<text x="8.40" y="528.01" font-size="6.93" text-anchor="middle">3</text>
<line x1="13.20" y1="536.40" x2="15.40" y2="536.40" stroke="#000" stroke-width="0.7"/>
<text x="8.40" y="539.21" font-size="6.93" text-anchor="middle">4</text>
<line x1="13.20" y1="547.60" x2="15.40" y2="547.60" stroke="#000" stroke-width="0.7"/>
<text x="8.40" y="550.41" font-size="6.93" text-anchor="middle">5</text>
<line x1="13.20" y1="558.80" x2="15.40" y2="558.80" stroke="#000" stroke-width="0.7"/>
<text x="8.40" y="561.61" font-size="6.93" text-anchor="middle">6</text>
<line x1="20.79" y1="564.40" x2="20.79" y2="566.60" stroke="#000" stroke-width="0.7"/>
<text x="22.91" y="569.80" font-size="6.20" text-anchor="end" font-style="italic" textLength="16.17" lengthAdjust="spacingAndGlyphs" transform="rotate(-90.00 22.91 569.80)">CD19</text>
<line x1="31.57" y1="564.40" x2="31.57" y2="566.60" stroke="#000" stroke-width="0.7"/>
<text x="33.69" y="569.80" font-size="6.20" text-anchor="end" font-style="italic" textLength="16.17" lengthAdjust="spacingAndGlyphs" transform="rotate(-90.00 33.69 569.80)">CD22</text>
<line x1="42.35" y1="564.40" x2="42.35" y2="566.60" stroke="#000" stroke-width="0.7"/>
<text x="44.47" y="569.80" font-size="6.20" text-anchor="end" font-style="italic" textLength="20.38" lengthAdjust="spacingAndGlyphs" transform="rotate(-90.00 44.47 569.80)">MS4A1</text>
<line x1="53.13" y1="564.40" x2="53.13" y2="566.60" stroke="#000" stroke-width="0.7"/>
<text x="55.25" y="569.80" font-size="6.20" text-anchor="end" font-style="italic" textLength="15.84" lengthAdjust="spacingAndGlyphs" transform="rotate(-90.00 55.25 569.80)">IGHM</text>
<line x1="63.91" y1="564.40" x2="63.91" y2="566.60" stroke="#000" stroke-width="0.7"/>
<text x="66.03" y="569.80" font-size="6.20" text-anchor="end" font-style="italic" textLength="11.97" lengthAdjust="spacingAndGlyphs" transform="rotate(-90.00 66.03 569.80)">CR2</text>
<line x1="74.69" y1="564.40" x2="74.69" y2="566.60" stroke="#000" stroke-width="0.7"/>
<text x="76.81" y="569.80" font-size="6.20" text-anchor="end" font-style="italic" textLength="23.00" lengthAdjust="spacingAndGlyphs" transform="rotate(-90.00 76.81 569.80)">BCL2A1</text>
<line x1="85.47" y1="564.40" x2="85.47" y2="566.60" stroke="#000" stroke-width="0.7"/>
<text x="87.59" y="569.80" font-size="6.20" text-anchor="end" font-style="italic" textLength="16.78" lengthAdjust="spacingAndGlyphs" transform="rotate(-90.00 87.59 569.80)">LMO2</text>
<line x1="96.25" y1="564.40" x2="96.25" y2="566.60" stroke="#000" stroke-width="0.7"/>
<text x="98.37" y="569.80" font-size="6.20" text-anchor="end" font-style="italic" textLength="16.14" lengthAdjust="spacingAndGlyphs" transform="rotate(-90.00 98.37 569.80)">CD3E</text>
<line x1="107.03" y1="564.40" x2="107.03" y2="566.60" stroke="#000" stroke-width="0.7"/>
<text x="109.15" y="569.80" font-size="6.20" text-anchor="end" font-style="italic" textLength="12.42" lengthAdjust="spacingAndGlyphs" transform="rotate(-90.00 109.15 569.80)">CD4</text>
<line x1="117.81" y1="564.40" x2="117.81" y2="566.60" stroke="#000" stroke-width="0.7"/>
<text x="119.93" y="569.80" font-size="6.20" text-anchor="end" font-style="italic" textLength="16.45" lengthAdjust="spacingAndGlyphs" transform="rotate(-90.00 119.93 569.80)">CD8A</text>
<line x1="128.59" y1="564.40" x2="128.59" y2="566.60" stroke="#000" stroke-width="0.7"/>
<text x="130.71" y="569.80" font-size="6.20" text-anchor="end" font-style="italic" textLength="19.03" lengthAdjust="spacingAndGlyphs" transform="rotate(-90.00 130.71 569.80)">CCL19</text>
<line x1="139.37" y1="564.40" x2="139.37" y2="566.60" stroke="#000" stroke-width="0.7"/>
<text x="141.49" y="569.80" font-size="6.20" text-anchor="end" font-style="italic" textLength="9.88" lengthAdjust="spacingAndGlyphs" transform="rotate(-90.00 141.49 569.80)">LTF</text>
<line x1="150.15" y1="564.40" x2="150.15" y2="566.60" stroke="#000" stroke-width="0.7"/>
<text x="152.27" y="569.80" font-size="6.20" text-anchor="end" font-style="italic" textLength="20.53" lengthAdjust="spacingAndGlyphs" transform="rotate(-90.00 152.27 569.80)">EPCAM</text>
<line x1="160.93" y1="564.40" x2="160.93" y2="566.60" stroke="#000" stroke-width="0.7"/>
<text x="163.05" y="569.80" font-size="6.20" text-anchor="end" font-style="italic" textLength="19.03" lengthAdjust="spacingAndGlyphs" transform="rotate(-90.00 163.05 569.80)">CCL20</text>
<line x1="171.71" y1="564.40" x2="171.71" y2="566.60" stroke="#000" stroke-width="0.7"/>
<text x="173.83" y="569.80" font-size="6.20" text-anchor="end" font-style="italic" textLength="15.33" lengthAdjust="spacingAndGlyphs" transform="rotate(-90.00 173.83 569.80)">KRT4</text>
<line x1="182.49" y1="564.40" x2="182.49" y2="566.60" stroke="#000" stroke-width="0.7"/>
<text x="184.61" y="569.80" font-size="6.20" text-anchor="end" font-style="italic" textLength="19.08" lengthAdjust="spacingAndGlyphs" transform="rotate(-90.00 184.61 569.80)">KRT13</text>
<line x1="193.27" y1="564.40" x2="193.27" y2="566.60" stroke="#000" stroke-width="0.7"/>
<text x="195.39" y="569.80" font-size="6.20" text-anchor="end" font-style="italic" textLength="22.80" lengthAdjust="spacingAndGlyphs" transform="rotate(-90.00 195.39 569.80)">S100A2</text>
<line x1="204.05" y1="564.40" x2="204.05" y2="566.60" stroke="#000" stroke-width="0.7"/>
<text x="206.17" y="569.80" font-size="6.20" text-anchor="end" font-style="italic" textLength="19.07" lengthAdjust="spacingAndGlyphs" transform="rotate(-90.00 206.17 569.80)">IGHG1</text>
<line x1="214.83" y1="564.40" x2="214.83" y2="566.60" stroke="#000" stroke-width="0.7"/>
<text x="216.95" y="569.80" font-size="6.20" text-anchor="end" font-style="italic" textLength="22.97" lengthAdjust="spacingAndGlyphs" transform="rotate(-90.00 216.95 569.80)">CXCL12</text>
<line x1="225.61" y1="564.40" x2="225.61" y2="566.60" stroke="#000" stroke-width="0.7"/>
<text x="227.73" y="569.80" font-size="6.20" text-anchor="end" font-style="italic" textLength="16.93" lengthAdjust="spacingAndGlyphs" transform="rotate(-90.00 227.73 569.80)">MZB1</text>
<line x1="236.39" y1="564.40" x2="236.39" y2="566.60" stroke="#000" stroke-width="0.7"/>
<text x="238.51" y="569.80" font-size="6.20" text-anchor="end" font-style="italic" textLength="18.31" lengthAdjust="spacingAndGlyphs" transform="rotate(-90.00 238.51 569.80)">ITM2C</text>
<polyline points="17.56,497.20 17.56,494.20 56.36,494.20 56.36,497.20" fill="none" stroke="#000" stroke-width="1"/>
<g transform="translate(36.96,483.48) rotate(-20.00)"><text x="0.00" y="2.28" font-size="7.25" text-anchor="middle" textLength="23.65" lengthAdjust="spacingAndGlyphs">Follicle</text></g>
<polyline points="60.68,497.20 60.68,494.20 88.70,494.20 88.70,497.20" fill="none" stroke="#000" stroke-width="1"/>
<g transform="translate(74.69,477.97) rotate(-20.00)"><text x="0.00" y="2.28" font-size="7.25" text-anchor="middle" textLength="55.86" lengthAdjust="spacingAndGlyphs">Germinal center</text></g>
<polyline points="93.02,497.20 93.02,494.20 131.82,494.20 131.82,497.20" fill="none" stroke="#000" stroke-width="1"/>
<g transform="translate(112.42,481.20) rotate(-20.00)"><text x="0.00" y="2.28" font-size="7.25" text-anchor="middle" textLength="36.94" lengthAdjust="spacingAndGlyphs">T cell zone</text></g>
<polyline points="136.14,497.20 136.14,494.20 164.16,494.20 164.16,497.20" fill="none" stroke="#000" stroke-width="1"/>
<g transform="translate(150.15,480.88) rotate(-20.00)"><text x="0.00" y="2.28" font-size="7.25" text-anchor="middle" textLength="38.84" lengthAdjust="spacingAndGlyphs">Epithelial-1</text></g>
<polyline points="168.48,497.20 168.48,494.20 196.50,494.20 196.50,497.20" fill="none" stroke="#000" stroke-width="1"/>
<g transform="translate(182.49,480.88) rotate(-20.00)"><text x="0.00" y="2.28" font-size="7.25" text-anchor="middle" textLength="38.84" lengthAdjust="spacingAndGlyphs">Epithelial-2</text></g>
<polyline points="200.82,497.20 200.82,494.20 239.62,494.20 239.62,497.20" fill="none" stroke="#000" stroke-width="1"/>
<g transform="translate(220.22,477.67) rotate(-20.00)"><text x="0.00" y="2.28" font-size="7.25" text-anchor="middle" textLength="57.57" lengthAdjust="spacingAndGlyphs">Plasma cell zone</text></g>
<defs><linearGradient id="gc" x1="0" y1="0" x2="0" y2="1"><stop offset="0.00" stop-color="#08306b"/><stop offset="0.10" stop-color="#084a91"/><stop offset="0.20" stop-color="#1764ab"/><stop offset="0.30" stop-color="#2e7ebc"/><stop offset="0.40" stop-color="#4a98c9"/><stop offset="0.50" stop-color="#6aaed6"/><stop offset="0.60" stop-color="#94c4df"/><stop offset="0.70" stop-color="#b7d4ea"/><stop offset="0.80" stop-color="#d0e1f2"/><stop offset="0.90" stop-color="#e3eef9"/><stop offset="1.00" stop-color="#f7fbff"/></linearGradient></defs>
<rect x="256.00" y="501.00" width="3.80" height="65.00" fill="url(#gc)" stroke="#555" stroke-width="0.6"/>
<line x1="259.80" y1="501.00" x2="261.80" y2="501.00" stroke="#444" stroke-width="0.6"/>
<text x="264.60" y="503.23" font-size="6.41" fill="#444" textLength="9.70" lengthAdjust="spacingAndGlyphs">1.0</text>
<line x1="259.80" y1="533.50" x2="261.80" y2="533.50" stroke="#444" stroke-width="0.6"/>
<text x="264.60" y="535.73" font-size="6.41" fill="#444" textLength="9.70" lengthAdjust="spacingAndGlyphs">0.5</text>
<line x1="259.80" y1="566.00" x2="261.80" y2="566.00" stroke="#444" stroke-width="0.6"/>
<text x="264.60" y="568.23" font-size="6.41" fill="#444" textLength="9.70" lengthAdjust="spacingAndGlyphs">0.0</text>
<text x="251.23" y="533.00" font-size="7.56" text-anchor="middle" textLength="87.78" lengthAdjust="spacingAndGlyphs" transform="rotate(-90.00 251.23 533.00)">Scaled mean expression</text>
<text x="-0.30" y="620.00" font-size="15.96" font-weight="bold">d</text>
<rect x="13.70" y="637.00" width="10.88" height="11.28" fill="#00441b"/>
<rect x="24.53" y="637.00" width="10.88" height="11.28" fill="#2a924a"/>
<rect x="35.36" y="637.00" width="10.88" height="11.28" fill="#005321"/>
<rect x="46.19" y="637.00" width="10.88" height="11.28" fill="#005e26"/>
<rect x="57.02" y="637.00" width="10.88" height="11.28" fill="#107a37"/>
<rect x="67.85" y="637.00" width="10.88" height="11.28" fill="#9fd899"/>
<rect x="78.68" y="637.00" width="10.88" height="11.28" fill="#ceecc8"/>
<rect x="89.51" y="637.00" width="10.88" height="11.28" fill="#c7e9c0"/>
<rect x="100.34" y="637.00" width="10.88" height="11.28" fill="#ceecc8"/>
<rect x="111.17" y="637.00" width="10.88" height="11.28" fill="#e9f7e5"/>
<rect x="122.00" y="637.00" width="10.88" height="11.28" fill="#c7e9c0"/>
<rect x="132.83" y="637.00" width="10.88" height="11.28" fill="#73c476"/>
<rect x="143.66" y="637.00" width="10.88" height="11.28" fill="#d3eecd"/>
<rect x="154.49" y="637.00" width="10.88" height="11.28" fill="#d3eecd"/>
<rect x="165.32" y="637.00" width="10.88" height="11.28" fill="#f0f9ed"/>
<rect x="176.15" y="637.00" width="10.88" height="11.28" fill="#f0f9ed"/>
<rect x="186.98" y="637.00" width="10.88" height="11.28" fill="#f1faee"/>
<rect x="197.81" y="637.00" width="10.88" height="11.28" fill="#f3faf0"/>
<rect x="208.64" y="637.00" width="10.88" height="11.28" fill="#f0f9ed"/>
<rect x="219.47" y="637.00" width="10.88" height="11.28" fill="#e9f7e5"/>
<rect x="230.30" y="637.00" width="10.88" height="11.28" fill="#98d594"/>
<rect x="13.70" y="648.23" width="10.88" height="11.28" fill="#86cc85"/>
<rect x="24.53" y="648.23" width="10.88" height="11.28" fill="#00441b"/>
<rect x="35.36" y="648.23" width="10.88" height="11.28" fill="#00441b"/>
<rect x="46.19" y="648.23" width="10.88" height="11.28" fill="#00441b"/>
<rect x="57.02" y="648.23" width="10.88" height="11.28" fill="#00441b"/>
<rect x="67.85" y="648.23" width="10.88" height="11.28" fill="#00441b"/>
<rect x="78.68" y="648.23" width="10.88" height="11.28" fill="#00441b"/>
<rect x="89.51" y="648.23" width="10.88" height="11.28" fill="#00441b"/>
<rect x="100.34" y="648.23" width="10.88" height="11.28" fill="#9fd899"/>
<rect x="111.17" y="648.23" width="10.88" height="11.28" fill="#e6f5e1"/>
<rect x="122.00" y="648.23" width="10.88" height="11.28" fill="#86cc85"/>
<rect x="132.83" y="648.23" width="10.88" height="11.28" fill="#339c52"/>
<rect x="143.66" y="648.23" width="10.88" height="11.28" fill="#91d28e"/>
<rect x="154.49" y="648.23" width="10.88" height="11.28" fill="#f1faee"/>
<rect x="165.32" y="648.23" width="10.88" height="11.28" fill="#ecf8e8"/>
<rect x="176.15" y="648.23" width="10.88" height="11.28" fill="#f0f9ed"/>
<rect x="186.98" y="648.23" width="10.88" height="11.28" fill="#f0f9ed"/>
<rect x="197.81" y="648.23" width="10.88" height="11.28" fill="#2f974e"/>
<rect x="208.64" y="648.23" width="10.88" height="11.28" fill="#b8e3b2"/>
<rect x="219.47" y="648.23" width="10.88" height="11.28" fill="#b2e0ac"/>
<rect x="230.30" y="648.23" width="10.88" height="11.28" fill="#b8e3b2"/>
<rect x="13.70" y="659.46" width="10.88" height="11.28" fill="#43ac5e"/>
<rect x="24.53" y="659.46" width="10.88" height="11.28" fill="#dff3da"/>
<rect x="35.36" y="659.46" width="10.88" height="11.28" fill="#98d594"/>
<rect x="46.19" y="659.46" width="10.88" height="11.28" fill="#d8f0d2"/>
<rect x="57.02" y="659.46" width="10.88" height="11.28" fill="#f0f9ed"/>
<rect x="67.85" y="659.46" width="10.88" height="11.28" fill="#c7e9c0"/>
<rect x="78.68" y="659.46" width="10.88" height="11.28" fill="#c7e9c0"/>
<rect x="89.51" y="659.46" width="10.88" height="11.28" fill="#ecf8e8"/>
<rect x="100.34" y="659.46" width="10.88" height="11.28" fill="#00441b"/>
<rect x="111.17" y="659.46" width="10.88" height="11.28" fill="#00441b"/>
<rect x="122.00" y="659.46" width="10.88" height="11.28" fill="#00441b"/>
<rect x="132.83" y="659.46" width="10.88" height="11.28" fill="#00441b"/>
<rect x="143.66" y="659.46" width="10.88" height="11.28" fill="#d3eecd"/>
<rect x="154.49" y="659.46" width="10.88" height="11.28" fill="#86cc85"/>
<rect x="165.32" y="659.46" width="10.88" height="11.28" fill="#f0f9ed"/>
<rect x="176.15" y="659.46" width="10.88" height="11.28" fill="#eff9eb"/>
<rect x="186.98" y="659.46" width="10.88" height="11.28" fill="#edf8ea"/>
<rect x="197.81" y="659.46" width="10.88" height="11.28" fill="#e9f7e5"/>
<rect x="208.64" y="659.46" width="10.88" height="11.28" fill="#a9dca3"/>
<rect x="219.47" y="659.46" width="10.88" height="11.28" fill="#4bb062"/>
<rect x="230.30" y="659.46" width="10.88" height="11.28" fill="#00441b"/>
<rect x="13.70" y="670.69" width="10.88" height="11.28" fill="#b8e3b2"/>
<rect x="24.53" y="670.69" width="10.88" height="11.28" fill="#43ac5e"/>
<rect x="35.36" y="670.69" width="10.88" height="11.28" fill="#339c52"/>
<rect x="46.19" y="670.69" width="10.88" height="11.28" fill="#98d594"/>
<rect x="57.02" y="670.69" width="10.88" height="11.28" fill="#86cc85"/>
<rect x="67.85" y="670.69" width="10.88" height="11.28" fill="#f0f9ed"/>
<rect x="78.68" y="670.69" width="10.88" height="11.28" fill="#9fd899"/>
<rect x="89.51" y="670.69" width="10.88" height="11.28" fill="#f0f9ed"/>
<rect x="100.34" y="670.69" width="10.88" height="11.28" fill="#f0f9ed"/>
<rect x="111.17" y="670.69" width="10.88" height="11.28" fill="#f1faee"/>
<rect x="122.00" y="670.69" width="10.88" height="11.28" fill="#eff9eb"/>
<rect x="132.83" y="670.69" width="10.88" height="11.28" fill="#ecf8e8"/>
<rect x="143.66" y="670.69" width="10.88" height="11.28" fill="#00441b"/>
<rect x="154.49" y="670.69" width="10.88" height="11.28" fill="#00441b"/>
<rect x="165.32" y="670.69" width="10.88" height="11.28" fill="#00441b"/>
<rect x="176.15" y="670.69" width="10.88" height="11.28" fill="#86cc85"/>
<rect x="186.98" y="670.69" width="10.88" height="11.28" fill="#86cc85"/>
<rect x="197.81" y="670.69" width="10.88" height="11.28" fill="#86cc85"/>
<rect x="208.64" y="670.69" width="10.88" height="11.28" fill="#60ba6c"/>
<rect x="219.47" y="670.69" width="10.88" height="11.28" fill="#f3faf0"/>
<rect x="230.30" y="670.69" width="10.88" height="11.28" fill="#a9dca3"/>
<rect x="13.70" y="681.92" width="10.88" height="11.28" fill="#f1faee"/>
<rect x="24.53" y="681.92" width="10.88" height="11.28" fill="#dff3da"/>
<rect x="35.36" y="681.92" width="10.88" height="11.28" fill="#7cc87c"/>
<rect x="46.19" y="681.92" width="10.88" height="11.28" fill="#ecf8e8"/>
<rect x="57.02" y="681.92" width="10.88" height="11.28" fill="#e9f7e5"/>
<rect x="67.85" y="681.92" width="10.88" height="11.28" fill="#f1faee"/>
<rect x="78.68" y="681.92" width="10.88" height="11.28" fill="#86cc85"/>
<rect x="89.51" y="681.92" width="10.88" height="11.28" fill="#f1faee"/>
<rect x="100.34" y="681.92" width="10.88" height="11.28" fill="#f1faee"/>
<rect x="111.17" y="681.92" width="10.88" height="11.28" fill="#f3faf0"/>
<rect x="122.00" y="681.92" width="10.88" height="11.28" fill="#f1faee"/>
<rect x="132.83" y="681.92" width="10.88" height="11.28" fill="#f1faee"/>
<rect x="143.66" y="681.92" width="10.88" height="11.28" fill="#98d594"/>
<rect x="154.49" y="681.92" width="10.88" height="11.28" fill="#107a37"/>
<rect x="165.32" y="681.92" width="10.88" height="11.28" fill="#077331"/>
<rect x="176.15" y="681.92" width="10.88" height="11.28" fill="#00441b"/>
<rect x="186.98" y="681.92" width="10.88" height="11.28" fill="#00441b"/>
<rect x="197.81" y="681.92" width="10.88" height="11.28" fill="#00441b"/>
<rect x="208.64" y="681.92" width="10.88" height="11.28" fill="#157f3b"/>
<rect x="219.47" y="681.92" width="10.88" height="11.28" fill="#f3faf0"/>
<rect x="230.30" y="681.92" width="10.88" height="11.28" fill="#f3faf0"/>
<rect x="13.70" y="693.15" width="10.88" height="11.28" fill="#ecf8e8"/>
<rect x="24.53" y="693.15" width="10.88" height="11.28" fill="#f3faf0"/>
<rect x="35.36" y="693.15" width="10.88" height="11.28" fill="#f1faee"/>
<rect x="46.19" y="693.15" width="10.88" height="11.28" fill="#f1faee"/>
<rect x="57.02" y="693.15" width="10.88" height="11.28" fill="#e4f5df"/>
<rect x="67.85" y="693.15" width="10.88" height="11.28" fill="#ecf8e8"/>
<rect x="78.68" y="693.15" width="10.88" height="11.28" fill="#f3faf0"/>
<rect x="89.51" y="693.15" width="10.88" height="11.28" fill="#d3eecd"/>
<rect x="100.34" y="693.15" width="10.88" height="11.28" fill="#c7e9c0"/>
<rect x="111.17" y="693.15" width="10.88" height="11.28" fill="#86cc85"/>
<rect x="122.00" y="693.15" width="10.88" height="11.28" fill="#f3faf0"/>
<rect x="132.83" y="693.15" width="10.88" height="11.28" fill="#f0f9ed"/>
<rect x="143.66" y="693.15" width="10.88" height="11.28" fill="#f3faf0"/>
<rect x="154.49" y="693.15" width="10.88" height="11.28" fill="#1a843f"/>
<rect x="165.32" y="693.15" width="10.88" height="11.28" fill="#dff3da"/>
<rect x="176.15" y="693.15" width="10.88" height="11.28" fill="#f0f9ed"/>
<rect x="186.98" y="693.15" width="10.88" height="11.28" fill="#f0f9ed"/>
<rect x="197.81" y="693.15" width="10.88" height="11.28" fill="#dff3da"/>
<rect x="208.64" y="693.15" width="10.88" height="11.28" fill="#00441b"/>
<rect x="219.47" y="693.15" width="10.88" height="11.28" fill="#00441b"/>
<rect x="230.30" y="693.15" width="10.88" height="11.28" fill="#00441b"/>
<line x1="24.53" y1="637.00" x2="24.53" y2="704.38" stroke="#000" stroke-width="0.25" stroke-opacity="0.12"/>
<line x1="35.36" y1="637.00" x2="35.36" y2="704.38" stroke="#000" stroke-width="0.25" stroke-opacity="0.12"/>
<line x1="46.19" y1="637.00" x2="46.19" y2="704.38" stroke="#000" stroke-width="0.25" stroke-opacity="0.12"/>
<line x1="57.02" y1="637.00" x2="57.02" y2="704.38" stroke="#000" stroke-width="0.25" stroke-opacity="0.12"/>
<line x1="67.85" y1="637.00" x2="67.85" y2="704.38" stroke="#000" stroke-width="0.25" stroke-opacity="0.12"/>
<line x1="78.68" y1="637.00" x2="78.68" y2="704.38" stroke="#000" stroke-width="0.25" stroke-opacity="0.12"/>
<line x1="89.51" y1="637.00" x2="89.51" y2="704.38" stroke="#000" stroke-width="0.25" stroke-opacity="0.12"/>
<line x1="100.34" y1="637.00" x2="100.34" y2="704.38" stroke="#000" stroke-width="0.25" stroke-opacity="0.12"/>
<line x1="111.17" y1="637.00" x2="111.17" y2="704.38" stroke="#000" stroke-width="0.25" stroke-opacity="0.12"/>
<line x1="122.00" y1="637.00" x2="122.00" y2="704.38" stroke="#000" stroke-width="0.25" stroke-opacity="0.12"/>
<line x1="132.83" y1="637.00" x2="132.83" y2="704.38" stroke="#000" stroke-width="0.25" stroke-opacity="0.12"/>
<line x1="143.66" y1="637.00" x2="143.66" y2="704.38" stroke="#000" stroke-width="0.25" stroke-opacity="0.12"/>
<line x1="154.49" y1="637.00" x2="154.49" y2="704.38" stroke="#000" stroke-width="0.25" stroke-opacity="0.12"/>
<line x1="165.32" y1="637.00" x2="165.32" y2="704.38" stroke="#000" stroke-width="0.25" stroke-opacity="0.12"/>
<line x1="176.15" y1="637.00" x2="176.15" y2="704.38" stroke="#000" stroke-width="0.25" stroke-opacity="0.12"/>
<line x1="186.98" y1="637.00" x2="186.98" y2="704.38" stroke="#000" stroke-width="0.25" stroke-opacity="0.12"/>
<line x1="197.81" y1="637.00" x2="197.81" y2="704.38" stroke="#000" stroke-width="0.25" stroke-opacity="0.12"/>
<line x1="208.64" y1="637.00" x2="208.64" y2="704.38" stroke="#000" stroke-width="0.25" stroke-opacity="0.12"/>
<line x1="219.47" y1="637.00" x2="219.47" y2="704.38" stroke="#000" stroke-width="0.25" stroke-opacity="0.12"/>
<line x1="230.30" y1="637.00" x2="230.30" y2="704.38" stroke="#000" stroke-width="0.25" stroke-opacity="0.12"/>
<line x1="13.70" y1="648.23" x2="241.13" y2="648.23" stroke="#000" stroke-width="0.25" stroke-opacity="0.12"/>
<line x1="13.70" y1="659.46" x2="241.13" y2="659.46" stroke="#000" stroke-width="0.25" stroke-opacity="0.12"/>
<line x1="13.70" y1="670.69" x2="241.13" y2="670.69" stroke="#000" stroke-width="0.25" stroke-opacity="0.12"/>
<line x1="13.70" y1="681.92" x2="241.13" y2="681.92" stroke="#000" stroke-width="0.25" stroke-opacity="0.12"/>
<line x1="13.70" y1="693.15" x2="241.13" y2="693.15" stroke="#000" stroke-width="0.25" stroke-opacity="0.12"/>
<rect x="13.70" y="637.00" width="227.43" height="67.38" fill="none" stroke="#000" stroke-width="1.1"/>
<line x1="11.50" y1="642.62" x2="13.70" y2="642.62" stroke="#000" stroke-width="0.7"/>
<text x="6.70" y="645.42" font-size="6.93" text-anchor="middle">1</text>
<line x1="11.50" y1="653.85" x2="13.70" y2="653.85" stroke="#000" stroke-width="0.7"/>
<text x="6.70" y="656.65" font-size="6.93" text-anchor="middle">2</text>
<line x1="11.50" y1="665.08" x2="13.70" y2="665.08" stroke="#000" stroke-width="0.7"/>
<text x="6.70" y="667.88" font-size="6.93" text-anchor="middle">3</text>
<line x1="11.50" y1="676.30" x2="13.70" y2="676.30" stroke="#000" stroke-width="0.7"/>
<text x="6.70" y="679.11" font-size="6.93" text-anchor="middle">4</text>
<line x1="11.50" y1="687.53" x2="13.70" y2="687.53" stroke="#000" stroke-width="0.7"/>
<text x="6.70" y="690.34" font-size="6.93" text-anchor="middle">5</text>
<line x1="11.50" y1="698.76" x2="13.70" y2="698.76" stroke="#000" stroke-width="0.7"/>
<text x="6.70" y="701.57" font-size="6.93" text-anchor="middle">6</text>
<line x1="19.11" y1="704.38" x2="19.11" y2="706.58" stroke="#000" stroke-width="0.7"/>
<text x="21.24" y="710.00" font-size="6.20" text-anchor="end" textLength="15.10" lengthAdjust="spacingAndGlyphs" transform="rotate(-90.00 21.24 710.00)">BCL2</text>
<line x1="29.95" y1="704.38" x2="29.95" y2="706.58" stroke="#000" stroke-width="0.7"/>
<text x="32.07" y="710.00" font-size="6.20" text-anchor="end" textLength="16.17" lengthAdjust="spacingAndGlyphs" transform="rotate(-90.00 32.07 710.00)">CD19</text>
<line x1="40.77" y1="704.38" x2="40.77" y2="706.58" stroke="#000" stroke-width="0.7"/>
<text x="42.90" y="710.00" font-size="6.20" text-anchor="end" textLength="26.33" lengthAdjust="spacingAndGlyphs" transform="rotate(-90.00 42.90 710.00)">HLA-DRA</text>
<line x1="51.61" y1="704.38" x2="51.61" y2="706.58" stroke="#000" stroke-width="0.7"/>
<text x="53.73" y="710.00" font-size="6.20" text-anchor="end" textLength="15.01" lengthAdjust="spacingAndGlyphs" transform="rotate(-90.00 53.73 710.00)">PAX5</text>
<line x1="62.44" y1="704.38" x2="62.44" y2="706.58" stroke="#000" stroke-width="0.7"/>
<text x="64.56" y="710.00" font-size="6.20" text-anchor="end" textLength="16.17" lengthAdjust="spacingAndGlyphs" transform="rotate(-90.00 64.56 710.00)">CD40</text>
<line x1="73.27" y1="704.38" x2="73.27" y2="706.58" stroke="#000" stroke-width="0.7"/>
<text x="75.39" y="710.00" font-size="6.20" text-anchor="end" textLength="20.52" lengthAdjust="spacingAndGlyphs" transform="rotate(-90.00 75.39 710.00)">PDCD1</text>
<line x1="84.09" y1="704.38" x2="84.09" y2="706.58" stroke="#000" stroke-width="0.7"/>
<text x="86.22" y="710.00" font-size="6.20" text-anchor="end" textLength="16.13" lengthAdjust="spacingAndGlyphs" transform="rotate(-90.00 86.22 710.00)">PCNA</text>
<line x1="94.92" y1="704.38" x2="94.92" y2="706.58" stroke="#000" stroke-width="0.7"/>
<text x="97.05" y="710.00" font-size="6.20" text-anchor="end" textLength="11.97" lengthAdjust="spacingAndGlyphs" transform="rotate(-90.00 97.05 710.00)">CR2</text>
<line x1="105.76" y1="704.38" x2="105.76" y2="706.58" stroke="#000" stroke-width="0.7"/>
<text x="107.88" y="710.00" font-size="6.20" text-anchor="end" textLength="16.14" lengthAdjust="spacingAndGlyphs" transform="rotate(-90.00 107.88 710.00)">CD3E</text>
<line x1="116.59" y1="704.38" x2="116.59" y2="706.58" stroke="#000" stroke-width="0.7"/>
<text x="118.71" y="710.00" font-size="6.20" text-anchor="end" textLength="16.45" lengthAdjust="spacingAndGlyphs" transform="rotate(-90.00 118.71 710.00)">CD8A</text>
<line x1="127.42" y1="704.38" x2="127.42" y2="706.58" stroke="#000" stroke-width="0.7"/>
<text x="129.54" y="710.00" font-size="6.20" text-anchor="end" textLength="12.42" lengthAdjust="spacingAndGlyphs" transform="rotate(-90.00 129.54 710.00)">CD4</text>
<line x1="138.25" y1="704.38" x2="138.25" y2="706.58" stroke="#000" stroke-width="0.7"/>
<text x="140.37" y="710.00" font-size="6.20" text-anchor="end" textLength="24.53" lengthAdjust="spacingAndGlyphs" transform="rotate(-90.00 140.37 710.00)">PTPRC-1</text>
<line x1="149.07" y1="704.38" x2="149.07" y2="706.58" stroke="#000" stroke-width="0.7"/>
<text x="151.20" y="710.00" font-size="6.20" text-anchor="end" textLength="19.92" lengthAdjust="spacingAndGlyphs" transform="rotate(-90.00 151.20 710.00)">CD274</text>
<line x1="159.91" y1="704.38" x2="159.91" y2="706.58" stroke="#000" stroke-width="0.7"/>
<text x="162.03" y="710.00" font-size="6.20" text-anchor="end" textLength="24.29" lengthAdjust="spacingAndGlyphs" transform="rotate(-90.00 162.03 710.00)">PECAM1</text>
<line x1="170.73" y1="704.38" x2="170.73" y2="706.58" stroke="#000" stroke-width="0.7"/>
<text x="172.86" y="710.00" font-size="6.20" text-anchor="end" textLength="28.78" lengthAdjust="spacingAndGlyphs" transform="rotate(-90.00 172.86 710.00)">CEACAM8</text>
<line x1="181.56" y1="704.38" x2="181.56" y2="706.58" stroke="#000" stroke-width="0.7"/>
<text x="183.69" y="710.00" font-size="6.20" text-anchor="end" textLength="20.53" lengthAdjust="spacingAndGlyphs" transform="rotate(-90.00 183.69 710.00)">EPCAM</text>
<line x1="192.39" y1="704.38" x2="192.39" y2="706.58" stroke="#000" stroke-width="0.7"/>
<text x="194.52" y="710.00" font-size="6.20" text-anchor="end" textLength="23.98" lengthAdjust="spacingAndGlyphs" transform="rotate(-90.00 194.52 710.00)">FCGR3A</text>
<line x1="203.22" y1="704.38" x2="203.22" y2="706.58" stroke="#000" stroke-width="0.7"/>
<text x="205.35" y="710.00" font-size="6.20" text-anchor="end" textLength="16.16" lengthAdjust="spacingAndGlyphs" transform="rotate(-90.00 205.35 710.00)">SDC1</text>
<line x1="214.05" y1="704.38" x2="214.05" y2="706.58" stroke="#000" stroke-width="0.7"/>
<text x="216.18" y="710.00" font-size="6.20" text-anchor="end" textLength="16.17" lengthAdjust="spacingAndGlyphs" transform="rotate(-90.00 216.18 710.00)">CD14</text>
<line x1="224.88" y1="704.38" x2="224.88" y2="706.58" stroke="#000" stroke-width="0.7"/>
<text x="227.01" y="710.00" font-size="6.20" text-anchor="end" textLength="18.99" lengthAdjust="spacingAndGlyphs" transform="rotate(-90.00 227.01 710.00)">ACTA2</text>
<line x1="235.72" y1="704.38" x2="235.72" y2="706.58" stroke="#000" stroke-width="0.7"/>
<text x="237.84" y="710.00" font-size="6.20" text-anchor="end" textLength="10.87" lengthAdjust="spacingAndGlyphs" transform="rotate(-90.00 237.84 710.00)">VIM</text>
<polyline points="15.87,637.00 15.87,633.80 54.85,633.80 54.85,637.00" fill="none" stroke="#000" stroke-width="1"/>
<g transform="translate(35.36,623.08) rotate(-20.00)"><text x="0.00" y="2.28" font-size="7.25" text-anchor="middle" textLength="23.65" lengthAdjust="spacingAndGlyphs">Follicle</text></g>
<polyline points="59.19,637.00 59.19,633.80 98.17,633.80 98.17,637.00" fill="none" stroke="#000" stroke-width="1"/>
<g transform="translate(78.68,617.57) rotate(-20.00)"><text x="0.00" y="2.28" font-size="7.25" text-anchor="middle" textLength="55.86" lengthAdjust="spacingAndGlyphs">Germinal center</text></g>
<polyline points="102.51,637.00 102.51,633.80 141.49,633.80 141.49,637.00" fill="none" stroke="#000" stroke-width="1"/>
<g transform="translate(122.00,620.80) rotate(-20.00)"><text x="0.00" y="2.28" font-size="7.25" text-anchor="middle" textLength="36.94" lengthAdjust="spacingAndGlyphs">T cell zone</text></g>
<polyline points="145.83,637.00 145.83,633.80 173.98,633.80 173.98,637.00" fill="none" stroke="#000" stroke-width="1"/>
<g transform="translate(159.91,620.48) rotate(-20.00)"><text x="0.00" y="2.28" font-size="7.25" text-anchor="middle" textLength="38.84" lengthAdjust="spacingAndGlyphs">Epithelial-1</text></g>
<polyline points="178.32,637.00 178.32,633.80 206.47,633.80 206.47,637.00" fill="none" stroke="#000" stroke-width="1"/>
<g transform="translate(192.39,620.48) rotate(-20.00)"><text x="0.00" y="2.28" font-size="7.25" text-anchor="middle" textLength="38.84" lengthAdjust="spacingAndGlyphs">Epithelial-2</text></g>
<polyline points="210.81,637.00 210.81,633.80 238.96,633.80 238.96,637.00" fill="none" stroke="#000" stroke-width="1"/>
<g transform="translate(224.88,617.27) rotate(-20.00)"><text x="0.00" y="2.28" font-size="7.25" text-anchor="middle" textLength="57.57" lengthAdjust="spacingAndGlyphs">Plasma cell zone</text></g>
<defs><linearGradient id="gd" x1="0" y1="0" x2="0" y2="1"><stop offset="0.00" stop-color="#00441b"/><stop offset="0.10" stop-color="#006428"/><stop offset="0.20" stop-color="#157f3b"/><stop offset="0.30" stop-color="#2f974e"/><stop offset="0.40" stop-color="#4bb062"/><stop offset="0.50" stop-color="#73c476"/><stop offset="0.60" stop-color="#98d594"/><stop offset="0.70" stop-color="#b8e3b2"/><stop offset="0.80" stop-color="#d3eecd"/><stop offset="0.90" stop-color="#e9f7e5"/><stop offset="1.00" stop-color="#f7fcf5"/></linearGradient></defs>
<rect x="256.20" y="641.00" width="3.80" height="65.70" fill="url(#gd)" stroke="#555" stroke-width="0.6"/>
<line x1="260.00" y1="641.00" x2="262.00" y2="641.00" stroke="#444" stroke-width="0.6"/>
<text x="264.80" y="643.23" font-size="6.41" fill="#444" textLength="9.70" lengthAdjust="spacingAndGlyphs">1.0</text>
<line x1="260.00" y1="673.85" x2="262.00" y2="673.85" stroke="#444" stroke-width="0.6"/>
<text x="264.80" y="676.08" font-size="6.41" fill="#444" textLength="9.70" lengthAdjust="spacingAndGlyphs">0.5</text>
<line x1="260.00" y1="706.70" x2="262.00" y2="706.70" stroke="#444" stroke-width="0.6"/>
<text x="264.80" y="708.93" font-size="6.41" fill="#444" textLength="9.70" lengthAdjust="spacingAndGlyphs">0.0</text>
<text x="251.43" y="673.30" font-size="7.56" text-anchor="middle" textLength="87.78" lengthAdjust="spacingAndGlyphs" transform="rotate(-90.00 251.43 673.30)">Scaled mean expression</text>
<text x="280.50" y="487.00" font-size="15.96" font-weight="bold">e</text>
<rect x="321.40" y="577.21" width="15.40" height="7.59" fill="#d62728"/>
<rect x="321.40" y="567.14" width="15.40" height="10.07" fill="#8c564b"/>
<rect x="321.40" y="555.40" width="15.40" height="11.74" fill="#9467bd"/>
<rect x="321.40" y="538.80" width="15.40" height="16.60" fill="#1f77b4"/>
<rect x="321.40" y="520.96" width="15.40" height="17.84" fill="#ff7f0e"/>
<rect x="321.40" y="496.50" width="15.40" height="24.46" fill="#2ca02c"/>
<line x1="321.40" y1="577.21" x2="336.80" y2="577.21" stroke="#000" stroke-width="0.5" stroke-opacity="0.35"/>
<line x1="321.40" y1="567.14" x2="336.80" y2="567.14" stroke="#000" stroke-width="0.5" stroke-opacity="0.35"/>
<line x1="321.40" y1="555.40" x2="336.80" y2="555.40" stroke="#000" stroke-width="0.5" stroke-opacity="0.35"/>
<line x1="321.40" y1="538.80" x2="336.80" y2="538.80" stroke="#000" stroke-width="0.5" stroke-opacity="0.35"/>
<line x1="321.40" y1="520.96" x2="336.80" y2="520.96" stroke="#000" stroke-width="0.5" stroke-opacity="0.35"/>
<line x1="329.10" y1="584.80" x2="329.10" y2="587.40" stroke="#222" stroke-width="0.8"/>
<rect x="352.80" y="577.21" width="15.40" height="7.59" fill="#d62728"/>
<rect x="352.80" y="568.46" width="15.40" height="8.74" fill="#8c564b"/>
<rect x="352.80" y="556.19" width="15.40" height="12.27" fill="#9467bd"/>
<rect x="352.80" y="538.27" width="15.40" height="17.92" fill="#1f77b4"/>
<rect x="352.80" y="520.96" width="15.40" height="17.31" fill="#ff7f0e"/>
<rect x="352.80" y="496.50" width="15.40" height="24.46" fill="#2ca02c"/>
<line x1="352.80" y1="577.21" x2="368.20" y2="577.21" stroke="#000" stroke-width="0.5" stroke-opacity="0.35"/>
<line x1="352.80" y1="568.46" x2="368.20" y2="568.46" stroke="#000" stroke-width="0.5" stroke-opacity="0.35"/>
<line x1="352.80" y1="556.19" x2="368.20" y2="556.19" stroke="#000" stroke-width="0.5" stroke-opacity="0.35"/>
<line x1="352.80" y1="538.27" x2="368.20" y2="538.27" stroke="#000" stroke-width="0.5" stroke-opacity="0.35"/>
<line x1="352.80" y1="520.96" x2="368.20" y2="520.96" stroke="#000" stroke-width="0.5" stroke-opacity="0.35"/>
<line x1="360.50" y1="584.80" x2="360.50" y2="587.40" stroke="#222" stroke-width="0.8"/>
<rect x="384.10" y="577.21" width="15.40" height="7.59" fill="#d62728"/>
<rect x="384.10" y="567.14" width="15.40" height="10.07" fill="#8c564b"/>
<rect x="384.10" y="558.49" width="15.40" height="8.65" fill="#9467bd"/>
<rect x="384.10" y="537.21" width="15.40" height="21.28" fill="#1f77b4"/>
<rect x="384.10" y="520.43" width="15.40" height="16.78" fill="#ff7f0e"/>
<rect x="384.10" y="496.50" width="15.40" height="23.93" fill="#2ca02c"/>
<line x1="384.10" y1="577.21" x2="399.50" y2="577.21" stroke="#000" stroke-width="0.5" stroke-opacity="0.35"/>
<line x1="384.10" y1="567.14" x2="399.50" y2="567.14" stroke="#000" stroke-width="0.5" stroke-opacity="0.35"/>
<line x1="384.10" y1="558.49" x2="399.50" y2="558.49" stroke="#000" stroke-width="0.5" stroke-opacity="0.35"/>
<line x1="384.10" y1="537.21" x2="399.50" y2="537.21" stroke="#000" stroke-width="0.5" stroke-opacity="0.35"/>
<line x1="384.10" y1="520.43" x2="399.50" y2="520.43" stroke="#000" stroke-width="0.5" stroke-opacity="0.35"/>
<line x1="391.80" y1="584.80" x2="391.80" y2="587.40" stroke="#222" stroke-width="0.8"/>
<line x1="313.70" y1="492.30" x2="313.70" y2="585.10" stroke="#222" stroke-width="0.9"/>
<line x1="313.30" y1="585.10" x2="406.90" y2="585.10" stroke="#888" stroke-width="1.0"/>
<line x1="311.10" y1="584.80" x2="313.70" y2="584.80" stroke="#222" stroke-width="0.8"/>
<text x="308.60" y="587.62" font-size="6.95" text-anchor="end" textLength="10.53" lengthAdjust="spacingAndGlyphs">0.0</text>
<line x1="311.10" y1="567.14" x2="313.70" y2="567.14" stroke="#222" stroke-width="0.8"/>
<text x="308.60" y="569.96" font-size="6.95" text-anchor="end" textLength="10.53" lengthAdjust="spacingAndGlyphs">0.2</text>
<line x1="311.10" y1="549.48" x2="313.70" y2="549.48" stroke="#222" stroke-width="0.8"/>
<text x="308.60" y="552.30" font-size="6.95" text-anchor="end" textLength="10.53" lengthAdjust="spacingAndGlyphs">0.4</text>
<line x1="311.10" y1="531.82" x2="313.70" y2="531.82" stroke="#222" stroke-width="0.8"/>
<text x="308.60" y="534.64" font-size="6.95" text-anchor="end" textLength="10.53" lengthAdjust="spacingAndGlyphs">0.6</text>
<line x1="311.10" y1="514.16" x2="313.70" y2="514.16" stroke="#222" stroke-width="0.8"/>
<text x="308.60" y="516.98" font-size="6.95" text-anchor="end" textLength="10.53" lengthAdjust="spacingAndGlyphs">0.8</text>
<line x1="311.10" y1="496.50" x2="313.70" y2="496.50" stroke="#222" stroke-width="0.8"/>
<text x="308.60" y="499.32" font-size="6.95" text-anchor="end" textLength="10.53" lengthAdjust="spacingAndGlyphs">1.0</text>
<text x="329.10" y="595.71" font-size="6.93" text-anchor="middle" textLength="18.99" lengthAdjust="spacingAndGlyphs">slice1</text>
<text x="360.50" y="595.71" font-size="6.93" text-anchor="middle" textLength="18.99" lengthAdjust="spacingAndGlyphs">slice2</text>
<text x="391.80" y="595.71" font-size="6.93" text-anchor="middle" textLength="18.99" lengthAdjust="spacingAndGlyphs">slice3</text>
<text x="292.53" y="537.60" font-size="8.72" text-anchor="middle" textLength="95.84" lengthAdjust="spacingAndGlyphs" transform="rotate(-90.00 292.53 537.60)">Proportions of domains</text>
<rect x="414.00" y="508.45" width="14.90" height="5.30" fill="#d62728" stroke="#000" stroke-opacity="0.25" stroke-width="0.4"/>
<text x="430.90" y="513.82" font-size="7.83" textLength="60.39" lengthAdjust="spacingAndGlyphs">Germinal center</text>
<rect x="414.00" y="518.05" width="14.90" height="5.30" fill="#8c564b" stroke="#000" stroke-opacity="0.25" stroke-width="0.4"/>
<text x="430.90" y="523.42" font-size="7.83" textLength="41.99" lengthAdjust="spacingAndGlyphs">Epithelial-2</text>
<rect x="414.00" y="527.65" width="14.90" height="5.30" fill="#9467bd" stroke="#000" stroke-opacity="0.25" stroke-width="0.4"/>
<text x="430.90" y="533.02" font-size="7.83" textLength="62.25" lengthAdjust="spacingAndGlyphs">Plasma cell zone</text>
<rect x="414.00" y="537.25" width="14.90" height="5.30" fill="#1f77b4" stroke="#000" stroke-opacity="0.25" stroke-width="0.4"/>
<text x="430.90" y="542.62" font-size="7.83" textLength="41.99" lengthAdjust="spacingAndGlyphs">Epithelial-1</text>
<rect x="414.00" y="546.85" width="14.90" height="5.30" fill="#ff7f0e" stroke="#000" stroke-opacity="0.25" stroke-width="0.4"/>
<text x="430.90" y="552.22" font-size="7.83" textLength="25.57" lengthAdjust="spacingAndGlyphs">Follicle</text>
<rect x="414.00" y="556.45" width="14.90" height="5.30" fill="#2ca02c" stroke="#000" stroke-opacity="0.25" stroke-width="0.4"/>
<text x="430.90" y="561.82" font-size="7.83" textLength="39.93" lengthAdjust="spacingAndGlyphs">T cell zone</text>
<text x="505.20" y="488.00" font-size="15.96" font-weight="bold">f</text>
<path d="M547.30,492.90 C547.03,493.30 546.17,494.51 545.70,495.32 C545.23,496.13 544.80,496.85 544.50,497.74 C544.20,498.63 543.97,499.68 543.90,500.64 C543.83,501.61 543.93,502.42 544.10,503.55 C544.27,504.68 544.68,505.97 544.90,507.42 C545.12,508.87 545.27,510.65 545.40,512.26 C545.53,513.87 545.58,515.49 545.70,517.10 C545.82,518.71 545.97,520.33 546.10,521.94 C546.23,523.55 546.39,525.17 546.50,526.78 C546.61,528.39 546.68,530.01 546.75,531.62 C546.82,533.23 546.86,534.85 546.90,536.46 C546.94,538.07 546.96,538.07 547.00,541.30 C547.04,544.53 547.10,551.38 547.15,555.82 C547.20,560.26 547.27,565.90 547.30,567.92 L547.30,567.92 L547.30,492.90 Z" fill="#3274a1"/>
<path d="M547.30,492.90 C547.60,493.30 548.68,494.51 549.10,495.32 C549.52,496.13 549.83,496.69 549.80,497.74 C549.77,498.79 549.18,500.16 548.90,501.61 C548.62,503.06 548.31,504.27 548.10,506.45 C547.89,508.63 547.76,511.70 547.65,514.68 C547.54,517.66 547.50,520.73 547.45,524.36 C547.40,527.99 547.37,532.83 547.35,536.46 C547.32,540.09 547.31,544.53 547.30,546.14 L547.30,546.14 L547.30,492.90 Z" fill="#e1812c"/>
<line x1="547.30" y1="492.90" x2="547.30" y2="567.92" stroke="#777" stroke-width="0.45"/>
<line x1="547.30" y1="578.70" x2="547.30" y2="581.30" stroke="#222" stroke-width="0.8"/>
<path d="M570.60,495.32 C570.43,496.13 570.10,498.63 569.60,500.16 C569.10,501.69 568.37,503.14 567.60,504.52 C566.83,505.89 565.27,507.10 565.00,508.39 C564.73,509.68 565.50,510.81 566.00,512.26 C566.50,513.71 567.45,515.49 568.00,517.10 C568.55,518.71 568.98,520.33 569.30,521.94 C569.62,523.55 569.76,524.76 569.90,526.78 C570.04,528.80 570.08,531.62 570.15,534.04 C570.22,536.46 570.25,537.67 570.30,541.30 C570.35,544.93 570.40,550.17 570.45,555.82 C570.50,561.47 570.58,571.95 570.60,575.18 L570.60,575.18 L570.60,495.32 Z" fill="#3274a1"/>
<path d="M570.60,496.29 C570.82,496.85 571.65,498.30 571.90,499.68 C572.15,501.05 572.12,502.58 572.10,504.52 C572.08,506.45 571.92,508.95 571.80,511.29 C571.68,513.63 571.55,516.13 571.40,518.55 C571.25,520.97 571.02,522.83 570.90,525.81 C570.78,528.80 570.75,532.27 570.70,536.46 C570.65,540.65 570.62,548.56 570.60,550.98 L570.60,550.98 L570.60,496.29 Z" fill="#e1812c"/>
<line x1="570.60" y1="495.32" x2="570.60" y2="575.18" stroke="#777" stroke-width="0.45"/>
<line x1="570.60" y1="578.70" x2="570.60" y2="581.30" stroke="#222" stroke-width="0.8"/>
<path d="M593.80,498.71 C593.13,499.35 591.07,501.37 589.80,502.58 C588.53,503.79 586.57,504.84 586.20,505.97 C585.83,507.10 586.90,508.07 587.60,509.36 C588.30,510.65 589.63,512.18 590.40,513.71 C591.17,515.24 591.75,516.62 592.20,518.55 C592.65,520.49 592.88,523.15 593.10,525.33 C593.32,527.51 593.38,529.52 593.50,531.62 C593.62,533.72 593.75,536.86 593.80,537.91 L593.80,537.91 L593.80,498.71 Z" fill="#3274a1"/>
<path d="M593.80,497.74 C594.30,498.14 595.42,499.27 596.80,500.16 C598.18,501.05 601.85,502.18 602.10,503.06 C602.35,503.95 599.47,504.44 598.30,505.48 C597.13,506.53 595.78,507.98 595.10,509.36 C594.42,510.73 594.40,511.61 594.20,513.71 C594.00,515.81 593.97,519.36 593.90,521.94 C593.83,524.52 593.82,527.99 593.80,529.20 L593.80,529.20 L593.80,497.74 Z" fill="#e1812c"/>
<line x1="593.80" y1="497.74" x2="593.80" y2="537.91" stroke="#777" stroke-width="0.45"/>
<line x1="593.80" y1="578.70" x2="593.80" y2="581.30" stroke="#222" stroke-width="0.8"/>
<path d="M617.00,498.71 C616.40,499.35 614.65,501.45 613.40,502.58 C612.15,503.71 609.77,504.35 609.50,505.48 C609.23,506.61 610.98,507.90 611.80,509.36 C612.62,510.81 613.70,512.58 614.40,514.20 C615.10,515.81 615.62,517.34 616.00,519.04 C616.38,520.73 616.48,522.67 616.65,524.36 C616.82,526.05 616.94,528.39 617.00,529.20 L617.00,529.20 L617.00,498.71 Z" fill="#3274a1"/>
<path d="M617.00,495.32 C617.33,495.72 618.22,496.77 619.00,497.74 C619.78,498.71 621.60,500.00 621.70,501.13 C621.80,502.26 620.25,503.14 619.60,504.52 C618.95,505.89 618.20,507.26 617.80,509.36 C617.40,511.45 617.33,514.60 617.20,517.10 C617.07,519.60 617.03,523.15 617.00,524.36 L617.00,524.36 L617.00,495.32 Z" fill="#e1812c"/>
<line x1="617.00" y1="495.32" x2="617.00" y2="529.20" stroke="#777" stroke-width="0.45"/>
<line x1="617.00" y1="578.70" x2="617.00" y2="581.30" stroke="#222" stroke-width="0.8"/>
<path d="M640.30,499.19 C639.63,499.92 637.45,502.18 636.30,503.55 C635.15,504.92 633.60,506.05 633.40,507.42 C633.20,508.79 634.38,510.32 635.10,511.78 C635.82,513.23 637.00,514.20 637.70,516.13 C638.40,518.07 638.94,520.41 639.30,523.39 C639.66,526.38 639.71,529.44 639.85,534.04 C639.99,538.64 640.07,545.25 640.15,550.98 C640.23,556.71 640.27,565.50 640.30,568.40 L640.30,568.40 L640.30,499.19 Z" fill="#3274a1"/>
<path d="M640.30,497.74 C640.87,498.22 642.63,499.60 643.70,500.64 C644.77,501.69 646.73,502.98 646.70,504.03 C646.67,505.08 644.42,505.73 643.50,506.94 C642.58,508.15 641.71,509.19 641.20,511.29 C640.69,513.39 640.60,516.94 640.45,519.52 C640.30,522.10 640.32,525.57 640.30,526.78 L640.30,526.78 L640.30,497.74 Z" fill="#e1812c"/>
<line x1="640.30" y1="497.74" x2="640.30" y2="568.40" stroke="#777" stroke-width="0.45"/>
<line x1="640.30" y1="578.70" x2="640.30" y2="581.30" stroke="#222" stroke-width="0.8"/>
<path d="M663.50,494.35 C663.25,495.08 662.40,497.09 662.00,498.71 C661.60,500.32 661.20,501.93 661.10,504.03 C661.00,506.13 661.27,508.47 661.40,511.29 C661.53,514.12 661.72,517.75 661.90,520.97 C662.08,524.20 662.33,527.26 662.50,530.65 C662.67,534.04 662.83,537.91 662.95,541.30 C663.08,544.69 663.16,548.24 663.25,550.98 C663.34,553.72 663.46,556.63 663.50,557.76 L663.50,557.76 L663.50,494.35 Z" fill="#3274a1"/>
<path d="M663.50,492.90 C663.83,493.30 664.90,494.43 665.50,495.32 C666.10,496.21 667.08,497.01 667.10,498.22 C667.12,499.43 666.05,501.05 665.60,502.58 C665.15,504.11 664.70,505.16 664.40,507.42 C664.10,509.68 663.95,512.91 663.80,516.13 C663.65,519.36 663.55,525.01 663.50,526.78 L663.50,526.78 L663.50,492.90 Z" fill="#e1812c"/>
<line x1="663.50" y1="492.90" x2="663.50" y2="557.76" stroke="#777" stroke-width="0.45"/>
<line x1="663.50" y1="578.70" x2="663.50" y2="581.30" stroke="#222" stroke-width="0.8"/>
<line x1="535.80" y1="486.60" x2="535.80" y2="579.00" stroke="#222" stroke-width="0.9"/>
<line x1="535.40" y1="578.80" x2="674.70" y2="578.80" stroke="#222" stroke-width="0.9"/>
<line x1="533.20" y1="492.90" x2="535.80" y2="492.90" stroke="#222" stroke-width="0.8"/>
<text x="530.20" y="495.72" font-size="6.95" text-anchor="end" textLength="10.53" lengthAdjust="spacingAndGlyphs">1.0</text>
<line x1="533.20" y1="517.10" x2="535.80" y2="517.10" stroke="#222" stroke-width="0.8"/>
<text x="530.20" y="519.92" font-size="6.95" text-anchor="end" textLength="10.53" lengthAdjust="spacingAndGlyphs">0.5</text>
<line x1="533.20" y1="541.30" x2="535.80" y2="541.30" stroke="#222" stroke-width="0.8"/>
<text x="530.20" y="544.12" font-size="6.95" text-anchor="end" textLength="10.53" lengthAdjust="spacingAndGlyphs">0.0</text>
<line x1="533.20" y1="565.50" x2="535.80" y2="565.50" stroke="#222" stroke-width="0.8"/>
<text x="530.20" y="568.32" font-size="6.95" text-anchor="end" textLength="16.08" lengthAdjust="spacingAndGlyphs">−0.5</text>
<text x="508.53" y="535.70" font-size="8.72" text-anchor="middle" textLength="20.92" lengthAdjust="spacingAndGlyphs" transform="rotate(-90.00 508.53 535.70)">PCCs</text>
<rect x="590.80" y="559.20" width="15.20" height="4.80" fill="#3274a1"/>
<rect x="590.80" y="568.20" width="15.20" height="4.80" fill="#e1812c"/>
<text x="606.60" y="564.48" font-size="8.29" textLength="16.31" lengthAdjust="spacingAndGlyphs">ADT</text>
<text x="606.60" y="573.48" font-size="8.29" textLength="16.80" lengthAdjust="spacingAndGlyphs">RNA</text>
<g transform="translate(547.30,593.76) rotate(-20)"><text x="0.00" y="2.15" font-size="6.83" text-anchor="middle" textLength="36.59" lengthAdjust="spacingAndGlyphs">Epithelial-1</text></g>
<g transform="translate(570.60,591.31) rotate(-20)"><text x="0.00" y="2.15" font-size="6.83" text-anchor="middle" textLength="22.28" lengthAdjust="spacingAndGlyphs">Follicle</text></g>
<g transform="translate(593.80,593.45) rotate(-20)"><text x="0.00" y="2.15" font-size="6.83" text-anchor="middle" textLength="34.80" lengthAdjust="spacingAndGlyphs">T cell zone</text></g>
<g transform="translate(617.00,596.50) rotate(-20)"><text x="0.00" y="2.15" font-size="6.83" text-anchor="middle" textLength="52.62" lengthAdjust="spacingAndGlyphs">Germinal center</text></g>
<g transform="translate(640.30,596.78) rotate(-20)"><text x="0.00" y="2.15" font-size="6.83" text-anchor="middle" textLength="54.24" lengthAdjust="spacingAndGlyphs">Plasma cell zone</text></g>
<g transform="translate(663.50,593.76) rotate(-20)"><text x="0.00" y="2.15" font-size="6.83" text-anchor="middle" textLength="36.59" lengthAdjust="spacingAndGlyphs">Epithelial-2</text></g>
<text x="288.60" y="618.70" font-size="15.96" font-weight="bold">g</text>
<rect x="324.38" y="679.35" width="3.65" height="32.75" fill="#7b7b7b" stroke="#222" stroke-opacity="0.55" stroke-width="0.35"/>
<line x1="326.20" y1="671.89" x2="326.20" y2="686.82" stroke="#444" stroke-width="0.5"/>
<circle cx="326.29" cy="687.96" r="0.55" fill="#333" fill-opacity="0.8"/>
<circle cx="326.41" cy="683.62" r="0.55" fill="#333" fill-opacity="0.8"/>
<circle cx="325.33" cy="675.23" r="0.55" fill="#333" fill-opacity="0.8"/>
<circle cx="326.87" cy="695.34" r="0.55" fill="#333" fill-opacity="0.8"/>
<circle cx="325.67" cy="687.25" r="0.55" fill="#333" fill-opacity="0.8"/>
<rect x="328.03" y="661.95" width="3.65" height="50.15" fill="#3a9a3a" stroke="#222" stroke-opacity="0.55" stroke-width="0.35"/>
<line x1="329.85" y1="658.63" x2="329.85" y2="665.26" stroke="#444" stroke-width="0.5"/>
<circle cx="329.79" cy="654.71" r="0.55" fill="#1d5e1d" fill-opacity="0.8"/>
<circle cx="329.80" cy="657.04" r="0.55" fill="#1d5e1d" fill-opacity="0.8"/>
<circle cx="329.15" cy="659.92" r="0.55" fill="#1d5e1d" fill-opacity="0.8"/>
<circle cx="330.59" cy="659.98" r="0.55" fill="#1d5e1d" fill-opacity="0.8"/>
<circle cx="330.33" cy="661.61" r="0.55" fill="#1d5e1d" fill-opacity="0.8"/>
<rect x="331.68" y="649.10" width="3.65" height="63.00" fill="#c9403f" stroke="#222" stroke-opacity="0.55" stroke-width="0.35"/>
<line x1="333.50" y1="645.37" x2="333.50" y2="652.83" stroke="#444" stroke-width="0.5"/>
<circle cx="332.63" cy="646.28" r="0.55" fill="#7a1a1a" fill-opacity="0.8"/>
<circle cx="333.68" cy="644.86" r="0.55" fill="#7a1a1a" fill-opacity="0.8"/>
<circle cx="332.56" cy="652.36" r="0.55" fill="#7a1a1a" fill-opacity="0.8"/>
<circle cx="333.45" cy="643.10" r="0.55" fill="#7a1a1a" fill-opacity="0.8"/>
<circle cx="334.26" cy="645.50" r="0.55" fill="#7a1a1a" fill-opacity="0.8"/>
<rect x="335.32" y="648.27" width="3.65" height="63.83" fill="#2f79b3" stroke="#222" stroke-opacity="0.55" stroke-width="0.35"/>
<line x1="337.15" y1="645.78" x2="337.15" y2="650.75" stroke="#444" stroke-width="0.5"/>
<circle cx="337.99" cy="645.92" r="0.55" fill="#1a4a73" fill-opacity="0.8"/>
<circle cx="337.75" cy="649.42" r="0.55" fill="#1a4a73" fill-opacity="0.8"/>
<circle cx="338.02" cy="648.87" r="0.55" fill="#1a4a73" fill-opacity="0.8"/>
<circle cx="336.34" cy="644.12" r="0.55" fill="#1a4a73" fill-opacity="0.8"/>
<circle cx="336.58" cy="652.25" r="0.55" fill="#1a4a73" fill-opacity="0.8"/>
<rect x="338.98" y="639.98" width="3.65" height="72.12" fill="#e47bc2" stroke="#222" stroke-opacity="0.55" stroke-width="0.35"/>
<line x1="340.80" y1="637.08" x2="340.80" y2="642.88" stroke="#444" stroke-width="0.5"/>
<circle cx="340.67" cy="634.03" r="0.55" fill="#8a2f6f" fill-opacity="0.8"/>
<circle cx="340.40" cy="638.36" r="0.55" fill="#8a2f6f" fill-opacity="0.8"/>
<circle cx="340.57" cy="639.88" r="0.55" fill="#8a2f6f" fill-opacity="0.8"/>
<circle cx="340.97" cy="641.88" r="0.55" fill="#8a2f6f" fill-opacity="0.8"/>
<circle cx="341.61" cy="638.90" r="0.55" fill="#8a2f6f" fill-opacity="0.8"/>
<line x1="333.50" y1="712.10" x2="333.50" y2="714.70" stroke="#222" stroke-width="0.8"/>
<rect x="360.57" y="666.09" width="3.65" height="46.01" fill="#7b7b7b" stroke="#222" stroke-opacity="0.55" stroke-width="0.35"/>
<line x1="362.40" y1="661.12" x2="362.40" y2="671.06" stroke="#444" stroke-width="0.5"/>
<circle cx="363.26" cy="662.11" r="0.55" fill="#333" fill-opacity="0.8"/>
<circle cx="363.38" cy="658.29" r="0.55" fill="#333" fill-opacity="0.8"/>
<circle cx="361.73" cy="662.34" r="0.55" fill="#333" fill-opacity="0.8"/>
<circle cx="363.33" cy="658.20" r="0.55" fill="#333" fill-opacity="0.8"/>
<circle cx="362.54" cy="657.23" r="0.55" fill="#333" fill-opacity="0.8"/>
<rect x="364.23" y="660.70" width="3.65" height="51.40" fill="#3a9a3a" stroke="#222" stroke-opacity="0.55" stroke-width="0.35"/>
<line x1="366.05" y1="657.39" x2="366.05" y2="664.02" stroke="#444" stroke-width="0.5"/>
<circle cx="365.47" cy="657.58" r="0.55" fill="#1d5e1d" fill-opacity="0.8"/>
<circle cx="366.20" cy="655.86" r="0.55" fill="#1d5e1d" fill-opacity="0.8"/>
<circle cx="365.18" cy="663.84" r="0.55" fill="#1d5e1d" fill-opacity="0.8"/>
<circle cx="367.03" cy="655.54" r="0.55" fill="#1d5e1d" fill-opacity="0.8"/>
<circle cx="366.65" cy="666.71" r="0.55" fill="#1d5e1d" fill-opacity="0.8"/>
<rect x="367.88" y="646.19" width="3.65" height="65.91" fill="#c9403f" stroke="#222" stroke-opacity="0.55" stroke-width="0.35"/>
<line x1="369.70" y1="642.88" x2="369.70" y2="649.51" stroke="#444" stroke-width="0.5"/>
<circle cx="369.00" cy="647.50" r="0.55" fill="#7a1a1a" fill-opacity="0.8"/>
<circle cx="370.24" cy="649.20" r="0.55" fill="#7a1a1a" fill-opacity="0.8"/>
<circle cx="368.79" cy="640.76" r="0.55" fill="#7a1a1a" fill-opacity="0.8"/>
<circle cx="368.79" cy="644.52" r="0.55" fill="#7a1a1a" fill-opacity="0.8"/>
<circle cx="369.36" cy="643.01" r="0.55" fill="#7a1a1a" fill-opacity="0.8"/>
<rect x="371.52" y="644.54" width="3.65" height="67.56" fill="#2f79b3" stroke="#222" stroke-opacity="0.55" stroke-width="0.35"/>
<line x1="373.35" y1="642.46" x2="373.35" y2="646.61" stroke="#444" stroke-width="0.5"/>
<circle cx="374.31" cy="641.06" r="0.55" fill="#1a4a73" fill-opacity="0.8"/>
<circle cx="374.35" cy="644.49" r="0.55" fill="#1a4a73" fill-opacity="0.8"/>
<circle cx="372.50" cy="646.27" r="0.55" fill="#1a4a73" fill-opacity="0.8"/>
<circle cx="372.41" cy="643.63" r="0.55" fill="#1a4a73" fill-opacity="0.8"/>
<circle cx="373.17" cy="647.30" r="0.55" fill="#1a4a73" fill-opacity="0.8"/>
<rect x="375.18" y="641.22" width="3.65" height="70.88" fill="#e47bc2" stroke="#222" stroke-opacity="0.55" stroke-width="0.35"/>
<line x1="377.00" y1="638.32" x2="377.00" y2="644.12" stroke="#444" stroke-width="0.5"/>
<circle cx="376.31" cy="639.81" r="0.55" fill="#8a2f6f" fill-opacity="0.8"/>
<circle cx="377.74" cy="647.06" r="0.55" fill="#8a2f6f" fill-opacity="0.8"/>
<circle cx="377.92" cy="643.60" r="0.55" fill="#8a2f6f" fill-opacity="0.8"/>
<circle cx="376.76" cy="636.16" r="0.55" fill="#8a2f6f" fill-opacity="0.8"/>
<circle cx="377.04" cy="641.73" r="0.55" fill="#8a2f6f" fill-opacity="0.8"/>
<line x1="369.70" y1="712.10" x2="369.70" y2="714.70" stroke="#222" stroke-width="0.8"/>
<rect x="396.77" y="662.36" width="3.65" height="49.74" fill="#7b7b7b" stroke="#222" stroke-opacity="0.55" stroke-width="0.35"/>
<line x1="398.60" y1="657.39" x2="398.60" y2="667.33" stroke="#444" stroke-width="0.5"/>
<circle cx="398.79" cy="659.21" r="0.55" fill="#333" fill-opacity="0.8"/>
<circle cx="398.84" cy="661.06" r="0.55" fill="#333" fill-opacity="0.8"/>
<circle cx="398.61" cy="652.72" r="0.55" fill="#333" fill-opacity="0.8"/>
<circle cx="399.04" cy="663.87" r="0.55" fill="#333" fill-opacity="0.8"/>
<circle cx="398.20" cy="668.10" r="0.55" fill="#333" fill-opacity="0.8"/>
<rect x="400.43" y="654.48" width="3.65" height="57.62" fill="#3a9a3a" stroke="#222" stroke-opacity="0.55" stroke-width="0.35"/>
<line x1="402.25" y1="650.34" x2="402.25" y2="658.63" stroke="#444" stroke-width="0.5"/>
<circle cx="402.29" cy="645.77" r="0.55" fill="#1d5e1d" fill-opacity="0.8"/>
<circle cx="401.27" cy="653.60" r="0.55" fill="#1d5e1d" fill-opacity="0.8"/>
<circle cx="402.41" cy="656.03" r="0.55" fill="#1d5e1d" fill-opacity="0.8"/>
<circle cx="402.48" cy="663.24" r="0.55" fill="#1d5e1d" fill-opacity="0.8"/>
<circle cx="401.37" cy="652.07" r="0.55" fill="#1d5e1d" fill-opacity="0.8"/>
<rect x="404.07" y="644.12" width="3.65" height="67.98" fill="#c9403f" stroke="#222" stroke-opacity="0.55" stroke-width="0.35"/>
<line x1="405.90" y1="639.98" x2="405.90" y2="648.27" stroke="#444" stroke-width="0.5"/>
<circle cx="405.83" cy="641.80" r="0.55" fill="#7a1a1a" fill-opacity="0.8"/>
<circle cx="405.61" cy="640.85" r="0.55" fill="#7a1a1a" fill-opacity="0.8"/>
<circle cx="406.38" cy="640.35" r="0.55" fill="#7a1a1a" fill-opacity="0.8"/>
<circle cx="405.02" cy="652.84" r="0.55" fill="#7a1a1a" fill-opacity="0.8"/>
<circle cx="406.83" cy="640.91" r="0.55" fill="#7a1a1a" fill-opacity="0.8"/>
<rect x="407.72" y="645.37" width="3.65" height="66.73" fill="#2f79b3" stroke="#222" stroke-opacity="0.55" stroke-width="0.35"/>
<line x1="409.55" y1="642.46" x2="409.55" y2="648.27" stroke="#444" stroke-width="0.5"/>
<circle cx="409.46" cy="648.54" r="0.55" fill="#1a4a73" fill-opacity="0.8"/>
<circle cx="409.19" cy="644.18" r="0.55" fill="#1a4a73" fill-opacity="0.8"/>
<circle cx="409.18" cy="647.10" r="0.55" fill="#1a4a73" fill-opacity="0.8"/>
<circle cx="409.74" cy="647.04" r="0.55" fill="#1a4a73" fill-opacity="0.8"/>
<circle cx="409.30" cy="647.91" r="0.55" fill="#1a4a73" fill-opacity="0.8"/>
<rect x="411.38" y="634.17" width="3.65" height="77.93" fill="#e47bc2" stroke="#222" stroke-opacity="0.55" stroke-width="0.35"/>
<line x1="413.20" y1="631.69" x2="413.20" y2="636.66" stroke="#444" stroke-width="0.5"/>
<circle cx="412.25" cy="631.19" r="0.55" fill="#8a2f6f" fill-opacity="0.8"/>
<circle cx="413.67" cy="633.42" r="0.55" fill="#8a2f6f" fill-opacity="0.8"/>
<circle cx="412.65" cy="636.25" r="0.55" fill="#8a2f6f" fill-opacity="0.8"/>
<circle cx="412.68" cy="630.85" r="0.55" fill="#8a2f6f" fill-opacity="0.8"/>
<circle cx="413.07" cy="637.59" r="0.55" fill="#8a2f6f" fill-opacity="0.8"/>
<line x1="405.90" y1="712.10" x2="405.90" y2="714.70" stroke="#222" stroke-width="0.8"/>
<rect x="432.98" y="691.38" width="3.65" height="20.73" fill="#7b7b7b" stroke="#222" stroke-opacity="0.55" stroke-width="0.35"/>
<line x1="434.80" y1="682.26" x2="434.80" y2="700.49" stroke="#444" stroke-width="0.5"/>
<circle cx="434.00" cy="683.43" r="0.55" fill="#333" fill-opacity="0.8"/>
<circle cx="434.47" cy="698.52" r="0.55" fill="#333" fill-opacity="0.8"/>
<circle cx="434.68" cy="677.99" r="0.55" fill="#333" fill-opacity="0.8"/>
<circle cx="434.14" cy="677.11" r="0.55" fill="#333" fill-opacity="0.8"/>
<circle cx="435.10" cy="697.93" r="0.55" fill="#333" fill-opacity="0.8"/>
<rect x="436.63" y="670.24" width="3.65" height="41.86" fill="#3a9a3a" stroke="#222" stroke-opacity="0.55" stroke-width="0.35"/>
<line x1="438.45" y1="667.33" x2="438.45" y2="673.14" stroke="#444" stroke-width="0.5"/>
<circle cx="438.35" cy="665.32" r="0.55" fill="#1d5e1d" fill-opacity="0.8"/>
<circle cx="437.69" cy="673.75" r="0.55" fill="#1d5e1d" fill-opacity="0.8"/>
<circle cx="437.83" cy="669.86" r="0.55" fill="#1d5e1d" fill-opacity="0.8"/>
<circle cx="439.13" cy="666.32" r="0.55" fill="#1d5e1d" fill-opacity="0.8"/>
<circle cx="438.01" cy="674.28" r="0.55" fill="#1d5e1d" fill-opacity="0.8"/>
<rect x="440.28" y="654.48" width="3.65" height="57.62" fill="#c9403f" stroke="#222" stroke-opacity="0.55" stroke-width="0.35"/>
<line x1="442.10" y1="651.17" x2="442.10" y2="657.80" stroke="#444" stroke-width="0.5"/>
<circle cx="442.38" cy="650.00" r="0.55" fill="#7a1a1a" fill-opacity="0.8"/>
<circle cx="441.79" cy="650.02" r="0.55" fill="#7a1a1a" fill-opacity="0.8"/>
<circle cx="441.68" cy="659.89" r="0.55" fill="#7a1a1a" fill-opacity="0.8"/>
<circle cx="441.64" cy="650.20" r="0.55" fill="#7a1a1a" fill-opacity="0.8"/>
<circle cx="441.93" cy="656.73" r="0.55" fill="#7a1a1a" fill-opacity="0.8"/>
<rect x="443.93" y="655.31" width="3.65" height="56.79" fill="#2f79b3" stroke="#222" stroke-opacity="0.55" stroke-width="0.35"/>
<line x1="445.75" y1="652.83" x2="445.75" y2="657.80" stroke="#444" stroke-width="0.5"/>
<circle cx="445.57" cy="656.19" r="0.55" fill="#1a4a73" fill-opacity="0.8"/>
<circle cx="445.06" cy="650.71" r="0.55" fill="#1a4a73" fill-opacity="0.8"/>
<circle cx="446.64" cy="660.73" r="0.55" fill="#1a4a73" fill-opacity="0.8"/>
<circle cx="446.72" cy="651.16" r="0.55" fill="#1a4a73" fill-opacity="0.8"/>
<circle cx="446.65" cy="656.03" r="0.55" fill="#1a4a73" fill-opacity="0.8"/>
<rect x="447.58" y="644.12" width="3.65" height="67.98" fill="#e47bc2" stroke="#222" stroke-opacity="0.55" stroke-width="0.35"/>
<line x1="449.40" y1="641.64" x2="449.40" y2="646.61" stroke="#444" stroke-width="0.5"/>
<circle cx="448.84" cy="639.45" r="0.55" fill="#8a2f6f" fill-opacity="0.8"/>
<circle cx="450.07" cy="641.44" r="0.55" fill="#8a2f6f" fill-opacity="0.8"/>
<circle cx="449.44" cy="642.34" r="0.55" fill="#8a2f6f" fill-opacity="0.8"/>
<circle cx="449.08" cy="646.43" r="0.55" fill="#8a2f6f" fill-opacity="0.8"/>
<circle cx="448.54" cy="647.10" r="0.55" fill="#8a2f6f" fill-opacity="0.8"/>
<line x1="442.10" y1="712.10" x2="442.10" y2="714.70" stroke="#222" stroke-width="0.8"/>
<line x1="318.00" y1="619.40" x2="318.00" y2="712.30" stroke="#222" stroke-width="0.9"/>
<line x1="317.60" y1="712.20" x2="457.80" y2="712.20" stroke="#222" stroke-width="0.9"/>
<line x1="315.40" y1="712.10" x2="318.00" y2="712.10" stroke="#222" stroke-width="0.8"/>
<text x="312.30" y="714.92" font-size="6.95" text-anchor="end" textLength="14.74" lengthAdjust="spacingAndGlyphs">0.00</text>
<line x1="315.40" y1="691.38" x2="318.00" y2="691.38" stroke="#222" stroke-width="0.8"/>
<text x="312.30" y="694.19" font-size="6.95" text-anchor="end" textLength="14.74" lengthAdjust="spacingAndGlyphs">0.05</text>
<line x1="315.40" y1="670.65" x2="318.00" y2="670.65" stroke="#222" stroke-width="0.8"/>
<text x="312.30" y="673.47" font-size="6.95" text-anchor="end" textLength="14.74" lengthAdjust="spacingAndGlyphs">0.10</text>
<line x1="315.40" y1="649.93" x2="318.00" y2="649.93" stroke="#222" stroke-width="0.8"/>
<text x="312.30" y="652.74" font-size="6.95" text-anchor="end" textLength="14.74" lengthAdjust="spacingAndGlyphs">0.15</text>
<line x1="315.40" y1="629.20" x2="318.00" y2="629.20" stroke="#222" stroke-width="0.8"/>
<text x="312.30" y="632.02" font-size="6.95" text-anchor="end" textLength="14.74" lengthAdjust="spacingAndGlyphs">0.20</text>
<text x="333.50" y="723.71" font-size="6.93" text-anchor="middle" textLength="8.18" lengthAdjust="spacingAndGlyphs">All</text>
<text x="369.70" y="723.71" font-size="6.93" text-anchor="middle" textLength="18.99" lengthAdjust="spacingAndGlyphs">slice1</text>
<text x="405.90" y="723.71" font-size="6.93" text-anchor="middle" textLength="18.99" lengthAdjust="spacingAndGlyphs">slice2</text>
<text x="442.10" y="723.71" font-size="6.93" text-anchor="middle" textLength="18.99" lengthAdjust="spacingAndGlyphs">slice3</text>
<text x="292.03" y="664.80" font-size="8.72" text-anchor="middle" textLength="13.89" lengthAdjust="spacingAndGlyphs" transform="rotate(-90.00 292.03 664.80)">ARI</text>
<text x="473.20" y="620.40" font-size="15.96" font-weight="bold">h</text>
<line x1="523.50" y1="626.30" x2="523.50" y2="629.70" stroke="#555" stroke-width="0.5"/>
<line x1="523.50" y1="641.50" x2="523.50" y2="650.70" stroke="#555" stroke-width="0.5"/>
<line x1="522.50" y1="626.30" x2="524.50" y2="626.30" stroke="#555" stroke-width="0.5"/>
<line x1="522.50" y1="650.70" x2="524.50" y2="650.70" stroke="#555" stroke-width="0.5"/>
<rect x="521.58" y="629.70" width="3.85" height="11.80" fill="#8a8a8a" stroke="#444" stroke-opacity="0.5" stroke-width="0.4"/>
<line x1="521.58" y1="637.40" x2="525.43" y2="637.40" stroke="#444" stroke-width="0.5"/>
<line x1="527.35" y1="626.60" x2="527.35" y2="627.20" stroke="#555" stroke-width="0.5"/>
<line x1="527.35" y1="637.40" x2="527.35" y2="646.40" stroke="#555" stroke-width="0.5"/>
<line x1="526.35" y1="626.60" x2="528.35" y2="626.60" stroke="#555" stroke-width="0.5"/>
<line x1="526.35" y1="646.40" x2="528.35" y2="646.40" stroke="#555" stroke-width="0.5"/>
<rect x="525.43" y="627.20" width="3.85" height="10.20" fill="#2f79b3" stroke="#444" stroke-opacity="0.5" stroke-width="0.4"/>
<line x1="525.43" y1="631.20" x2="529.28" y2="631.20" stroke="#444" stroke-width="0.5"/>
<line x1="531.20" y1="627.50" x2="531.20" y2="629.20" stroke="#555" stroke-width="0.5"/>
<line x1="531.20" y1="633.60" x2="531.20" y2="634.50" stroke="#555" stroke-width="0.5"/>
<line x1="530.20" y1="627.50" x2="532.20" y2="627.50" stroke="#555" stroke-width="0.5"/>
<line x1="530.20" y1="634.50" x2="532.20" y2="634.50" stroke="#555" stroke-width="0.5"/>
<rect x="529.28" y="629.20" width="3.85" height="4.40" fill="#c53a3b" stroke="#444" stroke-opacity="0.5" stroke-width="0.4"/>
<line x1="529.28" y1="631.00" x2="533.13" y2="631.00" stroke="#444" stroke-width="0.5"/>
<line x1="535.05" y1="625.50" x2="535.05" y2="626.10" stroke="#555" stroke-width="0.5"/>
<line x1="535.05" y1="630.20" x2="535.05" y2="630.80" stroke="#555" stroke-width="0.5"/>
<line x1="534.05" y1="625.50" x2="536.05" y2="625.50" stroke="#555" stroke-width="0.5"/>
<line x1="534.05" y1="630.80" x2="536.05" y2="630.80" stroke="#555" stroke-width="0.5"/>
<rect x="533.13" y="626.10" width="3.85" height="4.10" fill="#37a037" stroke="#444" stroke-opacity="0.5" stroke-width="0.4"/>
<line x1="533.13" y1="628.00" x2="536.98" y2="628.00" stroke="#444" stroke-width="0.5"/>
<line x1="538.90" y1="626.00" x2="538.90" y2="627.00" stroke="#555" stroke-width="0.5"/>
<line x1="538.90" y1="629.20" x2="538.90" y2="629.80" stroke="#555" stroke-width="0.5"/>
<line x1="537.90" y1="626.00" x2="539.90" y2="626.00" stroke="#555" stroke-width="0.5"/>
<line x1="537.90" y1="629.80" x2="539.90" y2="629.80" stroke="#555" stroke-width="0.5"/>
<rect x="536.98" y="627.00" width="3.85" height="2.20" fill="#e87cc3" stroke="#444" stroke-opacity="0.5" stroke-width="0.4"/>
<line x1="536.98" y1="628.00" x2="540.83" y2="628.00" stroke="#444" stroke-width="0.5"/>
<circle cx="535.30" cy="646.40" r="1.20" fill="#3a3a3a"/>
<line x1="531.20" y1="712.40" x2="531.20" y2="715.00" stroke="#222" stroke-width="0.8"/>
<line x1="562.10" y1="624.10" x2="562.10" y2="631.00" stroke="#555" stroke-width="0.5"/>
<line x1="562.10" y1="641.00" x2="562.10" y2="653.50" stroke="#555" stroke-width="0.5"/>
<line x1="561.10" y1="624.10" x2="563.10" y2="624.10" stroke="#555" stroke-width="0.5"/>
<line x1="561.10" y1="653.50" x2="563.10" y2="653.50" stroke="#555" stroke-width="0.5"/>
<rect x="560.17" y="631.00" width="3.85" height="10.00" fill="#8a8a8a" stroke="#444" stroke-opacity="0.5" stroke-width="0.4"/>
<line x1="560.17" y1="638.40" x2="564.02" y2="638.40" stroke="#444" stroke-width="0.5"/>
<line x1="565.95" y1="626.70" x2="565.95" y2="627.00" stroke="#555" stroke-width="0.5"/>
<line x1="565.95" y1="637.90" x2="565.95" y2="650.50" stroke="#555" stroke-width="0.5"/>
<line x1="564.95" y1="626.70" x2="566.95" y2="626.70" stroke="#555" stroke-width="0.5"/>
<line x1="564.95" y1="650.50" x2="566.95" y2="650.50" stroke="#555" stroke-width="0.5"/>
<rect x="564.02" y="627.00" width="3.85" height="10.90" fill="#2f79b3" stroke="#444" stroke-opacity="0.5" stroke-width="0.4"/>
<line x1="564.02" y1="632.00" x2="567.88" y2="632.00" stroke="#444" stroke-width="0.5"/>
<line x1="569.80" y1="627.50" x2="569.80" y2="628.20" stroke="#555" stroke-width="0.5"/>
<line x1="569.80" y1="634.10" x2="569.80" y2="634.80" stroke="#555" stroke-width="0.5"/>
<line x1="568.80" y1="627.50" x2="570.80" y2="627.50" stroke="#555" stroke-width="0.5"/>
<line x1="568.80" y1="634.80" x2="570.80" y2="634.80" stroke="#555" stroke-width="0.5"/>
<rect x="567.88" y="628.20" width="3.85" height="5.90" fill="#c53a3b" stroke="#444" stroke-opacity="0.5" stroke-width="0.4"/>
<line x1="567.88" y1="630.50" x2="571.73" y2="630.50" stroke="#444" stroke-width="0.5"/>
<line x1="573.65" y1="627.00" x2="573.65" y2="627.70" stroke="#555" stroke-width="0.5"/>
<line x1="573.65" y1="631.80" x2="573.65" y2="632.40" stroke="#555" stroke-width="0.5"/>
<line x1="572.65" y1="627.00" x2="574.65" y2="627.00" stroke="#555" stroke-width="0.5"/>
<line x1="572.65" y1="632.40" x2="574.65" y2="632.40" stroke="#555" stroke-width="0.5"/>
<rect x="571.73" y="627.70" width="3.85" height="4.10" fill="#37a037" stroke="#444" stroke-opacity="0.5" stroke-width="0.4"/>
<line x1="571.73" y1="629.50" x2="575.58" y2="629.50" stroke="#444" stroke-width="0.5"/>
<line x1="577.50" y1="627.50" x2="577.50" y2="628.20" stroke="#555" stroke-width="0.5"/>
<line x1="577.50" y1="630.00" x2="577.50" y2="630.50" stroke="#555" stroke-width="0.5"/>
<line x1="576.50" y1="627.50" x2="578.50" y2="627.50" stroke="#555" stroke-width="0.5"/>
<line x1="576.50" y1="630.50" x2="578.50" y2="630.50" stroke="#555" stroke-width="0.5"/>
<rect x="575.58" y="628.20" width="3.85" height="1.80" fill="#e87cc3" stroke="#444" stroke-opacity="0.5" stroke-width="0.4"/>
<line x1="575.58" y1="629.00" x2="579.43" y2="629.00" stroke="#444" stroke-width="0.5"/>
<circle cx="573.80" cy="648.80" r="1.20" fill="#3a3a3a"/>
<line x1="569.80" y1="712.40" x2="569.80" y2="715.00" stroke="#222" stroke-width="0.8"/>
<line x1="601.60" y1="642.50" x2="601.60" y2="649.60" stroke="#555" stroke-width="0.5"/>
<line x1="601.60" y1="708.40" x2="601.60" y2="708.40" stroke="#555" stroke-width="0.5"/>
<line x1="600.60" y1="642.50" x2="602.60" y2="642.50" stroke="#555" stroke-width="0.5"/>
<line x1="600.60" y1="708.40" x2="602.60" y2="708.40" stroke="#555" stroke-width="0.5"/>
<rect x="599.67" y="649.60" width="3.85" height="58.80" fill="#8a8a8a" stroke="#444" stroke-opacity="0.5" stroke-width="0.4"/>
<line x1="599.67" y1="652.10" x2="603.52" y2="652.10" stroke="#444" stroke-width="0.5"/>
<line x1="605.45" y1="625.50" x2="605.45" y2="625.80" stroke="#555" stroke-width="0.5"/>
<line x1="605.45" y1="634.80" x2="605.45" y2="646.30" stroke="#555" stroke-width="0.5"/>
<line x1="604.45" y1="625.50" x2="606.45" y2="625.50" stroke="#555" stroke-width="0.5"/>
<line x1="604.45" y1="646.30" x2="606.45" y2="646.30" stroke="#555" stroke-width="0.5"/>
<rect x="603.52" y="625.80" width="3.85" height="9.00" fill="#2f79b3" stroke="#444" stroke-opacity="0.5" stroke-width="0.4"/>
<line x1="603.52" y1="628.50" x2="607.38" y2="628.50" stroke="#444" stroke-width="0.5"/>
<line x1="609.30" y1="627.00" x2="609.30" y2="630.50" stroke="#555" stroke-width="0.5"/>
<line x1="609.30" y1="632.90" x2="609.30" y2="637.40" stroke="#555" stroke-width="0.5"/>
<line x1="608.30" y1="627.00" x2="610.30" y2="627.00" stroke="#555" stroke-width="0.5"/>
<line x1="608.30" y1="637.40" x2="610.30" y2="637.40" stroke="#555" stroke-width="0.5"/>
<rect x="607.38" y="630.50" width="3.85" height="2.40" fill="#c53a3b" stroke="#444" stroke-opacity="0.5" stroke-width="0.4"/>
<line x1="607.38" y1="631.50" x2="611.23" y2="631.50" stroke="#444" stroke-width="0.5"/>
<line x1="613.15" y1="626.00" x2="613.15" y2="626.20" stroke="#555" stroke-width="0.5"/>
<line x1="613.15" y1="632.60" x2="613.15" y2="633.00" stroke="#555" stroke-width="0.5"/>
<line x1="612.15" y1="626.00" x2="614.15" y2="626.00" stroke="#555" stroke-width="0.5"/>
<line x1="612.15" y1="633.00" x2="614.15" y2="633.00" stroke="#555" stroke-width="0.5"/>
<rect x="611.23" y="626.20" width="3.85" height="6.40" fill="#37a037" stroke="#444" stroke-opacity="0.5" stroke-width="0.4"/>
<line x1="611.23" y1="629.00" x2="615.08" y2="629.00" stroke="#444" stroke-width="0.5"/>
<line x1="617.00" y1="625.30" x2="617.00" y2="625.80" stroke="#555" stroke-width="0.5"/>
<line x1="617.00" y1="627.50" x2="617.00" y2="628.20" stroke="#555" stroke-width="0.5"/>
<line x1="616.00" y1="625.30" x2="618.00" y2="625.30" stroke="#555" stroke-width="0.5"/>
<line x1="616.00" y1="628.20" x2="618.00" y2="628.20" stroke="#555" stroke-width="0.5"/>
<rect x="615.08" y="625.80" width="3.85" height="1.70" fill="#e87cc3" stroke="#444" stroke-opacity="0.5" stroke-width="0.4"/>
<line x1="615.08" y1="626.50" x2="618.93" y2="626.50" stroke="#444" stroke-width="0.5"/>
<circle cx="613.10" cy="645.30" r="1.20" fill="#3a3a3a"/>
<line x1="609.30" y1="712.40" x2="609.30" y2="715.00" stroke="#222" stroke-width="0.8"/>
<line x1="511.70" y1="619.50" x2="511.70" y2="712.60" stroke="#222" stroke-width="0.9"/>
<line x1="511.30" y1="712.50" x2="628.50" y2="712.50" stroke="#222" stroke-width="0.9"/>
<line x1="509.10" y1="708.30" x2="511.70" y2="708.30" stroke="#222" stroke-width="0.8"/>
<text x="505.70" y="711.12" font-size="6.95" text-anchor="end" textLength="10.53" lengthAdjust="spacingAndGlyphs">0.0</text>
<line x1="509.10" y1="689.08" x2="511.70" y2="689.08" stroke="#222" stroke-width="0.8"/>
<text x="505.70" y="691.90" font-size="6.95" text-anchor="end" textLength="10.53" lengthAdjust="spacingAndGlyphs">0.2</text>
<line x1="509.10" y1="669.86" x2="511.70" y2="669.86" stroke="#222" stroke-width="0.8"/>
<text x="505.70" y="672.68" font-size="6.95" text-anchor="end" textLength="10.53" lengthAdjust="spacingAndGlyphs">0.4</text>
<line x1="509.10" y1="650.64" x2="511.70" y2="650.64" stroke="#222" stroke-width="0.8"/>
<text x="505.70" y="653.46" font-size="6.95" text-anchor="end" textLength="10.53" lengthAdjust="spacingAndGlyphs">0.6</text>
<line x1="509.10" y1="631.42" x2="511.70" y2="631.42" stroke="#222" stroke-width="0.8"/>
<text x="505.70" y="634.24" font-size="6.95" text-anchor="end" textLength="10.53" lengthAdjust="spacingAndGlyphs">0.8</text>
<text x="531.20" y="723.21" font-size="6.93" text-anchor="middle" textLength="18.99" lengthAdjust="spacingAndGlyphs">slice1</text>
<text x="569.80" y="723.21" font-size="6.93" text-anchor="middle" textLength="18.99" lengthAdjust="spacingAndGlyphs">slice2</text>
<text x="609.30" y="723.21" font-size="6.93" text-anchor="middle" textLength="18.99" lengthAdjust="spacingAndGlyphs">slice3</text>
<text x="490.97" y="666.00" font-size="8.82" text-anchor="middle" textLength="64.34" lengthAdjust="spacingAndGlyphs" transform="rotate(-90.00 490.97 666.00)">Moran's I Score</text>
<rect x="634.80" y="654.00" width="13.60" height="5.00" fill="#8a8a8a" stroke="#444" stroke-opacity="0.4" stroke-width="0.4"/>
<text x="649.00" y="658.91" font-size="6.93" textLength="21.88" lengthAdjust="spacingAndGlyphs">TotalVI</text>
<rect x="634.80" y="663.17" width="13.60" height="5.00" fill="#2f79b3" stroke="#444" stroke-opacity="0.4" stroke-width="0.4"/>
<text x="649.00" y="668.08" font-size="6.93" textLength="24.13" lengthAdjust="spacingAndGlyphs">MOFA+</text>
<rect x="634.80" y="672.34" width="13.60" height="5.00" fill="#c53a3b" stroke="#444" stroke-opacity="0.4" stroke-width="0.4"/>
<text x="649.00" y="677.25" font-size="6.93" textLength="35.93" lengthAdjust="spacingAndGlyphs">Present-BC</text>
<rect x="634.80" y="681.51" width="13.60" height="5.00" fill="#37a037" stroke="#444" stroke-opacity="0.4" stroke-width="0.4"/>
<text x="649.00" y="686.42" font-size="6.93" textLength="22.59" lengthAdjust="spacingAndGlyphs">MultiVI</text>
<rect x="634.80" y="690.68" width="13.60" height="5.00" fill="#e87cc3" stroke="#444" stroke-opacity="0.4" stroke-width="0.4"/>
<text x="649.00" y="695.59" font-size="6.93" textLength="34.20" lengthAdjust="spacingAndGlyphs">SMART-MS</text>
</svg>
</body></html>
